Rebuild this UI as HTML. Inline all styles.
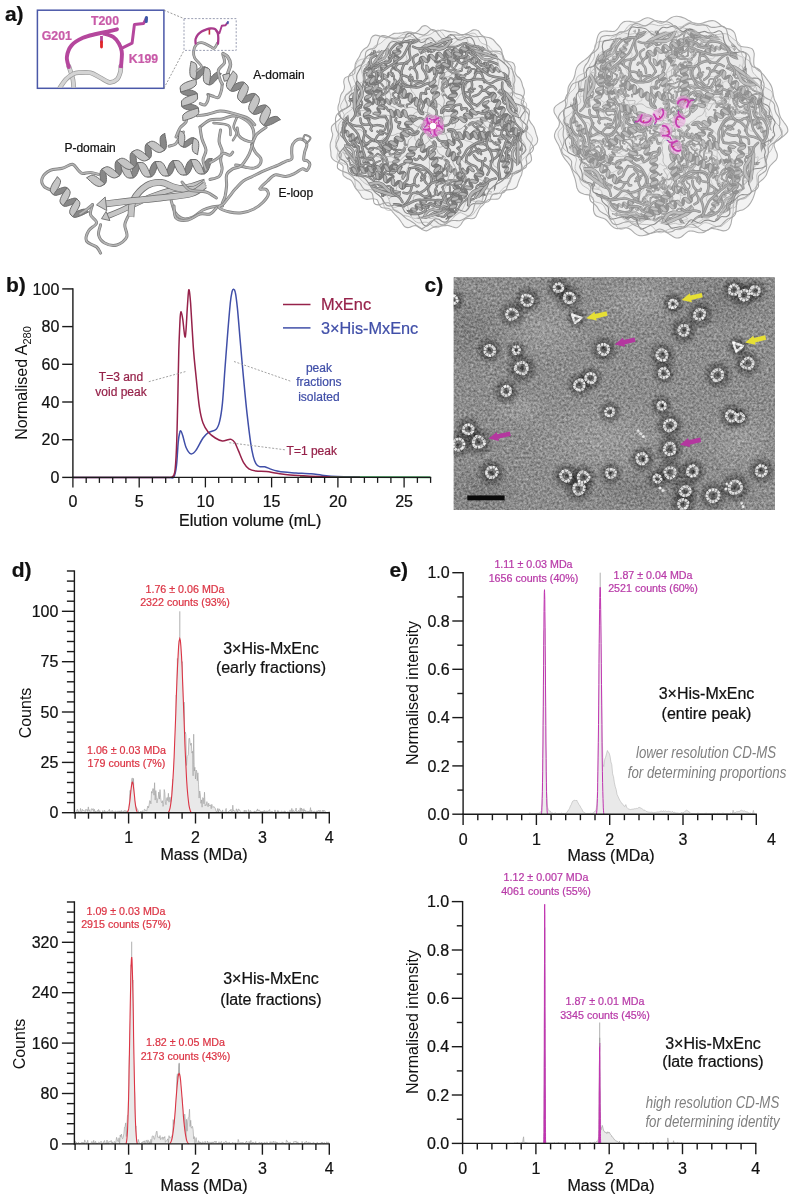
<!DOCTYPE html>
<html><head><meta charset="utf-8"><title>Figure</title>
<style>
html,body{margin:0;padding:0;background:#fff;}
body{width:793px;height:1199px;overflow:hidden;}
svg{display:block;font-family:"Liberation Sans",Arial,Helvetica,sans-serif;}
</style></head><body>
<svg width="793" height="1199" viewBox="0 0 793 1199">
<rect width="793" height="1199" fill="#fff"/>
<text x="6" y="292" font-size="21" fill="#111" font-weight="bold" stroke="#111" stroke-width="0.22">b)</text>
<path d="M72.9 477.4L150 477.4" stroke="#404fa8" stroke-width="1.5" fill="none"/>
<path d="M72.9 477.4L150 477.4" stroke="#96224a" stroke-width="1.5" fill="none"/>
<path d="M300 477L430 477.4" stroke="#2e9a4a" stroke-width="1.6" fill="none"/>
<path d="M150 477.4C153 477.4 164 477.5 168 477.4C172 477.3 172.4 479 173.8 477C175.2 475 175.8 471.2 176.5 465.4C177.2 459.6 177.7 447.8 178.2 442.4C178.7 436.9 179.2 434.6 179.7 432.7C180.1 430.8 180.4 430.6 180.9 431C181.4 431.4 181.8 432.6 182.7 435.4C183.6 438.2 184.8 444.6 186.2 447.7C187.6 450.8 189.4 453.4 191 453.9C192.6 454.3 193.9 453 195.9 450.4C197.9 447.8 200.9 440.9 203 438C205.1 435.1 206.1 434.2 208.3 432.7C210.5 431.2 214.3 431.1 216.2 429.2C218.1 427.3 218.7 425.5 219.7 421.2C220.7 416.9 221.5 412.4 222.4 403.6C223.3 394.8 224.1 380.1 225 368.3C225.9 356.5 226.8 343.9 227.7 333C228.6 322.1 229.6 309.9 230.3 303C231 296.1 231.6 293.8 232.1 291.5C232.6 289.2 233 289.1 233.5 289.2C234 289.3 234.7 289.2 235.3 292.4C236 295.6 236.6 300.5 237.4 308.2C238.2 315.9 239 326.5 240 338.3C241 350.1 242.4 366.2 243.6 378.9C244.8 391.5 245.9 403.6 247.1 414.2C248.3 424.8 249.6 435.3 250.6 442.4C251.6 449.5 252.4 453.1 253.3 456.6C254.2 460.1 254.9 461.9 255.9 463.6C256.9 465.3 258 466.1 259.5 466.6C261 467.1 263 466.4 264.8 466.8C266.6 467.2 268.1 468.2 270.1 468.9C272.2 469.6 274.8 470.5 277.1 471C279.5 471.5 281.1 471.8 284.2 472.1C287.3 472.4 291.5 472.6 296 472.9C300.5 473.2 306.7 473.4 311 473.8C315.3 474.2 317.7 474.7 322 475.2C326.3 475.7 330.7 476.3 337 476.6C343.3 476.9 356.2 477.1 360 477.2" stroke="#404fa8" stroke-width="1.5" fill="none" stroke-linejoin="round"/>
<path d="M150 477.4C152.5 477.4 161.5 477.4 165 477.4C168.5 477.4 169.6 478 171.2 477.2C172.8 476.4 173.8 477.3 174.7 472.4C175.6 467.5 176 459.2 176.5 447.7C177 436.2 177.3 419.8 177.7 403.6C178.1 387.4 178.4 364.4 178.8 350.6C179.2 336.8 179.7 327.1 180 320.6C180.3 314.1 180.5 312.1 180.9 311.8C181.3 311.5 182 314.6 182.7 318.8C183.4 323 184.5 338.9 185.3 336.9C186.1 334.8 186.8 314.4 187.4 306.5C188 298.6 188.3 290.3 188.8 289.7C189.3 289.1 189.8 293.4 190.6 303C191.3 312.6 192.4 334.5 193.3 347.1C194.2 359.8 195.3 368.9 196.3 378.9C197.3 388.9 198.3 399.8 199.4 407.1C200.5 414.5 201.5 418.8 203 423C204.5 427.2 206.2 429.7 208.3 432.2C210.4 434.7 213 436.5 215.3 438C217.7 439.5 220.3 440.7 222.4 441C224.5 441.3 226.2 440.1 227.7 439.8C229.2 439.5 230 439 231.2 439.4C232.4 439.8 233.5 440.6 234.7 442.4C235.9 444.2 236.8 447 238.3 450.4C239.8 453.8 241.8 459.6 243.6 462.7C245.4 465.8 246.8 467.5 248.9 468.9C251 470.3 253 470.6 255.9 471C258.8 471.4 263 471 266.5 471.4C270 471.8 273.2 472.7 277.1 473.3C281 473.9 284.5 474.6 290 475.1C295.5 475.6 302.5 475.9 310 476.2C317.5 476.5 326.7 476.8 335 477C343.3 477.2 355.8 477.2 360 477.3" stroke="#96224a" stroke-width="1.5" fill="none" stroke-linejoin="round"/>
<path d="M330 477.2L431 477.4" stroke="#2e9a4a" stroke-width="1.3" fill="none" opacity="0.9"/>
<line x1="72.9" y1="288.3" x2="72.9" y2="478" stroke="#1a1a1a" stroke-width="1.4" />
<line x1="72.2" y1="477.4" x2="431.2" y2="477.4" stroke="#1a1a1a" stroke-width="1.4" />
<line x1="62.2" y1="477.4" x2="72.9" y2="477.4" stroke="#1a1a1a" stroke-width="1.4" />
<text x="59.3" y="483.1" font-size="16" fill="#111" text-anchor="end" stroke="#111" stroke-width="0.22">0</text>
<line x1="62.2" y1="439.7" x2="72.9" y2="439.7" stroke="#1a1a1a" stroke-width="1.4" />
<text x="59.3" y="445.4" font-size="16" fill="#111" text-anchor="end" stroke="#111" stroke-width="0.22">20</text>
<line x1="62.2" y1="402" x2="72.9" y2="402" stroke="#1a1a1a" stroke-width="1.4" />
<text x="59.3" y="407.7" font-size="16" fill="#111" text-anchor="end" stroke="#111" stroke-width="0.22">40</text>
<line x1="62.2" y1="364.3" x2="72.9" y2="364.3" stroke="#1a1a1a" stroke-width="1.4" />
<text x="59.3" y="370" font-size="16" fill="#111" text-anchor="end" stroke="#111" stroke-width="0.22">60</text>
<line x1="62.2" y1="326.6" x2="72.9" y2="326.6" stroke="#1a1a1a" stroke-width="1.4" />
<text x="59.3" y="332.3" font-size="16" fill="#111" text-anchor="end" stroke="#111" stroke-width="0.22">80</text>
<line x1="62.2" y1="288.9" x2="72.9" y2="288.9" stroke="#1a1a1a" stroke-width="1.4" />
<text x="59.3" y="294.6" font-size="16" fill="#111" text-anchor="end" stroke="#111" stroke-width="0.22">100</text>
<line x1="72.9" y1="477.4" x2="72.9" y2="487.4" stroke="#1a1a1a" stroke-width="1.3" />
<text x="72.9" y="506.7" font-size="16" fill="#111" text-anchor="middle" stroke="#111" stroke-width="0.22">0</text>
<line x1="86.2" y1="477.4" x2="86.2" y2="482.9" stroke="#1a1a1a" stroke-width="1.3" />
<line x1="99.4" y1="477.4" x2="99.4" y2="482.9" stroke="#1a1a1a" stroke-width="1.3" />
<line x1="112.7" y1="477.4" x2="112.7" y2="482.9" stroke="#1a1a1a" stroke-width="1.3" />
<line x1="125.9" y1="477.4" x2="125.9" y2="482.9" stroke="#1a1a1a" stroke-width="1.3" />
<line x1="139.2" y1="477.4" x2="139.2" y2="487.4" stroke="#1a1a1a" stroke-width="1.3" />
<text x="139.2" y="506.7" font-size="16" fill="#111" text-anchor="middle" stroke="#111" stroke-width="0.22">5</text>
<line x1="152.4" y1="477.4" x2="152.4" y2="482.9" stroke="#1a1a1a" stroke-width="1.3" />
<line x1="165.7" y1="477.4" x2="165.7" y2="482.9" stroke="#1a1a1a" stroke-width="1.3" />
<line x1="178.9" y1="477.4" x2="178.9" y2="482.9" stroke="#1a1a1a" stroke-width="1.3" />
<line x1="192.2" y1="477.4" x2="192.2" y2="482.9" stroke="#1a1a1a" stroke-width="1.3" />
<line x1="205.4" y1="477.4" x2="205.4" y2="487.4" stroke="#1a1a1a" stroke-width="1.3" />
<text x="205.4" y="506.7" font-size="16" fill="#111" text-anchor="middle" stroke="#111" stroke-width="0.22">10</text>
<line x1="218.7" y1="477.4" x2="218.7" y2="482.9" stroke="#1a1a1a" stroke-width="1.3" />
<line x1="231.9" y1="477.4" x2="231.9" y2="482.9" stroke="#1a1a1a" stroke-width="1.3" />
<line x1="245.2" y1="477.4" x2="245.2" y2="482.9" stroke="#1a1a1a" stroke-width="1.3" />
<line x1="258.4" y1="477.4" x2="258.4" y2="482.9" stroke="#1a1a1a" stroke-width="1.3" />
<line x1="271.6" y1="477.4" x2="271.6" y2="487.4" stroke="#1a1a1a" stroke-width="1.3" />
<text x="271.6" y="506.7" font-size="16" fill="#111" text-anchor="middle" stroke="#111" stroke-width="0.22">15</text>
<line x1="284.9" y1="477.4" x2="284.9" y2="482.9" stroke="#1a1a1a" stroke-width="1.3" />
<line x1="298.1" y1="477.4" x2="298.1" y2="482.9" stroke="#1a1a1a" stroke-width="1.3" />
<line x1="311.4" y1="477.4" x2="311.4" y2="482.9" stroke="#1a1a1a" stroke-width="1.3" />
<line x1="324.6" y1="477.4" x2="324.6" y2="482.9" stroke="#1a1a1a" stroke-width="1.3" />
<line x1="337.9" y1="477.4" x2="337.9" y2="487.4" stroke="#1a1a1a" stroke-width="1.3" />
<text x="337.9" y="506.7" font-size="16" fill="#111" text-anchor="middle" stroke="#111" stroke-width="0.22">20</text>
<line x1="351.1" y1="477.4" x2="351.1" y2="482.9" stroke="#1a1a1a" stroke-width="1.3" />
<line x1="364.4" y1="477.4" x2="364.4" y2="482.9" stroke="#1a1a1a" stroke-width="1.3" />
<line x1="377.6" y1="477.4" x2="377.6" y2="482.9" stroke="#1a1a1a" stroke-width="1.3" />
<line x1="390.9" y1="477.4" x2="390.9" y2="482.9" stroke="#1a1a1a" stroke-width="1.3" />
<line x1="404.1" y1="477.4" x2="404.1" y2="487.4" stroke="#1a1a1a" stroke-width="1.3" />
<text x="404.1" y="506.7" font-size="16" fill="#111" text-anchor="middle" stroke="#111" stroke-width="0.22">25</text>
<line x1="417.4" y1="477.4" x2="417.4" y2="482.9" stroke="#1a1a1a" stroke-width="1.3" />
<line x1="430.6" y1="477.4" x2="430.6" y2="482.9" stroke="#1a1a1a" stroke-width="1.3" />
<text x="250.2" y="526.3" font-size="16" fill="#111" text-anchor="middle" stroke="#111" stroke-width="0.22">Elution volume (mL)</text>
<text transform="translate(26.5,383) rotate(-90)" font-size="16" fill="#111" text-anchor="middle">Normalised A<tspan font-size="11" dy="4">280</tspan></text>
<line x1="283" y1="304.5" x2="310.5" y2="304.5" stroke="#96224a" stroke-width="1.5" />
<line x1="283" y1="327.9" x2="310.5" y2="327.9" stroke="#404fa8" stroke-width="1.5" />
<text x="321" y="310.4" font-size="16.4" fill="#96224a" stroke="#96224a" stroke-width="0.22">MxEnc</text>
<text x="321" y="333.6" font-size="16.3" fill="#404fa8" stroke="#404fa8" stroke-width="0.22">3×His-MxEnc</text>
<text x="121" y="380.5" font-size="12" fill="#96224a" text-anchor="middle" stroke="#96224a" stroke-width="0.22">T=3 and</text>
<text x="121" y="395.7" font-size="12" fill="#96224a" text-anchor="middle" stroke="#96224a" stroke-width="0.22">void peak</text>
<text x="318.9" y="372" font-size="12" fill="#404fa8" text-anchor="middle" stroke="#404fa8" stroke-width="0.22">peak</text>
<text x="318.9" y="386.4" font-size="12" fill="#404fa8" text-anchor="middle" stroke="#404fa8" stroke-width="0.22">fractions</text>
<text x="318.9" y="400.9" font-size="12" fill="#404fa8" text-anchor="middle" stroke="#404fa8" stroke-width="0.22">isolated</text>
<text x="286.6" y="455" font-size="12" fill="#96224a" stroke="#96224a" stroke-width="0.22">T=1 peak</text>
<line x1="148.8" y1="381.7" x2="185.4" y2="371.6" stroke="#999" stroke-width="0.9" stroke-dasharray="2 1.6"/>
<line x1="234" y1="361.5" x2="291.5" y2="381.5" stroke="#999" stroke-width="0.9" stroke-dasharray="2 1.6"/>
<line x1="229.3" y1="442.7" x2="285" y2="449.8" stroke="#999" stroke-width="0.9" stroke-dasharray="2 1.6"/>
<text x="11.8" y="576.5" font-size="21" fill="#111" font-weight="bold" stroke="#111" stroke-width="0.22">d)</text>
<path d="M75.1 812.7L75.1 812.7L75.7 812.7L76.3 811.5L76.9 810.1L77.5 809.2L78.1 811.9L78.7 810.7L79.3 812.7L79.9 812.7L80.5 808.4L81.1 811.4L81.7 811.6L82.3 809.3L82.9 810.8L83.5 810.5L84.1 811L84.7 810.7L85.3 811.6L85.9 809.2L86.5 810.2L87.1 809.6L87.7 811.5L88.3 806.9L88.9 810.6L89.5 809.8L90.1 812.6L90.7 812.6L91.3 808.9L91.9 808.8L92.5 809.6L93.1 808.5L93.7 811.6L94.3 809.2L94.9 812.7L95.6 810.9L96.2 812.2L96.8 812.2L97.4 810.4L98 811.5L98.6 809.4L99.2 812.7L99.8 810.6L100.4 811.7L101 812.6L101.6 812.7L102.2 812.5L102.8 810.5L103.4 811.9L104 812.7L104.6 810.2L105.2 812.1L105.8 811.8L106.4 811.6L107 812.7L107.6 811.3L108.2 811L108.8 810.9L109.4 809.3L110 812.5L110.6 811.7L111.2 810.7L111.8 811.7L112.4 810.4L113 812.2L113.6 811.7L114.2 812.7L114.8 811.4L115.4 810.8L116 811.9L116.6 811.8L117.2 811.5L117.8 811L118.4 812.7L119 810.8L119.6 811.8L120.2 810.9L120.8 812.7L121.4 810.4L122 812.7L122.6 811.8L123.2 810.8L123.9 812.7L124.5 810.7L125.1 810.1L125.7 812.6L126.3 812.1L126.9 810.7L127.5 812.2L128.1 810.9L128.7 812.2L129.3 806.1L129.9 790.5L130.5 790.4L131.1 793.3L131.7 779.2L132.3 777.9L132.9 785.5L133.5 778.4L134.1 797.6L134.7 800.9L135.3 806.5L135.9 806.2L136.5 807.7L137.1 809L137.7 809.3L138.3 811L138.9 812.1L139.5 812.4L140.1 812.7L140.7 811.2L141.3 812.7L141.9 811.2L142.5 810.8L143.1 812.7L143.7 812.7L144.3 809.4L144.9 809.3L145.5 810.6L146.1 810.4L146.7 811.2L147.3 808L147.9 806L148.5 807.8L149.1 805L149.7 800.6L150.3 801L150.9 803.8L151.5 791.5L152.1 793.2L152.8 788.6L153.4 788.8L154 795.2L154.6 782.7L155.2 800.1L155.8 790.6L156.4 797.2L157 802.9L157.6 799.1L158.2 797.7L158.8 792L159.4 799.1L160 789.6L160.6 797.2L161.2 801.4L161.8 802.8L162.4 800.7L163 806.4L163.6 804.7L164.2 789.5L164.8 792.5L165.4 801.8L166 804.7L166.6 798.3L167.2 797.4L167.8 800.7L168.4 793.3L169 802.2L169.6 797.5L170.2 797.1L170.8 802.3L171.4 802.7L172 792.2L172.6 779.2L173.2 791.7L173.8 775.3L174.4 758.9L175 752.8L175.6 740.9L176.2 695.2L176.8 698.9L177.4 658.4L178 681.3L178.6 654L179.2 641.4L179.8 640.2L180.4 672.5L181 656.5L181.7 662.8L182.3 661.7L182.9 699.5L183.5 729.6L184.1 702.1L184.7 734.2L185.3 732.1L185.9 734.6L186.5 765.5L187.1 756.5L187.7 755.7L188.3 754.6L188.9 738.8L189.5 738.1L190.1 742.7L190.7 745.3L191.3 743.1L191.9 753.1L192.5 751.3L193.1 775.8L193.7 734.2L194.3 771L194.9 767.3L195.5 779L196.1 770L196.7 771.1L197.3 780.7L197.9 772.8L198.5 784.2L199.1 798.1L199.7 791L200.3 794.2L200.9 803.3L201.5 799.9L202.1 807.2L202.7 797.6L203.3 798L203.9 803.8L204.5 792.2L205.1 805.9L205.7 804.7L206.3 805.3L206.9 801.6L207.5 805L208.1 806.8L208.7 803.2L209.3 805.9L210 805L210.6 805L211.2 808.7L211.8 804.3L212.4 806.8L213 807.5L213.6 806.6L214.2 806.8L214.8 807.8L215.4 808.6L216 810.8L216.6 812.2L217.2 811L217.8 808.4L218.4 812.3L219 808.8L219.6 809.3L220.2 811L220.8 810.8L221.4 812.1L222 812.7L222.6 809.9L223.2 812.4L223.8 812.7L224.4 812.1L225 812.7L225.6 809.5L226.2 808.4L226.8 812.7L227.4 812.7L228 811.7L228.6 811.7L229.2 810.9L229.8 810.3L230.4 811L231 809.2L231.6 812.5L232.2 812.7L232.8 805.2L233.4 811.1L234 810.3L234.6 811.7L235.2 812.7L235.8 811.5L236.4 808.8L237 810.4L237.6 812.3L238.2 809.2L238.9 809.2L239.5 810.3L240.1 810.5L240.7 811.4L241.3 812.7L241.9 812.2L242.5 812.2L243.1 812.7L243.7 812L244.3 810.1L244.9 812.6L245.5 810.8L246.1 810.1L246.7 812.4L247.3 812.7L247.9 812.7L248.5 809.6L249.1 811.2L249.7 812.7L250.3 810.5L250.9 810.9L251.5 812.7L252.1 811.8L252.7 812.7L253.3 811.7L253.9 812.7L254.5 810.9L255.1 812.2L255.7 812.1L256.3 810.7L256.9 811L257.5 808.9L258.1 810.9L258.7 810.2L259.3 810.2L259.9 810.5L260.5 812L261.1 811L261.7 812.3L262.3 811.2L262.9 812.2L263.5 810.8L264.1 812.7L264.7 810.4L265.3 811.7L265.9 811.8L266.5 810.8L267.1 812.7L267.8 810.9L268.4 811.1L269 810.5L269.6 809.6L270.2 812.4L270.8 811.7L271.4 811.5L272 811.8L272.6 811.6L273.2 812.7L273.8 812.1L274.4 812.2L275 809.9L275.6 812L276.2 812.7L276.8 812.6L277.4 810.5L278 812.7L278.6 810.7L279.2 812L279.8 812.7L280.4 812.7L281 811.5L281.6 810.9L282.2 811.4L282.8 812.6L283.4 811.6L284 812.7L284.6 810.8L285.2 812L285.8 811.6L286.4 812.7L287 812.3L287.6 811.9L288.2 811.6L288.8 812.4L289.4 812.5L290 809.9L290.6 811.5L291.2 812.7L291.8 808.4L292.4 812.7L293 809.8L293.6 811.3L294.2 812.7L294.8 811.1L295.4 811L296.1 808L296.7 812.4L297.3 811.7L297.9 811.1L298.5 810.4L299.1 812.7L299.7 810.6L300.3 807.8L300.9 812.7L301.5 808L302.1 810.4L302.7 809.5L303.3 812.7L303.9 808.7L304.5 811.2L305.1 810L305.7 812.2L306.3 812.5L306.9 810.8L307.5 811.6L308.1 811L308.7 812.1L309.3 810.7L309.9 811.8L310.5 807.6L311.1 812.1L311.7 810.3L312.3 812.7L312.9 811.6L313.5 811.6L314.1 811.1L314.7 811.2L315.3 812.1L315.9 812.3L316.5 811.1L317.1 810.8L317.7 812.2L318.3 810.1L318.9 810.7L319.5 811.7L320.1 810L320.7 812.4L321.3 812.7L321.9 811.4L322.5 810.1L323.1 812.2L323.7 810.1L324.3 810.9L325 810.6L325.6 812.7L326.2 812.7L326.8 812L327.4 812.7L328 812.2L328.6 812.7L329.2 811.5L329.2 812.7" fill="#e9e9e9" stroke="#9a9a9a" stroke-width="0.6" stroke-linejoin="round"/>
<line x1="179.8" y1="611.3" x2="179.8" y2="639.5" stroke="#9a9a9a" stroke-width="0.8" />
<path d="M126.8 812.7L127.1 812.5L127.4 812.2L127.6 811.8L127.9 811.3L128.2 810.6L128.5 809.6L128.8 808.4L129 806.9L129.3 805.1L129.6 803L129.9 800.7L130.2 798L130.4 795.3L130.7 792.5L131 789.8L131.3 787.3L131.6 785.2L131.9 783.6L132.1 782.6L132.4 782.2L132.7 782.6L133 783.6L133.3 785.2L133.5 787.3L133.8 789.8L134.1 792.5L134.4 795.3L134.7 798L134.9 800.7L135.2 803L135.5 805.1L135.8 806.9L136.1 808.4L136.3 809.6L136.6 810.6L136.9 811.3L137.2 811.8L137.5 812.2L137.8 812.5L138 812.7Z" fill="#e9e9e9" stroke="none"/>
<path d="M126.8 812.7L127.1 812.5L127.4 812.2L127.6 811.8L127.9 811.3L128.2 810.6L128.5 809.6L128.8 808.4L129 806.9L129.3 805.1L129.6 803L129.9 800.7L130.2 798L130.4 795.3L130.7 792.5L131 789.8L131.3 787.3L131.6 785.2L131.9 783.6L132.1 782.6L132.4 782.2L132.7 782.6L133 783.6L133.3 785.2L133.5 787.3L133.8 789.8L134.1 792.5L134.4 795.3L134.7 798L134.9 800.7L135.2 803L135.5 805.1L135.8 806.9L136.1 808.4L136.3 809.6L136.6 810.6L136.9 811.3L137.2 811.8L137.5 812.2L137.8 812.5L138 812.7" fill="none" stroke="#dc3545" stroke-width="1.1"/>
<path d="M168.3 812.7L168.9 811.6L169.5 810.1L170.1 807.8L170.6 804.8L171.2 800.7L171.8 795.2L172.3 788.4L172.9 779.8L173.5 769.5L174.1 757.5L174.6 743.9L175.2 729L175.8 713.2L176.3 697.3L176.9 681.8L177.5 667.6L178.1 655.6L178.6 646.4L179.2 640.6L179.8 638.6L180.4 640.6L180.9 646.4L181.5 655.6L182.1 667.6L182.6 681.8L183.2 697.3L183.8 713.2L184.4 729L184.9 743.9L185.5 757.5L186.1 769.5L186.6 779.8L187.2 788.4L187.8 795.2L188.4 800.7L188.9 804.8L189.5 807.8L190.1 810.1L190.6 811.6L191.2 812.7Z" fill="#e9e9e9" stroke="none"/>
<path d="M168.3 812.7L168.9 811.6L169.5 810.1L170.1 807.8L170.6 804.8L171.2 800.7L171.8 795.2L172.3 788.4L172.9 779.8L173.5 769.5L174.1 757.5L174.6 743.9L175.2 729L175.8 713.2L176.3 697.3L176.9 681.8L177.5 667.6L178.1 655.6L178.6 646.4L179.2 640.6L179.8 638.6L180.4 640.6L180.9 646.4L181.5 655.6L182.1 667.6L182.6 681.8L183.2 697.3L183.8 713.2L184.4 729L184.9 743.9L185.5 757.5L186.1 769.5L186.6 779.8L187.2 788.4L187.8 795.2L188.4 800.7L188.9 804.8L189.5 807.8L190.1 810.1L190.6 811.6L191.2 812.7" fill="none" stroke="#dc3545" stroke-width="1.1"/>
<line x1="74.4" y1="570.4" x2="74.4" y2="813.4" stroke="#1a1a1a" stroke-width="1.4" />
<line x1="73.8" y1="812.7" x2="329.9" y2="812.7" stroke="#1a1a1a" stroke-width="1.4" />
<line x1="75.1" y1="812.7" x2="75.1" y2="818.7" stroke="#1a1a1a" stroke-width="1.4" />
<line x1="88.5" y1="812.7" x2="88.5" y2="818.7" stroke="#1a1a1a" stroke-width="1.4" />
<line x1="101.8" y1="812.7" x2="101.8" y2="818.7" stroke="#1a1a1a" stroke-width="1.4" />
<line x1="115.2" y1="812.7" x2="115.2" y2="818.7" stroke="#1a1a1a" stroke-width="1.4" />
<line x1="128.6" y1="812.7" x2="128.6" y2="823.5" stroke="#1a1a1a" stroke-width="1.4" />
<line x1="142" y1="812.7" x2="142" y2="818.7" stroke="#1a1a1a" stroke-width="1.4" />
<line x1="155.4" y1="812.7" x2="155.4" y2="818.7" stroke="#1a1a1a" stroke-width="1.4" />
<line x1="168.7" y1="812.7" x2="168.7" y2="818.7" stroke="#1a1a1a" stroke-width="1.4" />
<line x1="182.1" y1="812.7" x2="182.1" y2="818.7" stroke="#1a1a1a" stroke-width="1.4" />
<line x1="195.5" y1="812.7" x2="195.5" y2="823.5" stroke="#1a1a1a" stroke-width="1.4" />
<line x1="208.9" y1="812.7" x2="208.9" y2="818.7" stroke="#1a1a1a" stroke-width="1.4" />
<line x1="222.3" y1="812.7" x2="222.3" y2="818.7" stroke="#1a1a1a" stroke-width="1.4" />
<line x1="235.6" y1="812.7" x2="235.6" y2="818.7" stroke="#1a1a1a" stroke-width="1.4" />
<line x1="249" y1="812.7" x2="249" y2="818.7" stroke="#1a1a1a" stroke-width="1.4" />
<line x1="262.4" y1="812.7" x2="262.4" y2="823.5" stroke="#1a1a1a" stroke-width="1.4" />
<line x1="275.8" y1="812.7" x2="275.8" y2="818.7" stroke="#1a1a1a" stroke-width="1.4" />
<line x1="289.2" y1="812.7" x2="289.2" y2="818.7" stroke="#1a1a1a" stroke-width="1.4" />
<line x1="302.5" y1="812.7" x2="302.5" y2="818.7" stroke="#1a1a1a" stroke-width="1.4" />
<line x1="315.9" y1="812.7" x2="315.9" y2="818.7" stroke="#1a1a1a" stroke-width="1.4" />
<line x1="329.3" y1="812.7" x2="329.3" y2="823.5" stroke="#1a1a1a" stroke-width="1.4" />
<line x1="61.9" y1="812.7" x2="74.4" y2="812.7" stroke="#1a1a1a" stroke-width="1.4" />
<line x1="66.9" y1="802.6" x2="74.4" y2="802.6" stroke="#1a1a1a" stroke-width="1.4" />
<line x1="66.9" y1="792.6" x2="74.4" y2="792.6" stroke="#1a1a1a" stroke-width="1.4" />
<line x1="66.9" y1="782.5" x2="74.4" y2="782.5" stroke="#1a1a1a" stroke-width="1.4" />
<line x1="66.9" y1="772.4" x2="74.4" y2="772.4" stroke="#1a1a1a" stroke-width="1.4" />
<line x1="61.9" y1="762.4" x2="74.4" y2="762.4" stroke="#1a1a1a" stroke-width="1.4" />
<line x1="66.9" y1="752.3" x2="74.4" y2="752.3" stroke="#1a1a1a" stroke-width="1.4" />
<line x1="66.9" y1="742.2" x2="74.4" y2="742.2" stroke="#1a1a1a" stroke-width="1.4" />
<line x1="66.9" y1="732.1" x2="74.4" y2="732.1" stroke="#1a1a1a" stroke-width="1.4" />
<line x1="66.9" y1="722.1" x2="74.4" y2="722.1" stroke="#1a1a1a" stroke-width="1.4" />
<line x1="61.9" y1="712" x2="74.4" y2="712" stroke="#1a1a1a" stroke-width="1.4" />
<line x1="66.9" y1="701.9" x2="74.4" y2="701.9" stroke="#1a1a1a" stroke-width="1.4" />
<line x1="66.9" y1="691.9" x2="74.4" y2="691.9" stroke="#1a1a1a" stroke-width="1.4" />
<line x1="66.9" y1="681.8" x2="74.4" y2="681.8" stroke="#1a1a1a" stroke-width="1.4" />
<line x1="66.9" y1="671.7" x2="74.4" y2="671.7" stroke="#1a1a1a" stroke-width="1.4" />
<line x1="61.9" y1="661.7" x2="74.4" y2="661.7" stroke="#1a1a1a" stroke-width="1.4" />
<line x1="66.9" y1="651.6" x2="74.4" y2="651.6" stroke="#1a1a1a" stroke-width="1.4" />
<line x1="66.9" y1="641.5" x2="74.4" y2="641.5" stroke="#1a1a1a" stroke-width="1.4" />
<line x1="66.9" y1="631.4" x2="74.4" y2="631.4" stroke="#1a1a1a" stroke-width="1.4" />
<line x1="66.9" y1="621.4" x2="74.4" y2="621.4" stroke="#1a1a1a" stroke-width="1.4" />
<line x1="61.9" y1="611.3" x2="74.4" y2="611.3" stroke="#1a1a1a" stroke-width="1.4" />
<line x1="66.9" y1="601.2" x2="74.4" y2="601.2" stroke="#1a1a1a" stroke-width="1.4" />
<line x1="66.9" y1="591.2" x2="74.4" y2="591.2" stroke="#1a1a1a" stroke-width="1.4" />
<line x1="66.9" y1="581.1" x2="74.4" y2="581.1" stroke="#1a1a1a" stroke-width="1.4" />
<line x1="66.9" y1="571" x2="74.4" y2="571" stroke="#1a1a1a" stroke-width="1.4" />
<text x="58.4" y="818.4" font-size="16" fill="#111" text-anchor="end" stroke="#111" stroke-width="0.22">0</text>
<text x="58.4" y="768.1" font-size="16" fill="#111" text-anchor="end" stroke="#111" stroke-width="0.22">25</text>
<text x="58.4" y="717.7" font-size="16" fill="#111" text-anchor="end" stroke="#111" stroke-width="0.22">50</text>
<text x="58.4" y="667.4" font-size="16" fill="#111" text-anchor="end" stroke="#111" stroke-width="0.22">75</text>
<text x="58.4" y="617" font-size="16" fill="#111" text-anchor="end" stroke="#111" stroke-width="0.22">100</text>
<text x="128.6" y="843.2" font-size="16" fill="#111" text-anchor="middle" stroke="#111" stroke-width="0.22">1</text>
<text x="195.5" y="843.2" font-size="16" fill="#111" text-anchor="middle" stroke="#111" stroke-width="0.22">2</text>
<text x="262.4" y="843.2" font-size="16" fill="#111" text-anchor="middle" stroke="#111" stroke-width="0.22">3</text>
<text x="329.3" y="843.2" font-size="16" fill="#111" text-anchor="middle" stroke="#111" stroke-width="0.22">4</text>
<text x="204" y="859.5" font-size="16" fill="#111" text-anchor="middle" stroke="#111" stroke-width="0.22">Mass (MDa)</text>
<text transform="translate(30.5,713) rotate(-90)" font-size="16" fill="#111" text-anchor="middle">Counts</text>
<text x="185" y="592.5" font-size="10.7" fill="#dc3545" text-anchor="middle" stroke="#dc3545" stroke-width="0.22">1.76 ± 0.06 MDa</text>
<text x="185" y="606" font-size="10.7" fill="#dc3545" text-anchor="middle" stroke="#dc3545" stroke-width="0.22">2322 counts (93%)</text>
<text x="126.5" y="753.5" font-size="10.7" fill="#dc3545" text-anchor="middle" stroke="#dc3545" stroke-width="0.22">1.06 ± 0.03 MDa</text>
<text x="126.5" y="767" font-size="10.7" fill="#dc3545" text-anchor="middle" stroke="#dc3545" stroke-width="0.22">179 counts (7%)</text>
<text x="271" y="653.7" font-size="16" fill="#111" text-anchor="middle" stroke="#111" stroke-width="0.22">3×His-MxEnc</text>
<text x="271" y="673.2" font-size="16" fill="#111" text-anchor="middle" stroke="#111" stroke-width="0.22">(early fractions)</text>
<path d="M75.1 1143.9L75.1 1140.9L75.7 1143.9L76.3 1142L76.9 1142.8L77.5 1143.9L78.1 1142.8L78.7 1142.3L79.3 1143.9L79.9 1143.9L80.5 1143.2L81.1 1142.5L81.7 1142.5L82.3 1143L82.9 1142L83.5 1142.7L84.1 1143.9L84.7 1139.9L85.3 1141.5L85.9 1142.1L86.5 1143.1L87.1 1142.8L87.7 1140.2L88.3 1143.8L88.9 1143.1L89.5 1143.9L90.1 1143.5L90.7 1143.2L91.3 1142.9L91.9 1141.4L92.5 1142.8L93.1 1143.9L93.7 1140.3L94.3 1143.1L94.9 1143L95.6 1141.3L96.2 1143.9L96.8 1142.9L97.4 1143.9L98 1142.7L98.6 1142.2L99.2 1142.6L99.8 1143L100.4 1141.7L101 1141.5L101.6 1141.6L102.2 1143.4L102.8 1143.5L103.4 1143.1L104 1141L104.6 1140.6L105.2 1143.5L105.8 1143.2L106.4 1143.6L107 1140L107.6 1143.4L108.2 1143.9L108.8 1141.5L109.4 1141.7L110 1142L110.6 1141L111.2 1140.4L111.8 1142.9L112.4 1141.8L113 1143.9L113.6 1143.6L114.2 1141.4L114.8 1141.9L115.4 1143.9L116 1140.7L116.6 1137.3L117.2 1139.3L117.8 1141.3L118.4 1141.7L119 1137.8L119.6 1143.6L120.2 1135L120.8 1136.8L121.4 1134L122 1137.5L122.6 1138.7L123.2 1137.1L123.9 1133.8L124.5 1127.1L125.1 1126.6L125.7 1122.9L126.3 1136.5L126.9 1124.3L127.5 1115.3L128.1 1115.2L128.7 1088.9L129.3 1057.8L129.9 1047.2L130.5 1017.7L131.1 964.8L131.7 970.4L132.3 990.2L132.9 980L133.5 1059.2L134.1 1085.7L134.7 1093.5L135.3 1131.7L135.9 1125.9L136.5 1143.6L137.1 1143.5L137.7 1143.1L138.3 1139.4L138.9 1141.5L139.5 1142.7L140.1 1143.3L140.7 1143.9L141.3 1143.9L141.9 1142L142.5 1142.9L143.1 1141.4L143.7 1142.4L144.3 1140.8L144.9 1143.9L145.5 1143.2L146.1 1140.2L146.7 1140.5L147.3 1143L147.9 1139.9L148.5 1140.8L149.1 1143.9L149.7 1141.6L150.3 1143.9L150.9 1139.3L151.5 1143.9L152.1 1136.3L152.8 1135.9L153.4 1136.1L154 1138.9L154.6 1139.3L155.2 1135.9L155.8 1134.6L156.4 1131.6L157 1131.1L157.6 1137.2L158.2 1137.1L158.8 1137.2L159.4 1138.2L160 1135.5L160.6 1139.6L161.2 1138.5L161.8 1137.5L162.4 1137.1L163 1139.5L163.6 1137.4L164.2 1138L164.8 1136.5L165.4 1142.3L166 1141.2L166.6 1140.5L167.2 1140.1L167.8 1138.8L168.4 1142.8L169 1135.7L169.6 1137.8L170.2 1137.9L170.8 1137.3L171.4 1137.3L172 1135.6L172.6 1133.7L173.2 1119.6L173.8 1124.5L174.4 1120.9L175 1123.9L175.6 1105.6L176.2 1105.5L176.8 1077.2L177.4 1073.8L178 1082.2L178.6 1069.2L179.2 1062.9L179.8 1077.4L180.4 1088.7L181 1094.9L181.7 1097.3L182.3 1099.8L182.9 1116.1L183.5 1118.8L184.1 1132.3L184.7 1114.1L185.3 1119.5L185.9 1143.4L186.5 1119.3L187.1 1131.2L187.7 1121.2L188.3 1117.6L188.9 1117L189.5 1109.2L190.1 1126.5L190.7 1120.3L191.3 1128.1L191.9 1127.6L192.5 1126.4L193.1 1129.5L193.7 1138.8L194.3 1136.6L194.9 1143.9L195.5 1140.4L196.1 1137.6L196.7 1141.9L197.3 1143.9L197.9 1143L198.5 1140.6L199.1 1143.7L199.7 1141.7L200.3 1143L200.9 1142L201.5 1143.9L202.1 1143.9L202.7 1141.7L203.3 1142.6L203.9 1142.9L204.5 1143.9L205.1 1141.2L205.7 1143L206.3 1143.9L206.9 1143.3L207.5 1141L208.1 1143L208.7 1142.6L209.3 1142.4L210 1142.4L210.6 1142.3L211.2 1143.9L211.8 1141.9L212.4 1142.8L213 1141.9L213.6 1142.9L214.2 1141.6L214.8 1141.6L215.4 1142.5L216 1141L216.6 1142.5L217.2 1143.9L217.8 1143.5L218.4 1143.7L219 1141.7L219.6 1143.2L220.2 1143.9L220.8 1142L221.4 1141.4L222 1143.8L222.6 1143.9L223.2 1142.7L223.8 1142.1L224.4 1143L225 1142.1L225.6 1141.3L226.2 1141.2L226.8 1143.3L227.4 1142.8L228 1142.7L228.6 1143L229.2 1142.2L229.8 1142.5L230.4 1143.9L231 1143.4L231.6 1143.2L232.2 1142.8L232.8 1142.3L233.4 1143.2L234 1142.7L234.6 1142.9L235.2 1143.9L235.8 1142.5L236.4 1143.4L237 1143.2L237.6 1143.9L238.2 1139.4L238.9 1141.6L239.5 1143.9L240.1 1142.9L240.7 1142.5L241.3 1142.6L241.9 1143.1L242.5 1142L243.1 1142.6L243.7 1143.1L244.3 1143.5L244.9 1143.9L245.5 1142.3L246.1 1142.2L246.7 1141L247.3 1143.9L247.9 1143L248.5 1143.5L249.1 1141.4L249.7 1143L250.3 1143.1L250.9 1140.4L251.5 1143.9L252.1 1143.9L252.7 1142L253.3 1142.7L253.9 1142.3L254.5 1143.9L255.1 1143.6L255.7 1141.6L256.3 1143.8L256.9 1143.9L257.5 1143.8L258.1 1142.8L258.7 1143.3L259.3 1142.4L259.9 1142.4L260.5 1143.9L261.1 1142.6L261.7 1142L262.3 1143.7L262.9 1142.8L263.5 1143.9L264.1 1142.4L264.7 1142.4L265.3 1143.9L265.9 1142.5L266.5 1142.3L267.1 1141.9L267.8 1143.2L268.4 1143.9L269 1143.7L269.6 1143.2L270.2 1141.6L270.8 1143.9L271.4 1143.3L272 1141.7L272.6 1143.9L273.2 1142.7L273.8 1141.1L274.4 1143.3L275 1143.6L275.6 1141.7L276.2 1142L276.8 1143.2L277.4 1142.3L278 1143.9L278.6 1143.1L279.2 1142.6L279.8 1143.3L280.4 1143L281 1143.9L281.6 1143.4L282.2 1141.9L282.8 1142.7L283.4 1142.7L284 1143.9L284.6 1143.5L285.2 1143.9L285.8 1143.9L286.4 1140.3L287 1140.6L287.6 1141.8L288.2 1142.1L288.8 1143.9L289.4 1142.5L290 1142.3L290.6 1142.3L291.2 1143.9L291.8 1143.9L292.4 1143.9L293 1143.7L293.6 1141.7L294.2 1141.5L294.8 1141.7L295.4 1141.6L296.1 1141L296.7 1143.4L297.3 1143.1L297.9 1141.8L298.5 1143.9L299.1 1143.6L299.7 1142.9L300.3 1143.8L300.9 1143.1L301.5 1143.6L302.1 1141.4L302.7 1143.3L303.3 1143.9L303.9 1143.9L304.5 1142.3L305.1 1143.7L305.7 1142.4L306.3 1141.1L306.9 1142.1L307.5 1143.9L308.1 1142.7L308.7 1141.9L309.3 1143.6L309.9 1142.4L310.5 1142.7L311.1 1143.9L311.7 1143.2L312.3 1143.7L312.9 1142.5L313.5 1142.4L314.1 1143.5L314.7 1143.1L315.3 1143.3L315.9 1143.6L316.5 1143.2L317.1 1142.4L317.7 1142.5L318.3 1143.9L318.9 1143.9L319.5 1143.2L320.1 1143.7L320.7 1143.7L321.3 1142.1L321.9 1143L322.5 1142L323.1 1143.9L323.7 1143.9L324.3 1142.4L325 1143.9L325.6 1143.2L326.2 1143.6L326.8 1141.8L327.4 1142.9L328 1142.6L328.6 1142.2L329.2 1143.8L329.2 1143.9" fill="#e9e9e9" stroke="#9a9a9a" stroke-width="0.6" stroke-linejoin="round"/>
<line x1="131.7" y1="941.7" x2="131.7" y2="958.1" stroke="#9a9a9a" stroke-width="0.8" />
<line x1="179.1" y1="1063.9" x2="179.1" y2="1074.6" stroke="#9a9a9a" stroke-width="0.8" />
<path d="M126.1 1143.9L126.3 1142.7L126.6 1141.1L126.9 1138.7L127.2 1135.4L127.5 1131L127.7 1125.2L128 1117.8L128.3 1108.6L128.6 1097.6L128.9 1084.6L129.1 1070L129.4 1054L129.7 1037.1L130 1019.9L130.3 1003.3L130.6 988.1L130.8 975.2L131.1 965.3L131.4 959.1L131.7 957L132 959.1L132.2 965.3L132.5 975.2L132.8 988.1L133.1 1003.3L133.4 1019.9L133.6 1037.1L133.9 1054L134.2 1070L134.5 1084.6L134.8 1097.6L135 1108.6L135.3 1117.8L135.6 1125.2L135.9 1131L136.2 1135.4L136.5 1138.7L136.7 1141.1L137 1142.7L137.3 1143.9Z" fill="#e9e9e9" stroke="none"/>
<path d="M126.1 1143.9L126.3 1142.7L126.6 1141.1L126.9 1138.7L127.2 1135.4L127.5 1131L127.7 1125.2L128 1117.8L128.3 1108.6L128.6 1097.6L128.9 1084.6L129.1 1070L129.4 1054L129.7 1037.1L130 1019.9L130.3 1003.3L130.6 988.1L130.8 975.2L131.1 965.3L131.4 959.1L131.7 957L132 959.1L132.2 965.3L132.5 975.2L132.8 988.1L133.1 1003.3L133.4 1019.9L133.6 1037.1L133.9 1054L134.2 1070L134.5 1084.6L134.8 1097.6L135 1108.6L135.3 1117.8L135.6 1125.2L135.9 1131L136.2 1135.4L136.5 1138.7L136.7 1141.1L137 1142.7L137.3 1143.9" fill="none" stroke="#dc3545" stroke-width="1.1"/>
<path d="M169.5 1143.9L170 1143.5L170.4 1142.8L170.9 1141.9L171.4 1140.7L171.9 1139L172.4 1136.8L172.8 1134.1L173.3 1130.6L173.8 1126.4L174.3 1121.6L174.8 1116.1L175.3 1110L175.7 1103.7L176.2 1097.2L176.7 1091L177.2 1085.2L177.7 1080.4L178.1 1076.6L178.6 1074.3L179.1 1073.5L179.6 1074.3L180.1 1076.6L180.6 1080.4L181 1085.2L181.5 1091L182 1097.2L182.5 1103.7L183 1110L183.4 1116.1L183.9 1121.6L184.4 1126.4L184.9 1130.6L185.4 1134.1L185.9 1136.8L186.3 1139L186.8 1140.7L187.3 1141.9L187.8 1142.8L188.3 1143.5L188.7 1143.9Z" fill="#e9e9e9" stroke="none"/>
<path d="M169.5 1143.9L170 1143.5L170.4 1142.8L170.9 1141.9L171.4 1140.7L171.9 1139L172.4 1136.8L172.8 1134.1L173.3 1130.6L173.8 1126.4L174.3 1121.6L174.8 1116.1L175.3 1110L175.7 1103.7L176.2 1097.2L176.7 1091L177.2 1085.2L177.7 1080.4L178.1 1076.6L178.6 1074.3L179.1 1073.5L179.6 1074.3L180.1 1076.6L180.6 1080.4L181 1085.2L181.5 1091L182 1097.2L182.5 1103.7L183 1110L183.4 1116.1L183.9 1121.6L184.4 1126.4L184.9 1130.6L185.4 1134.1L185.9 1136.8L186.3 1139L186.8 1140.7L187.3 1141.9L187.8 1142.8L188.3 1143.5L188.7 1143.9" fill="none" stroke="#dc3545" stroke-width="1.1"/>
<line x1="74.4" y1="901.3" x2="74.4" y2="1144.6" stroke="#1a1a1a" stroke-width="1.4" />
<line x1="73.8" y1="1143.9" x2="329.9" y2="1143.9" stroke="#1a1a1a" stroke-width="1.4" />
<line x1="75.1" y1="1143.9" x2="75.1" y2="1149.9" stroke="#1a1a1a" stroke-width="1.4" />
<line x1="88.5" y1="1143.9" x2="88.5" y2="1149.9" stroke="#1a1a1a" stroke-width="1.4" />
<line x1="101.8" y1="1143.9" x2="101.8" y2="1149.9" stroke="#1a1a1a" stroke-width="1.4" />
<line x1="115.2" y1="1143.9" x2="115.2" y2="1149.9" stroke="#1a1a1a" stroke-width="1.4" />
<line x1="128.6" y1="1143.9" x2="128.6" y2="1154.7" stroke="#1a1a1a" stroke-width="1.4" />
<line x1="142" y1="1143.9" x2="142" y2="1149.9" stroke="#1a1a1a" stroke-width="1.4" />
<line x1="155.4" y1="1143.9" x2="155.4" y2="1149.9" stroke="#1a1a1a" stroke-width="1.4" />
<line x1="168.7" y1="1143.9" x2="168.7" y2="1149.9" stroke="#1a1a1a" stroke-width="1.4" />
<line x1="182.1" y1="1143.9" x2="182.1" y2="1149.9" stroke="#1a1a1a" stroke-width="1.4" />
<line x1="195.5" y1="1143.9" x2="195.5" y2="1154.7" stroke="#1a1a1a" stroke-width="1.4" />
<line x1="208.9" y1="1143.9" x2="208.9" y2="1149.9" stroke="#1a1a1a" stroke-width="1.4" />
<line x1="222.3" y1="1143.9" x2="222.3" y2="1149.9" stroke="#1a1a1a" stroke-width="1.4" />
<line x1="235.6" y1="1143.9" x2="235.6" y2="1149.9" stroke="#1a1a1a" stroke-width="1.4" />
<line x1="249" y1="1143.9" x2="249" y2="1149.9" stroke="#1a1a1a" stroke-width="1.4" />
<line x1="262.4" y1="1143.9" x2="262.4" y2="1154.7" stroke="#1a1a1a" stroke-width="1.4" />
<line x1="275.8" y1="1143.9" x2="275.8" y2="1149.9" stroke="#1a1a1a" stroke-width="1.4" />
<line x1="289.2" y1="1143.9" x2="289.2" y2="1149.9" stroke="#1a1a1a" stroke-width="1.4" />
<line x1="302.5" y1="1143.9" x2="302.5" y2="1149.9" stroke="#1a1a1a" stroke-width="1.4" />
<line x1="315.9" y1="1143.9" x2="315.9" y2="1149.9" stroke="#1a1a1a" stroke-width="1.4" />
<line x1="329.3" y1="1143.9" x2="329.3" y2="1154.7" stroke="#1a1a1a" stroke-width="1.4" />
<line x1="61.9" y1="1143.9" x2="74.4" y2="1143.9" stroke="#1a1a1a" stroke-width="1.4" />
<line x1="66.9" y1="1133.8" x2="74.4" y2="1133.8" stroke="#1a1a1a" stroke-width="1.4" />
<line x1="66.9" y1="1123.7" x2="74.4" y2="1123.7" stroke="#1a1a1a" stroke-width="1.4" />
<line x1="66.9" y1="1113.7" x2="74.4" y2="1113.7" stroke="#1a1a1a" stroke-width="1.4" />
<line x1="66.9" y1="1103.6" x2="74.4" y2="1103.6" stroke="#1a1a1a" stroke-width="1.4" />
<line x1="61.9" y1="1093.5" x2="74.4" y2="1093.5" stroke="#1a1a1a" stroke-width="1.4" />
<line x1="66.9" y1="1083.4" x2="74.4" y2="1083.4" stroke="#1a1a1a" stroke-width="1.4" />
<line x1="66.9" y1="1073.3" x2="74.4" y2="1073.3" stroke="#1a1a1a" stroke-width="1.4" />
<line x1="66.9" y1="1063.3" x2="74.4" y2="1063.3" stroke="#1a1a1a" stroke-width="1.4" />
<line x1="66.9" y1="1053.2" x2="74.4" y2="1053.2" stroke="#1a1a1a" stroke-width="1.4" />
<line x1="61.9" y1="1043.1" x2="74.4" y2="1043.1" stroke="#1a1a1a" stroke-width="1.4" />
<line x1="66.9" y1="1033" x2="74.4" y2="1033" stroke="#1a1a1a" stroke-width="1.4" />
<line x1="66.9" y1="1022.9" x2="74.4" y2="1022.9" stroke="#1a1a1a" stroke-width="1.4" />
<line x1="66.9" y1="1012.9" x2="74.4" y2="1012.9" stroke="#1a1a1a" stroke-width="1.4" />
<line x1="66.9" y1="1002.8" x2="74.4" y2="1002.8" stroke="#1a1a1a" stroke-width="1.4" />
<line x1="61.9" y1="992.7" x2="74.4" y2="992.7" stroke="#1a1a1a" stroke-width="1.4" />
<line x1="66.9" y1="982.6" x2="74.4" y2="982.6" stroke="#1a1a1a" stroke-width="1.4" />
<line x1="66.9" y1="972.5" x2="74.4" y2="972.5" stroke="#1a1a1a" stroke-width="1.4" />
<line x1="66.9" y1="962.5" x2="74.4" y2="962.5" stroke="#1a1a1a" stroke-width="1.4" />
<line x1="66.9" y1="952.4" x2="74.4" y2="952.4" stroke="#1a1a1a" stroke-width="1.4" />
<line x1="61.9" y1="942.3" x2="74.4" y2="942.3" stroke="#1a1a1a" stroke-width="1.4" />
<line x1="66.9" y1="932.2" x2="74.4" y2="932.2" stroke="#1a1a1a" stroke-width="1.4" />
<line x1="66.9" y1="922.1" x2="74.4" y2="922.1" stroke="#1a1a1a" stroke-width="1.4" />
<line x1="66.9" y1="912.1" x2="74.4" y2="912.1" stroke="#1a1a1a" stroke-width="1.4" />
<line x1="66.9" y1="902" x2="74.4" y2="902" stroke="#1a1a1a" stroke-width="1.4" />
<text x="58.4" y="1149.6" font-size="16" fill="#111" text-anchor="end" stroke="#111" stroke-width="0.22">0</text>
<text x="58.4" y="1099.2" font-size="16" fill="#111" text-anchor="end" stroke="#111" stroke-width="0.22">80</text>
<text x="58.4" y="1048.8" font-size="16" fill="#111" text-anchor="end" stroke="#111" stroke-width="0.22">160</text>
<text x="58.4" y="998.4" font-size="16" fill="#111" text-anchor="end" stroke="#111" stroke-width="0.22">240</text>
<text x="58.4" y="948" font-size="16" fill="#111" text-anchor="end" stroke="#111" stroke-width="0.22">320</text>
<text x="128.6" y="1174.4" font-size="16" fill="#111" text-anchor="middle" stroke="#111" stroke-width="0.22">1</text>
<text x="195.5" y="1174.4" font-size="16" fill="#111" text-anchor="middle" stroke="#111" stroke-width="0.22">2</text>
<text x="262.4" y="1174.4" font-size="16" fill="#111" text-anchor="middle" stroke="#111" stroke-width="0.22">3</text>
<text x="329.3" y="1174.4" font-size="16" fill="#111" text-anchor="middle" stroke="#111" stroke-width="0.22">4</text>
<text x="204" y="1190.5" font-size="16" fill="#111" text-anchor="middle" stroke="#111" stroke-width="0.22">Mass (MDa)</text>
<text transform="translate(25,1044) rotate(-90)" font-size="16" fill="#111" text-anchor="middle">Counts</text>
<text x="126" y="914.5" font-size="10.7" fill="#dc3545" text-anchor="middle" stroke="#dc3545" stroke-width="0.22">1.09 ± 0.03 MDa</text>
<text x="126" y="928" font-size="10.7" fill="#dc3545" text-anchor="middle" stroke="#dc3545" stroke-width="0.22">2915 counts (57%)</text>
<text x="185.5" y="1046" font-size="10.7" fill="#dc3545" text-anchor="middle" stroke="#dc3545" stroke-width="0.22">1.82 ± 0.05 MDa</text>
<text x="185.5" y="1059.5" font-size="10.7" fill="#dc3545" text-anchor="middle" stroke="#dc3545" stroke-width="0.22">2173 counts (43%)</text>
<text x="271" y="984.3" font-size="16" fill="#111" text-anchor="middle" stroke="#111" stroke-width="0.22">3×His-MxEnc</text>
<text x="271" y="1004.5" font-size="16" fill="#111" text-anchor="middle" stroke="#111" stroke-width="0.22">(late fractions)</text>
<text x="389.4" y="576.8" font-size="21" fill="#111" font-weight="bold" stroke="#111" stroke-width="0.22">e)</text>
<path d="M529.1 814.2L529.1 813.7L529.9 812.6L530.8 813.5L531.7 813.8L532.6 813.6L533.5 813.7L534.3 813.6L535.2 813.6L536.1 813.5L537 813.4L537.9 813.3L538.7 813.3L539.6 813L540.5 812.1L541.4 810.7L542.3 796.1L543.1 735.6L544 631L544.9 628.6L545.8 734.4L546.7 792.4L547.5 807L548.4 809.9L549.3 811L550.2 811L551.1 812.8L551.9 813.1L552.8 813L553.7 813.6L554.6 813.2L555.5 812.9L556.3 813.5L557.2 813.8L558.1 813.6L559 813.4L559.9 813.6L560.7 813.7L561.6 813.1L562.5 813.6L563.4 813.5L564.3 813.4L565.1 813.6L566 813.1L566.9 812.6L567.8 811L568.7 809.7L569.5 808.4L570.4 806L571.3 804.5L572.2 802L573.1 800.7L573.9 800.7L574.8 800.1L575.7 801L576.6 800L577.4 801.6L578.3 803.2L579.2 804.9L580.1 806L581 808.1L581.8 808.9L582.7 811.1L583.6 812.2L584.5 812.6L585.4 813.2L586.2 813.5L587.1 813.7L588 813.2L588.9 813.7L589.8 813.5L590.6 813.2L591.5 813.4L592.4 813.3L593.3 812.9L594.2 812L595 811.1L595.9 810.8L596.8 805L597.7 786L598.6 729.3L599.4 640.7L600.3 603.1L601.2 656.2L602.1 732L603 764L603.8 766.6L604.7 759.4L605.6 757.3L606.5 753.9L607.4 750.5L608.2 751.9L609.1 753L610 756L610.9 761.9L611.8 764.7L612.6 773.8L613.5 776.8L614.4 782.8L615.3 786.9L616.2 789.6L617 794.3L617.9 796.2L618.8 798.2L619.7 800.1L620.5 801.4L621.4 802.7L622.3 804L623.2 804.6L624.1 806.1L624.9 806.5L625.8 804.6L626.7 807.3L627.6 808.3L628.5 808.9L629.3 809.2L630.2 809.7L631.1 809.2L632 809.5L632.9 809L633.7 809L634.6 808.7L635.5 808.7L636.4 808.4L637.3 808.6L638.1 807.7L639 807.8L639.9 807.3L640.8 808.2L641.7 808.5L642.5 809.1L643.4 809.9L644.3 810.1L645.2 810.4L646.1 811.3L646.9 811.6L647.8 811.9L648.7 812.1L649.6 812.2L650.5 812.3L651.3 812.1L652.2 812.3L653.1 812.7L654 812.7L654.9 812.4L655.7 812.4L656.6 812.2L657.5 811.9L658.4 812L659.3 812L660.1 811.2L661 811.3L661.9 810.9L662.8 811.8L663.6 810.6L664.5 811.6L665.4 810.9L666.3 811.4L667.2 811.6L668 811.1L668.9 811.3L669.8 811.5L670.7 811.8L671.6 812.2L672.4 811.4L673.3 812.5L674.2 812.2L675.1 812.8L676 812.8L676.8 813.1L677.7 813L678.6 813.2L679.5 813.4L680.4 813.4L681.2 812.4L682.1 813L683 812.6L683.9 812.4L684.8 811.4L685.6 810.8L686.5 810.2L687.4 810.6L688.3 811.1L689.2 812.1L690 812.4L690.9 813.4L691.8 813.6L692.7 813.6L693.6 813.6L694.4 813.6L695.3 813.7L696.2 813.9L697.1 813.5L698 812.9L698.8 813.4L699.7 813.7L700.6 813.5L701.5 813.6L702.4 813.6L703.2 813.8L704.1 813.5L705 813.7L705.9 813.2L706.7 813.3L707.6 813.7L708.5 813.6L709.4 813.6L710.3 813.7L711.1 813.6L712 813.9L712.9 813.6L713.8 813.5L714.7 813.2L715.5 813.6L716.4 813.7L717.3 813.2L718.2 813.6L719.1 813.3L719.9 813.6L720.8 813.6L721.7 813.6L722.6 813.2L723.5 813.2L724.3 813.5L725.2 813.7L726.1 813.5L727 813.6L727.9 813.6L728.7 813.6L729.6 813.9L730.5 813L731.4 813.7L732.3 813.5L733.1 810.1L734 813.2L734.9 812.5L735.8 812.5L736.7 811.5L737.5 811.7L738.4 811.5L739.3 811.5L740.2 810.8L741.1 810.4L741.9 810.2L742.8 810.9L743.7 811L744.6 810.7L745.5 811.6L746.3 811.8L747.2 811.8L748.1 812.5L749 813L749.8 813.2L750.7 812.9L751.6 813.6L752.5 813.4L753.4 810.3L754.2 813.8L754.2 814.2" fill="#e9e9e9" stroke="#b5b5b5" stroke-width="0.6" stroke-linejoin="round"/>
<line x1="600.2" y1="572.7" x2="600.2" y2="596.9" stroke="#9a9a9a" stroke-width="0.8" />
<path d="M541.5 814.2L541.6 812.8L541.8 810.8L541.9 807.9L542.1 804L542.2 798.7L542.4 791.7L542.5 782.8L542.7 771.8L542.8 758.5L543 743L543.1 725.5L543.3 706.2L543.4 685.9L543.6 665.3L543.7 645.4L543.9 627.1L544 611.6L544.2 599.7L544.3 592.3L544.5 589.7L544.6 592.3L544.8 599.7L544.9 611.6L545.1 627.1L545.2 645.4L545.4 665.3L545.5 685.9L545.7 706.2L545.8 725.5L545.9 743L546.1 758.5L546.2 771.8L546.4 782.8L546.5 791.7L546.7 798.7L546.8 804L547 807.9L547.1 810.8L547.3 812.8L547.4 814.2Z" fill="#ececec" stroke="none"/>
<path d="M541.5 814.2L541.6 812.8L541.8 810.8L541.9 807.9L542.1 804L542.2 798.7L542.4 791.7L542.5 782.8L542.7 771.8L542.8 758.5L543 743L543.1 725.5L543.3 706.2L543.4 685.9L543.6 665.3L543.7 645.4L543.9 627.1L544 611.6L544.2 599.7L544.3 592.3L544.5 589.7L544.6 592.3L544.8 599.7L544.9 611.6L545.1 627.1L545.2 645.4L545.4 665.3L545.5 685.9L545.7 706.2L545.8 725.5L545.9 743L546.1 758.5L546.2 771.8L546.4 782.8L546.5 791.7L546.7 798.7L546.8 804L547 807.9L547.1 810.8L547.3 812.8L547.4 814.2" fill="none" stroke="#c034b0" stroke-width="1.0"/>
<path d="M596.4 814.2L596.6 812.8L596.8 810.8L597 807.9L597.2 803.9L597.4 798.5L597.6 791.5L597.7 782.5L597.9 771.3L598.1 757.9L598.3 742.3L598.5 724.5L598.7 705.1L598.9 684.5L599 663.7L599.2 643.6L599.4 625.1L599.6 609.4L599.8 597.4L600 589.9L600.2 587.3L600.4 589.9L600.5 597.4L600.7 609.4L600.9 625.1L601.1 643.6L601.3 663.7L601.5 684.5L601.7 705.1L601.9 724.5L602 742.3L602.2 757.9L602.4 771.3L602.6 782.5L602.8 791.5L603 798.5L603.2 803.9L603.3 807.9L603.5 810.8L603.7 812.8L603.9 814.2Z" fill="#ececec" stroke="none"/>
<path d="M596.4 814.2L596.6 812.8L596.8 810.8L597 807.9L597.2 803.9L597.4 798.5L597.6 791.5L597.7 782.5L597.9 771.3L598.1 757.9L598.3 742.3L598.5 724.5L598.7 705.1L598.9 684.5L599 663.7L599.2 643.6L599.4 625.1L599.6 609.4L599.8 597.4L600 589.9L600.2 587.3L600.4 589.9L600.5 597.4L600.7 609.4L600.9 625.1L601.1 643.6L601.3 663.7L601.5 684.5L601.7 705.1L601.9 724.5L602 742.3L602.2 757.9L602.4 771.3L602.6 782.5L602.8 791.5L603 798.5L603.2 803.9L603.3 807.9L603.5 810.8L603.7 812.8L603.9 814.2" fill="none" stroke="#c034b0" stroke-width="1.0"/>
<line x1="463.1" y1="572.1" x2="463.1" y2="814.9" stroke="#1a1a1a" stroke-width="1.4" />
<line x1="462.5" y1="814.2" x2="756.9" y2="814.2" stroke="#1a1a1a" stroke-width="1.4" />
<line x1="463.1" y1="814.2" x2="463.1" y2="825" stroke="#1a1a1a" stroke-width="1.4" />
<line x1="477.8" y1="814.2" x2="477.8" y2="820.2" stroke="#1a1a1a" stroke-width="1.4" />
<line x1="492.4" y1="814.2" x2="492.4" y2="820.2" stroke="#1a1a1a" stroke-width="1.4" />
<line x1="507.1" y1="814.2" x2="507.1" y2="820.2" stroke="#1a1a1a" stroke-width="1.4" />
<line x1="521.7" y1="814.2" x2="521.7" y2="820.2" stroke="#1a1a1a" stroke-width="1.4" />
<line x1="536.4" y1="814.2" x2="536.4" y2="825" stroke="#1a1a1a" stroke-width="1.4" />
<line x1="551.1" y1="814.2" x2="551.1" y2="820.2" stroke="#1a1a1a" stroke-width="1.4" />
<line x1="565.7" y1="814.2" x2="565.7" y2="820.2" stroke="#1a1a1a" stroke-width="1.4" />
<line x1="580.4" y1="814.2" x2="580.4" y2="820.2" stroke="#1a1a1a" stroke-width="1.4" />
<line x1="595" y1="814.2" x2="595" y2="820.2" stroke="#1a1a1a" stroke-width="1.4" />
<line x1="609.7" y1="814.2" x2="609.7" y2="825" stroke="#1a1a1a" stroke-width="1.4" />
<line x1="624.4" y1="814.2" x2="624.4" y2="820.2" stroke="#1a1a1a" stroke-width="1.4" />
<line x1="639" y1="814.2" x2="639" y2="820.2" stroke="#1a1a1a" stroke-width="1.4" />
<line x1="653.7" y1="814.2" x2="653.7" y2="820.2" stroke="#1a1a1a" stroke-width="1.4" />
<line x1="668.3" y1="814.2" x2="668.3" y2="820.2" stroke="#1a1a1a" stroke-width="1.4" />
<line x1="683" y1="814.2" x2="683" y2="825" stroke="#1a1a1a" stroke-width="1.4" />
<line x1="697.7" y1="814.2" x2="697.7" y2="820.2" stroke="#1a1a1a" stroke-width="1.4" />
<line x1="712.3" y1="814.2" x2="712.3" y2="820.2" stroke="#1a1a1a" stroke-width="1.4" />
<line x1="727" y1="814.2" x2="727" y2="820.2" stroke="#1a1a1a" stroke-width="1.4" />
<line x1="741.6" y1="814.2" x2="741.6" y2="820.2" stroke="#1a1a1a" stroke-width="1.4" />
<line x1="756.3" y1="814.2" x2="756.3" y2="825" stroke="#1a1a1a" stroke-width="1.4" />
<line x1="452.3" y1="814.2" x2="463.1" y2="814.2" stroke="#1a1a1a" stroke-width="1.4" />
<line x1="457.3" y1="790.1" x2="463.1" y2="790.1" stroke="#1a1a1a" stroke-width="1.4" />
<line x1="452.3" y1="765.9" x2="463.1" y2="765.9" stroke="#1a1a1a" stroke-width="1.4" />
<line x1="457.3" y1="741.8" x2="463.1" y2="741.8" stroke="#1a1a1a" stroke-width="1.4" />
<line x1="452.3" y1="717.6" x2="463.1" y2="717.6" stroke="#1a1a1a" stroke-width="1.4" />
<line x1="457.3" y1="693.5" x2="463.1" y2="693.5" stroke="#1a1a1a" stroke-width="1.4" />
<line x1="452.3" y1="669.3" x2="463.1" y2="669.3" stroke="#1a1a1a" stroke-width="1.4" />
<line x1="457.3" y1="645.2" x2="463.1" y2="645.2" stroke="#1a1a1a" stroke-width="1.4" />
<line x1="452.3" y1="621" x2="463.1" y2="621" stroke="#1a1a1a" stroke-width="1.4" />
<line x1="457.3" y1="596.9" x2="463.1" y2="596.9" stroke="#1a1a1a" stroke-width="1.4" />
<line x1="452.3" y1="572.7" x2="463.1" y2="572.7" stroke="#1a1a1a" stroke-width="1.4" />
<text x="449.7" y="819.9" font-size="16" fill="#111" text-anchor="end" stroke="#111" stroke-width="0.22">0.0</text>
<text x="449.7" y="771.6" font-size="16" fill="#111" text-anchor="end" stroke="#111" stroke-width="0.22">0.2</text>
<text x="449.7" y="723.3" font-size="16" fill="#111" text-anchor="end" stroke="#111" stroke-width="0.22">0.4</text>
<text x="449.7" y="675" font-size="16" fill="#111" text-anchor="end" stroke="#111" stroke-width="0.22">0.6</text>
<text x="449.7" y="626.7" font-size="16" fill="#111" text-anchor="end" stroke="#111" stroke-width="0.22">0.8</text>
<text x="449.7" y="578.4" font-size="16" fill="#111" text-anchor="end" stroke="#111" stroke-width="0.22">1.0</text>
<text x="463.1" y="844.7" font-size="16" fill="#111" text-anchor="middle" stroke="#111" stroke-width="0.22">0</text>
<text x="536.4" y="844.7" font-size="16" fill="#111" text-anchor="middle" stroke="#111" stroke-width="0.22">1</text>
<text x="609.7" y="844.7" font-size="16" fill="#111" text-anchor="middle" stroke="#111" stroke-width="0.22">2</text>
<text x="683" y="844.7" font-size="16" fill="#111" text-anchor="middle" stroke="#111" stroke-width="0.22">3</text>
<text x="771.5" y="844.7" font-size="16" fill="#111" text-anchor="middle" stroke="#111" stroke-width="0.22">4</text>
<text x="611" y="861" font-size="16" fill="#111" text-anchor="middle" stroke="#111" stroke-width="0.22">Mass (MDa)</text>
<text transform="translate(417.5,693) rotate(-90)" font-size="16" fill="#111" text-anchor="middle">Normalised intensity</text>
<text x="533.5" y="568" font-size="10.7" fill="#b83aa8" text-anchor="middle" stroke="#b83aa8" stroke-width="0.22">1.11 ± 0.03 MDa</text>
<text x="533.5" y="581.5" font-size="10.7" fill="#b83aa8" text-anchor="middle" stroke="#b83aa8" stroke-width="0.22">1656 counts (40%)</text>
<text x="653" y="578.5" font-size="10.7" fill="#b83aa8" text-anchor="middle" stroke="#b83aa8" stroke-width="0.22">1.87 ± 0.04 MDa</text>
<text x="653" y="592" font-size="10.7" fill="#b83aa8" text-anchor="middle" stroke="#b83aa8" stroke-width="0.22">2521 counts (60%)</text>
<text x="706.5" y="699.3" font-size="16" fill="#111" text-anchor="middle" stroke="#111" stroke-width="0.22">3×His-MxEnc</text>
<text x="706.5" y="718.8" font-size="16" fill="#111" text-anchor="middle" stroke="#111" stroke-width="0.22">(entire peak)</text>
<text transform="translate(706,757.8) scale(0.83,1)" font-size="16" fill="#808080" text-anchor="middle" font-style="italic">lower resolution CD-MS</text>
<text transform="translate(707,778.3) scale(0.83,1)" font-size="16" fill="#808080" text-anchor="middle" font-style="italic">for determining proportions</text>
<path d="M513.9 1143.4L513.9 1143.2L514.3 1143L514.8 1143.1L515.2 1143.1L515.7 1143.1L516.1 1143L516.5 1143.1L517 1143.1L517.4 1142.5L517.9 1143.1L518.3 1143L518.7 1143.2L519.2 1143.1L519.6 1143.1L520.1 1143.2L520.5 1143.2L520.9 1143L521.4 1143L521.8 1142.4L522.3 1143L522.7 1142.7L523.1 1139L523.6 1136.8L524 1142.2L524.5 1142.8L524.9 1143L525.3 1143.1L525.8 1142.2L526.2 1143L526.7 1142.9L527.1 1142.9L527.5 1143.1L528 1142.7L528.4 1143.1L528.9 1143L529.3 1143.1L529.7 1143.1L530.2 1143.1L530.6 1143.2L531.1 1143.1L531.5 1143.1L531.9 1143.2L532.4 1143L532.8 1143.1L533.3 1143.1L533.7 1142.8L534.1 1142.9L534.6 1143L535 1143.1L535.5 1142.9L535.9 1143.1L536.3 1143.2L536.8 1142.7L537.2 1143.3L537.7 1142.9L538.1 1142.9L538.5 1142.5L539 1143.2L539.4 1143.1L539.9 1143L540.3 1143L540.7 1143.1L541.2 1143.1L541.6 1142.9L542.1 1143.1L542.5 1143L542.9 1143.1L543.4 1142.9L543.8 1140.8L544.3 1071.4L544.7 927.2L545.1 1072.1L545.6 1140.9L546 1143.2L546.5 1143.2L546.9 1143.2L547.3 1143.1L547.8 1142.8L548.2 1142.8L548.7 1143L549.1 1143L549.5 1143L550 1143L550.4 1143L550.9 1143.1L551.3 1143.2L551.7 1143L552.2 1143.1L552.6 1143.1L553.1 1142.7L553.5 1143.2L553.9 1143.3L554.4 1142.5L554.8 1143L555.3 1143.3L555.7 1143.1L556.1 1143.2L556.6 1142.9L557 1143.1L557.5 1143.1L557.9 1143.1L558.3 1142.3L558.8 1143L559.2 1143L559.6 1142.9L560.1 1143L560.5 1142.9L561 1143.1L561.4 1142.9L561.8 1143L562.3 1142.8L562.7 1143L563.2 1143.1L563.6 1143L564 1143L564.5 1143.2L564.9 1143.3L565.4 1142.8L565.8 1143.2L566.2 1142.6L566.7 1143.2L567.1 1143.1L567.6 1142.9L568 1143.2L568.4 1143.1L568.9 1143.1L569.3 1143L569.8 1142.9L570.2 1143L570.6 1143.2L571.1 1143.2L571.5 1143.3L572 1143L572.4 1143L572.8 1143L573.3 1142.9L573.7 1143.1L574.2 1142.9L574.6 1143.3L575 1142.8L575.5 1142.9L575.9 1143.1L576.4 1143L576.8 1142.9L577.2 1143.2L577.7 1142.7L578.1 1142.9L578.6 1142.8L579 1143.1L579.4 1142.8L579.9 1142.9L580.3 1143L580.8 1143.1L581.2 1143.1L581.6 1143.3L582.1 1143.1L582.5 1143.1L583 1142.9L583.4 1143.1L583.8 1143.2L584.3 1142.8L584.7 1143L585.2 1142.7L585.6 1143.1L586 1143L586.5 1143L586.9 1143.2L587.4 1143.2L587.8 1143.1L588.2 1142.9L588.7 1143L589.1 1143L589.6 1142.8L590 1142.8L590.4 1142.3L590.9 1143.1L591.3 1143L591.8 1143.1L592.2 1142.8L592.6 1142.9L593.1 1142.4L593.5 1142.7L594 1142.6L594.4 1142.3L594.8 1142.3L595.3 1142.4L595.7 1142.3L596.2 1141.8L596.6 1141.4L597 1141.3L597.5 1141.3L597.9 1140.5L598.4 1139L598.8 1134.3L599.2 1089.2L599.7 1037.8L600.1 1085.5L600.6 1125.4L601 1130.1L601.4 1127.6L601.9 1127.4L602.3 1125.4L602.7 1126.8L603.2 1128.9L603.6 1130.8L604.1 1131.2L604.5 1131.2L604.9 1132.2L605.4 1132.8L605.8 1132.2L606.3 1132.3L606.7 1133.5L607.1 1133.4L607.6 1132L608 1131.7L608.5 1133L608.9 1132.8L609.3 1132.2L609.8 1133.3L610.2 1134.3L610.7 1134.5L611.1 1134.9L611.5 1135.6L612 1137L612.4 1136.9L612.9 1137.6L613.3 1137.9L613.7 1138.6L614.2 1139.5L614.6 1139.5L615.1 1140.4L615.5 1140.7L615.9 1140.7L616.4 1141.1L616.8 1141L617.3 1141.3L617.7 1141.7L618.1 1142L618.6 1142.1L619 1142.9L619.5 1141.2L619.9 1142.5L620.3 1143L620.8 1142.6L621.2 1142.6L621.7 1142.9L622.1 1142.4L622.5 1142.1L623 1142.8L623.4 1142.6L623.9 1142.7L624.3 1143.1L624.7 1142.7L625.2 1142.8L625.6 1143.1L626.1 1142.9L626.5 1142.7L626.9 1143.1L627.4 1143L627.8 1143.1L628.3 1142.9L628.7 1142.9L629.1 1141.9L629.6 1143.1L630 1143.1L630.5 1142.6L630.9 1143.3L631.3 1142.9L631.8 1142.9L632.2 1143.3L632.7 1143L633.1 1143.1L633.5 1143L634 1143L634.4 1143.3L634.9 1142.8L635.3 1143.2L635.7 1142.9L636.2 1143.2L636.6 1143L637.1 1142.9L637.5 1142.9L637.9 1143.3L638.4 1142.7L638.8 1142.7L639.3 1143.1L639.7 1143.3L640.1 1143.1L640.6 1143L641 1143L641.5 1143.1L641.9 1143.1L642.3 1143.1L642.8 1143.2L643.2 1143L643.7 1143.1L644.1 1143.1L644.5 1143.2L645 1143L645.4 1142.8L645.8 1143.2L646.3 1143L646.7 1142.8L647.2 1142.7L647.6 1143.2L648 1143.1L648.5 1143.3L648.9 1143.2L649.4 1142.8L649.8 1143.2L650.2 1142.6L650.7 1142.6L651.1 1143.1L651.6 1143.2L652 1142.9L652.4 1142.4L652.9 1143.2L653.3 1142.9L653.8 1142.9L654.2 1143.1L654.6 1143L655.1 1143.2L655.5 1143L656 1142.9L656.4 1143.1L656.8 1142.2L657.3 1143L657.7 1142.5L658.2 1141.9L658.6 1142.4L659 1142.9L659.5 1142.9L659.9 1143.1L660.4 1143.2L660.8 1143.1L661.2 1142.8L661.7 1143.1L662.1 1143.1L662.6 1143.1L663 1143L663.4 1143.1L663.9 1143.2L664.3 1143.1L664.8 1143.1L665.2 1143L665.6 1142.8L666.1 1143.2L666.5 1142.4L667 1143.1L667.4 1141.6L667.8 1137.9L668.3 1140L668.7 1143.1L669.2 1143L669.6 1143.1L670 1143L670.5 1143.2L670.9 1143L671.4 1142.8L671.8 1143L672.2 1142.8L672.7 1143.1L673.1 1142.7L673.6 1140.7L674 1143.3L674.4 1142.6L674.9 1143.1L675.3 1143L675.8 1142.7L676.2 1142.8L676.6 1143L677.1 1142.9L677.5 1142.4L678 1143.1L678.4 1143L678.8 1142.9L679.3 1142.7L679.7 1143.1L680.2 1143.3L680.6 1143L681 1143.2L681.5 1142.7L681.9 1142.4L682.4 1143L682.4 1143.4" fill="#e9e9e9" stroke="#9a9a9a" stroke-width="0.6" stroke-linejoin="round"/>
<path d="M543.8 1143.4L543.8 1141.9L543.9 1139.8L543.9 1136.7L544 1132.5L544 1126.8L544 1119.4L544.1 1110L544.1 1098.2L544.2 1084.1L544.2 1067.6L544.3 1048.9L544.3 1028.4L544.4 1006.8L544.4 984.8L544.5 963.6L544.5 944.1L544.6 927.6L544.6 914.9L544.6 907L544.7 904.3L544.7 907L544.8 914.9L544.8 927.6L544.9 944.1L544.9 963.6L545 984.8L545 1006.8L545.1 1028.4L545.1 1048.9L545.2 1067.6L545.2 1084.1L545.3 1098.2L545.3 1110L545.3 1119.4L545.4 1126.8L545.4 1132.5L545.5 1136.7L545.5 1139.8L545.6 1141.9L545.6 1143.4Z" fill="#c034b0" stroke="#c034b0" stroke-width="1.0" stroke-linejoin="round"/>
<path d="M598.6 1143.4L598.7 1142.8L598.7 1141.9L598.8 1140.6L598.8 1138.8L598.9 1136.4L598.9 1133.3L599 1129.4L599 1124.4L599.1 1118.5L599.1 1111.6L599.2 1103.7L599.2 1095.1L599.3 1086L599.4 1076.8L599.4 1067.9L599.5 1059.7L599.5 1052.8L599.6 1047.4L599.6 1044.1L599.7 1043L599.7 1044.1L599.8 1047.4L599.8 1052.8L599.9 1059.7L599.9 1067.9L600 1076.8L600 1086L600.1 1095.1L600.1 1103.7L600.2 1111.6L600.3 1118.5L600.3 1124.4L600.4 1129.4L600.4 1133.3L600.5 1136.4L600.5 1138.8L600.6 1140.6L600.6 1141.9L600.7 1142.8L600.7 1143.4Z" fill="#c034b0" stroke="#c034b0" stroke-width="1.0" stroke-linejoin="round"/>
<line x1="599.7" y1="1022.5" x2="599.7" y2="1046.7" stroke="#9a9a9a" stroke-width="0.8" />
<line x1="462.6" y1="901" x2="462.6" y2="1144.1" stroke="#1a1a1a" stroke-width="1.4" />
<line x1="462" y1="1143.4" x2="756.4" y2="1143.4" stroke="#1a1a1a" stroke-width="1.4" />
<line x1="462.6" y1="1143.4" x2="462.6" y2="1154.2" stroke="#1a1a1a" stroke-width="1.4" />
<line x1="477.3" y1="1143.4" x2="477.3" y2="1149.4" stroke="#1a1a1a" stroke-width="1.4" />
<line x1="491.9" y1="1143.4" x2="491.9" y2="1149.4" stroke="#1a1a1a" stroke-width="1.4" />
<line x1="506.6" y1="1143.4" x2="506.6" y2="1149.4" stroke="#1a1a1a" stroke-width="1.4" />
<line x1="521.2" y1="1143.4" x2="521.2" y2="1149.4" stroke="#1a1a1a" stroke-width="1.4" />
<line x1="535.9" y1="1143.4" x2="535.9" y2="1154.2" stroke="#1a1a1a" stroke-width="1.4" />
<line x1="550.6" y1="1143.4" x2="550.6" y2="1149.4" stroke="#1a1a1a" stroke-width="1.4" />
<line x1="565.2" y1="1143.4" x2="565.2" y2="1149.4" stroke="#1a1a1a" stroke-width="1.4" />
<line x1="579.9" y1="1143.4" x2="579.9" y2="1149.4" stroke="#1a1a1a" stroke-width="1.4" />
<line x1="594.5" y1="1143.4" x2="594.5" y2="1149.4" stroke="#1a1a1a" stroke-width="1.4" />
<line x1="609.2" y1="1143.4" x2="609.2" y2="1154.2" stroke="#1a1a1a" stroke-width="1.4" />
<line x1="623.9" y1="1143.4" x2="623.9" y2="1149.4" stroke="#1a1a1a" stroke-width="1.4" />
<line x1="638.5" y1="1143.4" x2="638.5" y2="1149.4" stroke="#1a1a1a" stroke-width="1.4" />
<line x1="653.2" y1="1143.4" x2="653.2" y2="1149.4" stroke="#1a1a1a" stroke-width="1.4" />
<line x1="667.8" y1="1143.4" x2="667.8" y2="1149.4" stroke="#1a1a1a" stroke-width="1.4" />
<line x1="682.5" y1="1143.4" x2="682.5" y2="1154.2" stroke="#1a1a1a" stroke-width="1.4" />
<line x1="697.2" y1="1143.4" x2="697.2" y2="1149.4" stroke="#1a1a1a" stroke-width="1.4" />
<line x1="711.8" y1="1143.4" x2="711.8" y2="1149.4" stroke="#1a1a1a" stroke-width="1.4" />
<line x1="726.5" y1="1143.4" x2="726.5" y2="1149.4" stroke="#1a1a1a" stroke-width="1.4" />
<line x1="741.1" y1="1143.4" x2="741.1" y2="1149.4" stroke="#1a1a1a" stroke-width="1.4" />
<line x1="755.8" y1="1143.4" x2="755.8" y2="1154.2" stroke="#1a1a1a" stroke-width="1.4" />
<line x1="451.8" y1="1143.4" x2="462.6" y2="1143.4" stroke="#1a1a1a" stroke-width="1.4" />
<line x1="456.8" y1="1119.2" x2="462.6" y2="1119.2" stroke="#1a1a1a" stroke-width="1.4" />
<line x1="451.8" y1="1095" x2="462.6" y2="1095" stroke="#1a1a1a" stroke-width="1.4" />
<line x1="456.8" y1="1070.9" x2="462.6" y2="1070.9" stroke="#1a1a1a" stroke-width="1.4" />
<line x1="451.8" y1="1046.7" x2="462.6" y2="1046.7" stroke="#1a1a1a" stroke-width="1.4" />
<line x1="456.8" y1="1022.5" x2="462.6" y2="1022.5" stroke="#1a1a1a" stroke-width="1.4" />
<line x1="451.8" y1="998.3" x2="462.6" y2="998.3" stroke="#1a1a1a" stroke-width="1.4" />
<line x1="456.8" y1="974.1" x2="462.6" y2="974.1" stroke="#1a1a1a" stroke-width="1.4" />
<line x1="451.8" y1="950" x2="462.6" y2="950" stroke="#1a1a1a" stroke-width="1.4" />
<line x1="456.8" y1="925.8" x2="462.6" y2="925.8" stroke="#1a1a1a" stroke-width="1.4" />
<line x1="451.8" y1="901.6" x2="462.6" y2="901.6" stroke="#1a1a1a" stroke-width="1.4" />
<text x="449.2" y="1149.1" font-size="16" fill="#111" text-anchor="end" stroke="#111" stroke-width="0.22">0.0</text>
<text x="449.2" y="1100.7" font-size="16" fill="#111" text-anchor="end" stroke="#111" stroke-width="0.22">0.2</text>
<text x="449.2" y="1052.4" font-size="16" fill="#111" text-anchor="end" stroke="#111" stroke-width="0.22">0.4</text>
<text x="449.2" y="1004" font-size="16" fill="#111" text-anchor="end" stroke="#111" stroke-width="0.22">0.6</text>
<text x="449.2" y="955.7" font-size="16" fill="#111" text-anchor="end" stroke="#111" stroke-width="0.22">0.8</text>
<text x="449.2" y="907.3" font-size="16" fill="#111" text-anchor="end" stroke="#111" stroke-width="0.22">1.0</text>
<text x="462.6" y="1173.9" font-size="16" fill="#111" text-anchor="middle" stroke="#111" stroke-width="0.22">0</text>
<text x="535.9" y="1173.9" font-size="16" fill="#111" text-anchor="middle" stroke="#111" stroke-width="0.22">1</text>
<text x="609.2" y="1173.9" font-size="16" fill="#111" text-anchor="middle" stroke="#111" stroke-width="0.22">2</text>
<text x="682.5" y="1173.9" font-size="16" fill="#111" text-anchor="middle" stroke="#111" stroke-width="0.22">3</text>
<text x="755.8" y="1173.9" font-size="16" fill="#111" text-anchor="middle" stroke="#111" stroke-width="0.22">4</text>
<text x="611" y="1190.5" font-size="16" fill="#111" text-anchor="middle" stroke="#111" stroke-width="0.22">Mass (MDa)</text>
<text transform="translate(417.5,1022) rotate(-90)" font-size="16" fill="#111" text-anchor="middle">Normalised intensity</text>
<text x="546" y="881" font-size="10.7" fill="#b83aa8" text-anchor="middle" stroke="#b83aa8" stroke-width="0.22">1.12 ± 0.007 MDa</text>
<text x="546" y="894.5" font-size="10.7" fill="#b83aa8" text-anchor="middle" stroke="#b83aa8" stroke-width="0.22">4061 counts (55%)</text>
<text x="605" y="1005" font-size="10.7" fill="#b83aa8" text-anchor="middle" stroke="#b83aa8" stroke-width="0.22">1.87 ± 0.01 MDa</text>
<text x="605" y="1018.5" font-size="10.7" fill="#b83aa8" text-anchor="middle" stroke="#b83aa8" stroke-width="0.22">3345 counts (45%)</text>
<text x="713" y="1048.8" font-size="16" fill="#111" text-anchor="middle" stroke="#111" stroke-width="0.22">3×His-MxEnc</text>
<text x="713" y="1067.4" font-size="16" fill="#111" text-anchor="middle" stroke="#111" stroke-width="0.22">(late fractions)</text>
<text transform="translate(712.5,1108) scale(0.83,1)" font-size="16" fill="#808080" text-anchor="middle" font-style="italic">high resolution CD-MS</text>
<text transform="translate(712.5,1127) scale(0.83,1)" font-size="16" fill="#808080" text-anchor="middle" font-style="italic">for determining identity</text>
<text x="424.6" y="292.2" font-size="21" fill="#111" font-weight="bold" stroke="#111" stroke-width="0.22">c)</text>
<defs>
<filter id="grain" filterUnits="userSpaceOnUse" x="453.6" y="277.2" width="321.2" height="232.8" color-interpolation-filters="sRGB">
<feTurbulence type="fractalNoise" baseFrequency="0.42" numOctaves="3" seed="7" result="t"/>
<feColorMatrix in="t" type="matrix" values="1 0 0 0 0  1 0 0 0 0  1 0 0 0 0  0 0 0 0 1" result="n"/>
<feGaussianBlur in="SourceGraphic" stdDeviation="0.55" result="sb"/>
<feComposite in="sb" in2="n" operator="arithmetic" k1="0" k2="1" k3="0.46" k4="-0.23" result="c"/>
<feGaussianBlur in="c" stdDeviation="0.55"/>
</filter>
<radialGradient id="halo"><stop offset="0" stop-color="#000" stop-opacity="0.45"/><stop offset="0.55" stop-color="#000" stop-opacity="0.30"/><stop offset="1" stop-color="#000" stop-opacity="0"/></radialGradient>
<radialGradient id="lite"><stop offset="0" stop-color="#fff" stop-opacity="0.13"/><stop offset="1" stop-color="#fff" stop-opacity="0"/></radialGradient>
<radialGradient id="dark"><stop offset="0" stop-color="#000" stop-opacity="0.10"/><stop offset="1" stop-color="#000" stop-opacity="0"/></radialGradient>
<clipPath id="cc"><rect x="453.6" y="277.2" width="321.2" height="232.8"/></clipPath>
</defs>
<g clip-path="url(#cc)"><g filter="url(#grain)">
<rect x="453.6" y="277.2" width="321.2" height="232.8" fill="#8c8c8c"/>
<ellipse cx="600" cy="440" rx="75" ry="45" fill="url(#lite)"/>
<ellipse cx="545" cy="330" rx="45" ry="35" fill="url(#lite)"/>
<ellipse cx="740" cy="440" rx="40" ry="35" fill="url(#lite)"/>
<ellipse cx="640" cy="300" rx="40" ry="25" fill="url(#lite)"/>
<ellipse cx="470" cy="330" rx="40" ry="40" fill="url(#dark)"/>
<ellipse cx="480" cy="490" rx="45" ry="30" fill="url(#dark)"/>
<ellipse cx="720" cy="300" rx="60" ry="30" fill="url(#dark)"/>
<ellipse cx="640" cy="490" rx="60" ry="25" fill="url(#dark)"/>
<ellipse cx="520" cy="410" rx="30" ry="20" fill="url(#lite)"/>
<circle cx="558.2" cy="287.5" r="13" fill="url(#halo)"/>
<circle cx="569" cy="297.5" r="14.8" fill="url(#halo)"/>
<circle cx="527.4" cy="300" r="14.8" fill="url(#halo)"/>
<circle cx="512.4" cy="314.1" r="14.8" fill="url(#halo)"/>
<circle cx="576.5" cy="318.3" r="11.2" fill="url(#halo)"/>
<circle cx="489.5" cy="350.3" r="14" fill="url(#halo)"/>
<circle cx="516.2" cy="349.9" r="10.8" fill="url(#halo)"/>
<circle cx="521.8" cy="368.2" r="17.1" fill="url(#halo)"/>
<circle cx="604" cy="348.9" r="15.1" fill="url(#halo)"/>
<circle cx="590.4" cy="378.6" r="13.5" fill="url(#halo)"/>
<circle cx="579.4" cy="384.9" r="13.5" fill="url(#halo)"/>
<circle cx="506.2" cy="391.5" r="14" fill="url(#halo)"/>
<circle cx="453.5" cy="300" r="12.4" fill="url(#halo)"/>
<circle cx="673.1" cy="303.6" r="12.2" fill="url(#halo)"/>
<circle cx="700" cy="314.2" r="14.8" fill="url(#halo)"/>
<circle cx="683.7" cy="330.5" r="15.3" fill="url(#halo)"/>
<circle cx="733.9" cy="289.8" r="13" fill="url(#halo)"/>
<circle cx="743.5" cy="295.1" r="14" fill="url(#halo)"/>
<circle cx="755.1" cy="290.9" r="12.6" fill="url(#halo)"/>
<circle cx="737.8" cy="346.6" r="11.7" fill="url(#halo)"/>
<circle cx="747.3" cy="363.6" r="14.8" fill="url(#halo)"/>
<circle cx="662.5" cy="355.1" r="14.8" fill="url(#halo)"/>
<circle cx="664" cy="372.9" r="13" fill="url(#halo)"/>
<circle cx="718" cy="375" r="15.8" fill="url(#halo)"/>
<circle cx="609.8" cy="411.8" r="12.6" fill="url(#halo)"/>
<circle cx="468.3" cy="429.1" r="14" fill="url(#halo)"/>
<circle cx="458.3" cy="444.5" r="14.8" fill="url(#halo)"/>
<circle cx="478.7" cy="442" r="15.3" fill="url(#halo)"/>
<circle cx="491.6" cy="472.8" r="15.3" fill="url(#halo)"/>
<circle cx="566.1" cy="475.7" r="14.8" fill="url(#halo)"/>
<circle cx="583.2" cy="477" r="14.8" fill="url(#halo)"/>
<circle cx="578.6" cy="488.8" r="15.3" fill="url(#halo)"/>
<circle cx="610.8" cy="473.2" r="13" fill="url(#halo)"/>
<circle cx="661.5" cy="405.3" r="12.2" fill="url(#halo)"/>
<circle cx="669.7" cy="425.6" r="15.3" fill="url(#halo)"/>
<circle cx="670" cy="448.9" r="15.3" fill="url(#halo)"/>
<circle cx="642.4" cy="458.9" r="14.8" fill="url(#halo)"/>
<circle cx="670" cy="472.2" r="15.3" fill="url(#halo)"/>
<circle cx="657" cy="478.6" r="11.2" fill="url(#halo)"/>
<circle cx="692.2" cy="471.6" r="14.8" fill="url(#halo)"/>
<circle cx="685.2" cy="491.3" r="14" fill="url(#halo)"/>
<circle cx="683.1" cy="504" r="14.8" fill="url(#halo)"/>
<circle cx="712.8" cy="495.5" r="15.8" fill="url(#halo)"/>
<circle cx="735.4" cy="487.5" r="17.1" fill="url(#halo)"/>
<circle cx="761.5" cy="470.5" r="14.8" fill="url(#halo)"/>
<circle cx="731.8" cy="416.5" r="14.8" fill="url(#halo)"/>
<circle cx="739.7" cy="417.5" r="11.2" fill="url(#halo)"/>
<path d="M558.5 291.4C557.2 291.5 555.3 290.9 554.7 290C554 289.1 554.1 286.9 554.6 285.8C555.1 284.8 556.7 283.8 557.9 283.7C559.1 283.5 560.9 284 561.7 285C562.6 286 563.3 288.6 562.8 289.6C562.2 290.7 559.9 291.3 558.5 291.4Z" fill="#707070" stroke="#dadada" stroke-width="2.8" stroke-dasharray="2.6 0.55" stroke-linecap="butt"/>
<circle cx="558.6" cy="287.8" r="1.6" fill="#3c3c3c" opacity="0.8"/>
<path d="M569.9 302.7C568.4 302.9 566.2 301.8 565.3 300.6C564.4 299.5 564.1 297.2 564.6 295.9C565.1 294.6 566.8 293.2 568.2 293C569.5 292.7 571.6 293.3 572.7 294.4C573.7 295.5 575 298.1 574.6 299.5C574.1 300.9 571.5 302.5 569.9 302.7Z" fill="#707070" stroke="#dadada" stroke-width="2.8" stroke-dasharray="2.6 0.55" stroke-linecap="butt"/>
<circle cx="569.4" cy="297.9" r="1.8" fill="#3c3c3c" opacity="0.8"/>
<path d="M528.9 295.5C530.3 296 531.9 297.6 532.2 299C532.6 300.4 532.1 303 531 304C529.9 305.1 527.2 305.8 525.7 305.3C524.1 304.9 522.1 302.8 521.7 301.2C521.4 299.6 522.3 296.6 523.5 295.6C524.7 294.7 527.4 294.9 528.9 295.5Z" fill="#707070" stroke="#dadada" stroke-width="2.8" stroke-dasharray="2.6 0.55" stroke-linecap="butt"/>
<circle cx="526.9" cy="300.1" r="1.8" fill="#3c3c3c" opacity="0.8"/>
<path d="M509.9 309.5C511.3 308.8 513.6 309.3 514.9 310.1C516.2 310.9 517.6 312.9 517.6 314.3C517.5 315.6 516 317.3 514.6 318.1C513.2 318.9 510.6 319.9 509.3 319.2C507.9 318.5 506.5 315.5 506.6 313.9C506.7 312.3 508.5 310.1 509.9 309.5Z" fill="#707070" stroke="#dadada" stroke-width="2.8" stroke-dasharray="2.6 0.55" stroke-linecap="butt"/>
<circle cx="512.5" cy="313.9" r="1.8" fill="#3c3c3c" opacity="0.8"/>
<path d="M572 314.3L581.5 317.8L575 323.1Z" fill="#6a6a6a" stroke="#e6e6e6" stroke-width="2.3" stroke-linejoin="round"/>
<path d="M493.7 347.6C494.5 348.8 495 351.4 494.3 352.8C493.7 354.1 491.3 355.6 489.8 355.7C488.3 355.7 486.2 354.2 485.4 352.9C484.7 351.7 484.7 349.4 485.3 348.2C485.9 346.9 487.8 345.4 489.2 345.3C490.6 345.2 492.8 346.4 493.7 347.6Z" fill="#707070" stroke="#dadada" stroke-width="2.8" stroke-dasharray="2.6 0.55" stroke-linecap="butt"/>
<circle cx="489.4" cy="349.9" r="1.7" fill="#3c3c3c" opacity="0.8"/>
<path d="M514.9 353.5C514 353.1 513.4 351.4 513.2 350.4C513.1 349.4 513.6 348.3 514.3 347.6C515 346.9 516.6 346.2 517.4 346.5C518.3 346.8 519.2 348.3 519.4 349.3C519.6 350.3 519.2 351.9 518.5 352.6C517.7 353.3 515.8 353.9 514.9 353.5Z" fill="#707070" stroke="#dadada" stroke-width="2.8" stroke-dasharray="2.6 0.55" stroke-linecap="butt"/>
<circle cx="516.2" cy="349.7" r="1.3" fill="#3c3c3c" opacity="0.8"/>
<path d="M527.4 368.1C527.5 369.8 526.3 372.5 524.9 373.4C523.5 374.2 520.7 374 519.1 373.1C517.5 372.3 515.4 370 515.3 368.3C515.3 366.7 517.3 364.1 518.8 363.3C520.4 362.4 523.2 362.2 524.7 363C526.1 363.8 527.4 366.4 527.4 368.1Z" fill="#707070" stroke="#dadada" stroke-width="2.8" stroke-dasharray="2.6 0.55" stroke-linecap="butt"/>
<circle cx="522.1" cy="368" r="2.1" fill="#3c3c3c" opacity="0.8"/>
<path d="M598.4 346.8C599 345.4 601.7 344.4 603.3 344.3C604.8 344.2 606.7 344.9 607.6 346C608.5 347.1 609 349.2 608.6 350.6C608.1 352.1 606.4 354.3 604.9 354.6C603.4 354.9 600.8 353.7 599.7 352.4C598.6 351.1 597.8 348.1 598.4 346.8Z" fill="#707070" stroke="#dadada" stroke-width="2.8" stroke-dasharray="2.6 0.55" stroke-linecap="butt"/>
<circle cx="603.7" cy="348.7" r="1.9" fill="#3c3c3c" opacity="0.8"/>
<path d="M592.4 382.7C591.2 383.2 589.3 382.7 588.2 381.9C587 381.2 585.5 379.6 585.5 378.3C585.5 376.9 586.8 374.6 588.1 373.9C589.4 373.2 592.1 373.4 593.4 374.2C594.6 375 595.5 377.5 595.4 378.9C595.2 380.4 593.6 382.2 592.4 382.7Z" fill="#707070" stroke="#dadada" stroke-width="2.8" stroke-dasharray="2.6 0.55" stroke-linecap="butt"/>
<circle cx="591" cy="378" r="1.7" fill="#3c3c3c" opacity="0.8"/>
<path d="M578.1 390.1C576.7 389.7 574.9 387.7 574.5 386.3C574.2 384.9 575.1 382.8 576.1 381.8C577.2 380.7 579.4 379.5 580.7 379.8C582 380.1 583.6 382.1 584 383.6C584.4 385 584.1 387.4 583.1 388.5C582.1 389.5 579.5 390.4 578.1 390.1Z" fill="#707070" stroke="#dadada" stroke-width="2.8" stroke-dasharray="2.6 0.55" stroke-linecap="butt"/>
<circle cx="579.2" cy="384.5" r="1.7" fill="#3c3c3c" opacity="0.8"/>
<path d="M502.2 393C501.7 391.8 501.8 389.7 502.6 388.5C503.4 387.4 505.8 385.8 507.1 386C508.5 386.3 510.1 388.6 510.5 389.9C510.9 391.3 510.2 393.2 509.4 394.1C508.5 395.1 506.7 395.8 505.5 395.6C504.3 395.4 502.6 394.2 502.2 393Z" fill="#707070" stroke="#dadada" stroke-width="2.8" stroke-dasharray="2.6 0.55" stroke-linecap="butt"/>
<circle cx="505.8" cy="391.8" r="1.7" fill="#3c3c3c" opacity="0.8"/>
<path d="M451 303C450.2 302.3 449.8 300.6 449.9 299.3C450.1 298.1 450.9 295.9 451.9 295.5C452.9 295.1 455.3 296 456.1 296.9C457 297.8 457.5 299.6 457.2 300.7C457 301.8 455.7 303 454.7 303.4C453.7 303.8 451.8 303.6 451 303Z" fill="#707070" stroke="#dadada" stroke-width="2.8" stroke-dasharray="2.6 0.55" stroke-linecap="butt"/>
<circle cx="453" cy="299.6" r="1.5" fill="#3c3c3c" opacity="0.8"/>
<path d="M671.5 300.3C672.4 299.9 674.1 300.1 675 300.7C676 301.3 677.2 302.8 677.2 303.9C677.1 304.9 675.9 306.4 674.8 307C673.7 307.6 671.4 308.1 670.5 307.5C669.6 306.9 669.3 304.6 669.5 303.4C669.7 302.2 670.6 300.8 671.5 300.3Z" fill="#707070" stroke="#dadada" stroke-width="2.8" stroke-dasharray="2.6 0.55" stroke-linecap="butt"/>
<circle cx="673.1" cy="303.9" r="1.5" fill="#3c3c3c" opacity="0.8"/>
<path d="M694.9 317.5C694.1 316.2 694.6 313.2 695.4 311.8C696.2 310.5 698.3 309.4 699.8 309.4C701.3 309.3 703.6 310.3 704.3 311.4C705 312.6 704.7 314.9 704 316.3C703.3 317.6 701.8 319.1 700.2 319.3C698.7 319.5 695.7 318.7 694.9 317.5Z" fill="#707070" stroke="#dadada" stroke-width="2.8" stroke-dasharray="2.6 0.55" stroke-linecap="butt"/>
<circle cx="699.7" cy="314.7" r="1.8" fill="#3c3c3c" opacity="0.8"/>
<path d="M686.3 325.8C687.5 326.5 688.4 328.9 688.3 330.4C688.3 331.9 687.5 334.1 686.3 334.8C685.1 335.5 682.5 335.6 681.3 334.9C680 334.2 678.8 332 678.8 330.6C678.7 329.1 679.9 327 681.1 326.2C682.4 325.4 685.1 325.1 686.3 325.8Z" fill="#707070" stroke="#dadada" stroke-width="2.8" stroke-dasharray="2.6 0.55" stroke-linecap="butt"/>
<circle cx="684.1" cy="330.1" r="1.9" fill="#3c3c3c" opacity="0.8"/>
<path d="M738.7 291.4C738.3 292.7 736.3 294 734.8 294.3C733.4 294.6 730.9 294.2 730.1 293.2C729.2 292.2 729.3 289.8 729.8 288.4C730.3 287 731.6 285.2 732.9 284.9C734.2 284.6 736.4 285.6 737.4 286.7C738.4 287.8 739.1 290.1 738.7 291.4Z" fill="#707070" stroke="#dadada" stroke-width="2.8" stroke-dasharray="2.6 0.55" stroke-linecap="butt"/>
<circle cx="734.2" cy="290.1" r="1.6" fill="#3c3c3c" opacity="0.8"/>
<path d="M739.3 295.3C739.2 294 740 292.2 741.2 291.4C742.3 290.5 744.7 289.7 746 290.3C747.3 290.9 748.9 293.3 748.9 294.9C749 296.5 747.7 299 746.4 299.7C745.2 300.5 742.5 299.9 741.3 299.2C740.2 298.4 739.3 296.6 739.3 295.3Z" fill="#707070" stroke="#dadada" stroke-width="2.8" stroke-dasharray="2.6 0.55" stroke-linecap="butt"/>
<circle cx="743.7" cy="295.5" r="1.7" fill="#3c3c3c" opacity="0.8"/>
<path d="M752.2 287.3C753.2 286.5 755.4 286.4 756.7 286.9C757.9 287.4 759.3 289 759.5 290.2C759.7 291.5 758.9 293.7 757.9 294.4C757 295.1 754.9 295.1 753.7 294.6C752.4 294.1 750.6 292.9 750.3 291.6C750.1 290.4 751.1 288 752.2 287.3Z" fill="#707070" stroke="#dadada" stroke-width="2.8" stroke-dasharray="2.6 0.55" stroke-linecap="butt"/>
<circle cx="755.6" cy="290.4" r="1.6" fill="#3c3c3c" opacity="0.8"/>
<path d="M733.1 342.4L743 346.1L736.2 351.5Z" fill="#6a6a6a" stroke="#e6e6e6" stroke-width="2.3" stroke-linejoin="round"/>
<path d="M753.2 362.5C753.4 364.1 752.1 366.9 750.9 367.8C749.7 368.7 747.4 368.4 745.8 367.8C744.2 367.3 741.8 366 741.5 364.7C741.3 363.4 743 361.2 744.3 360.1C745.6 359 747.8 357.5 749.3 357.9C750.8 358.3 752.9 360.9 753.2 362.5Z" fill="#707070" stroke="#dadada" stroke-width="2.8" stroke-dasharray="2.6 0.55" stroke-linecap="butt"/>
<circle cx="747.5" cy="363.1" r="1.8" fill="#3c3c3c" opacity="0.8"/>
<path d="M665.2 359.8C664 360.6 661.2 360.5 659.8 359.7C658.4 358.9 656.9 356.7 656.9 355.1C656.8 353.5 658.2 350.6 659.6 350C660.9 349.3 663.7 350.1 664.9 351C666.1 351.8 666.9 353.6 666.9 355.1C667 356.6 666.4 359.1 665.2 359.8Z" fill="#707070" stroke="#dadada" stroke-width="2.8" stroke-dasharray="2.6 0.55" stroke-linecap="butt"/>
<circle cx="663" cy="354.5" r="1.8" fill="#3c3c3c" opacity="0.8"/>
<path d="M666.8 370.1C667.8 371.2 669 373 668.7 374.2C668.5 375.4 666.6 377.2 665.2 377.6C663.9 378 661.4 377.4 660.5 376.4C659.5 375.4 659.2 373.1 659.6 371.7C660 370.3 661.5 368.3 662.7 368.1C663.9 367.8 665.8 369.1 666.8 370.1Z" fill="#707070" stroke="#dadada" stroke-width="2.8" stroke-dasharray="2.6 0.55" stroke-linecap="butt"/>
<circle cx="663.6" cy="373.1" r="1.6" fill="#3c3c3c" opacity="0.8"/>
<path d="M714.9 380.5C713.5 379.8 711.9 376.8 711.9 375.1C711.9 373.4 713.7 371.1 715.1 370.2C716.6 369.4 719.5 369.3 720.7 370C722 370.8 722.8 373.4 722.8 374.9C722.8 376.4 721.8 378.2 720.5 379.1C719.2 380.1 716.4 381.2 714.9 380.5Z" fill="#707070" stroke="#dadada" stroke-width="2.8" stroke-dasharray="2.6 0.55" stroke-linecap="butt"/>
<circle cx="718.1" cy="375" r="2" fill="#3c3c3c" opacity="0.8"/>
<path d="M612.7 408.5C613.5 409.2 613.8 411.3 613.5 412.5C613.3 413.7 612.2 415.2 611.1 415.7C610 416.1 607.7 416.1 606.8 415.3C605.8 414.5 605.3 412.1 605.6 411C605.9 409.8 607.4 408.8 608.6 408.4C609.8 408 611.9 407.8 612.7 408.5Z" fill="#707070" stroke="#dadada" stroke-width="2.8" stroke-dasharray="2.6 0.55" stroke-linecap="butt"/>
<circle cx="610.2" cy="412.2" r="1.6" fill="#3c3c3c" opacity="0.8"/>
<path d="M472.5 431.6C471.8 432.8 469.7 433.8 468.2 433.8C466.8 433.8 464.3 432.9 463.7 431.7C463.1 430.5 463.6 427.9 464.4 426.8C465.1 425.6 467 424.7 468.3 424.6C469.7 424.6 471.8 425.6 472.5 426.7C473.2 427.9 473.2 430.4 472.5 431.6Z" fill="#707070" stroke="#dadada" stroke-width="2.8" stroke-dasharray="2.6 0.55" stroke-linecap="butt"/>
<circle cx="468.9" cy="428.6" r="1.7" fill="#3c3c3c" opacity="0.8"/>
<path d="M462.4 448.1C461.3 449.3 458.7 450.6 457.2 450.3C455.7 449.9 453.8 447.7 453.3 446.2C452.9 444.7 453.4 442.4 454.4 441.1C455.5 439.9 457.9 438.5 459.4 438.8C461 439.1 463.2 441.1 463.7 442.7C464.2 444.2 463.5 446.8 462.4 448.1Z" fill="#707070" stroke="#dadada" stroke-width="2.8" stroke-dasharray="2.6 0.55" stroke-linecap="butt"/>
<circle cx="457.8" cy="445" r="1.8" fill="#3c3c3c" opacity="0.8"/>
<path d="M480.4 446.8C478.8 447.4 476 447.5 474.8 446.6C473.7 445.6 473.2 442.7 473.5 441C473.8 439.3 475.3 436.9 476.7 436.4C478.1 436 480.5 437.2 481.9 438.3C483.2 439.4 484.9 441.7 484.7 443.1C484.4 444.5 482 446.2 480.4 446.8Z" fill="#707070" stroke="#dadada" stroke-width="2.8" stroke-dasharray="2.6 0.55" stroke-linecap="butt"/>
<circle cx="478.3" cy="441.6" r="1.9" fill="#3c3c3c" opacity="0.8"/>
<path d="M486.4 473C486.4 471.5 487.3 469.1 488.7 468.1C490 467.2 493 466.7 494.5 467.4C495.9 468.1 497.4 471 497.4 472.6C497.3 474.1 495.4 475.9 494 476.7C492.7 477.5 490.5 477.9 489.2 477.3C487.9 476.7 486.5 474.5 486.4 473Z" fill="#707070" stroke="#dadada" stroke-width="2.8" stroke-dasharray="2.6 0.55" stroke-linecap="butt"/>
<circle cx="491.7" cy="472.8" r="1.9" fill="#3c3c3c" opacity="0.8"/>
<path d="M565 470.6C566.4 470.4 568.5 471.5 569.5 472.6C570.4 473.7 571.1 475.7 570.7 477.1C570.4 478.6 568.7 481 567.4 481.4C566 481.7 563.5 480.3 562.4 479.1C561.3 477.9 560.3 475.4 560.7 474C561.1 472.6 563.5 470.8 565 470.6Z" fill="#707070" stroke="#dadada" stroke-width="2.8" stroke-dasharray="2.6 0.55" stroke-linecap="butt"/>
<circle cx="566.7" cy="475.9" r="1.8" fill="#3c3c3c" opacity="0.8"/>
<path d="M580.8 472.2C582.1 471.5 584.5 472 585.9 472.9C587.3 473.8 589.2 475.9 589.1 477.4C589 478.8 587 480.9 585.5 481.6C584 482.4 581.1 482.7 579.9 481.9C578.7 481.1 578.1 478.3 578.3 476.7C578.4 475.1 579.5 472.8 580.8 472.2Z" fill="#707070" stroke="#dadada" stroke-width="2.8" stroke-dasharray="2.6 0.55" stroke-linecap="butt"/>
<circle cx="583.6" cy="477.3" r="1.8" fill="#3c3c3c" opacity="0.8"/>
<path d="M574.5 485.3C575.5 484.3 577.9 483.8 579.5 484.1C581.1 484.3 583.6 485.5 584.2 486.8C584.7 488.2 583.7 490.9 582.6 492.2C581.5 493.4 579 494.7 577.6 494.4C576.1 494.1 574.6 491.9 574.1 490.4C573.6 488.9 573.6 486.4 574.5 485.3Z" fill="#707070" stroke="#dadada" stroke-width="2.8" stroke-dasharray="2.6 0.55" stroke-linecap="butt"/>
<circle cx="578.1" cy="488.4" r="1.9" fill="#3c3c3c" opacity="0.8"/>
<path d="M612.2 469.5C613.6 469.9 615.5 471.2 615.8 472.4C616 473.6 614.6 475.7 613.5 476.5C612.4 477.4 610.3 477.9 609.2 477.5C608 477 606.8 475.2 606.6 473.9C606.4 472.5 607 470.3 607.9 469.6C608.8 468.9 610.9 469 612.2 469.5Z" fill="#707070" stroke="#dadada" stroke-width="2.8" stroke-dasharray="2.6 0.55" stroke-linecap="butt"/>
<circle cx="610.3" cy="473.1" r="1.6" fill="#3c3c3c" opacity="0.8"/>
<path d="M664.9 403.9C665.4 404.9 665.6 407 664.9 407.9C664.3 408.7 662.2 409.3 661 409.1C659.9 409 658.4 407.8 658 406.8C657.6 405.8 658.1 404 658.7 403.2C659.4 402.4 660.9 401.7 661.9 401.9C662.9 402 664.4 402.9 664.9 403.9Z" fill="#707070" stroke="#dadada" stroke-width="2.8" stroke-dasharray="2.6 0.55" stroke-linecap="butt"/>
<circle cx="662" cy="405.7" r="1.5" fill="#3c3c3c" opacity="0.8"/>
<path d="M671.6 420C673.2 420.4 675.5 422.8 675.8 424.3C676 425.9 674.2 428.1 672.9 429.2C671.6 430.3 669.4 431.3 668 430.9C666.5 430.5 664.7 428.3 664.4 426.7C664.1 425.1 664.8 422.6 666 421.5C667.2 420.3 669.9 419.5 671.6 420Z" fill="#707070" stroke="#dadada" stroke-width="2.8" stroke-dasharray="2.6 0.55" stroke-linecap="butt"/>
<circle cx="670.2" cy="425.9" r="1.9" fill="#3c3c3c" opacity="0.8"/>
<path d="M674.7 447.9C675 449.6 674.9 452.1 673.8 453.2C672.7 454.2 669.8 454.8 668.2 454.3C666.6 453.8 664.6 451.7 664.3 450.1C664 448.5 665 445.8 666.3 444.7C667.5 443.5 670.5 442.7 671.9 443.2C673.3 443.8 674.4 446.3 674.7 447.9Z" fill="#707070" stroke="#dadada" stroke-width="2.8" stroke-dasharray="2.6 0.55" stroke-linecap="butt"/>
<circle cx="669.8" cy="449.4" r="1.9" fill="#3c3c3c" opacity="0.8"/>
<path d="M637.9 461.9C637 460.7 636.4 457.7 637.1 456.3C637.8 454.9 640.5 453.4 642 453.3C643.6 453.3 645.7 454.9 646.5 456.2C647.3 457.4 647.3 459.7 646.7 461C646.1 462.3 644.2 463.7 642.7 463.8C641.3 464 638.9 463.2 637.9 461.9Z" fill="#707070" stroke="#dadada" stroke-width="2.8" stroke-dasharray="2.6 0.55" stroke-linecap="butt"/>
<circle cx="642.6" cy="459.5" r="1.8" fill="#3c3c3c" opacity="0.8"/>
<path d="M674.2 469.1C675.1 470.2 675.4 472.8 674.8 474.3C674.2 475.8 672.2 478 670.7 478.1C669.2 478.3 666.8 476.6 665.9 475.2C665 473.9 664.6 471.4 665.2 470.1C665.7 468.8 668 467.8 669.5 467.6C671 467.4 673.3 468 674.2 469.1Z" fill="#707070" stroke="#dadada" stroke-width="2.8" stroke-dasharray="2.6 0.55" stroke-linecap="butt"/>
<circle cx="669.6" cy="472.2" r="1.9" fill="#3c3c3c" opacity="0.8"/>
<path d="M655.7 475C656.6 474.7 658.3 475.2 659.2 475.9C660.2 476.6 661.3 478.2 661.1 479.3C661 480.3 659.4 481.9 658.3 482.2C657.3 482.5 655.7 481.8 654.9 481.1C654.2 480.5 653.7 479.1 653.9 478.1C654 477.1 654.8 475.4 655.7 475Z" fill="#707070" stroke="#dadada" stroke-width="2.8" stroke-dasharray="2.6 0.55" stroke-linecap="butt"/>
<circle cx="657.6" cy="479.2" r="1.4" fill="#3c3c3c" opacity="0.8"/>
<path d="M696.9 469C697.6 470.4 697.2 472.9 696.4 474.1C695.6 475.3 693.5 476.2 692.1 476.2C690.7 476.1 688.6 475.1 688 473.9C687.3 472.8 687.4 470.5 688.1 469.1C688.8 467.8 690.8 465.7 692.3 465.7C693.8 465.6 696.2 467.6 696.9 469Z" fill="#707070" stroke="#dadada" stroke-width="2.8" stroke-dasharray="2.6 0.55" stroke-linecap="butt"/>
<circle cx="692.7" cy="471.9" r="1.8" fill="#3c3c3c" opacity="0.8"/>
<path d="M687.9 494.9C686.7 495.7 684.7 496 683.4 495.5C682 495 679.8 493.2 679.7 491.9C679.6 490.6 681.4 488.7 682.6 487.8C683.9 486.9 686 486 687.3 486.5C688.6 486.9 690.2 489.3 690.3 490.7C690.4 492.1 689 494.1 687.9 494.9Z" fill="#707070" stroke="#dadada" stroke-width="2.8" stroke-dasharray="2.6 0.55" stroke-linecap="butt"/>
<circle cx="685.3" cy="491.9" r="1.7" fill="#3c3c3c" opacity="0.8"/>
<path d="M682.7 509.3C681.4 509.2 679.4 507.3 678.9 506C678.3 504.7 678.6 502.5 679.3 501.4C680.1 500.3 682.1 499.5 683.4 499.5C684.8 499.6 687 500.7 687.6 501.9C688.1 503 687.7 505.4 686.9 506.6C686.1 507.8 684 509.4 682.7 509.3Z" fill="#707070" stroke="#dadada" stroke-width="2.8" stroke-dasharray="2.6 0.55" stroke-linecap="butt"/>
<circle cx="682.6" cy="504.6" r="1.8" fill="#3c3c3c" opacity="0.8"/>
<path d="M711.3 501.6C709.6 501.2 707.5 498.9 707.1 497.1C706.6 495.4 707.3 492.5 708.5 491.3C709.7 490.1 712.5 489.4 714.2 489.8C716 490.2 718.4 492.1 719 493.7C719.5 495.4 718.6 498.6 717.3 499.9C716 501.2 713 502.1 711.3 501.6Z" fill="#707070" stroke="#dadada" stroke-width="2.8" stroke-dasharray="2.6 0.55" stroke-linecap="butt"/>
<circle cx="713.1" cy="495.6" r="2" fill="#3c3c3c" opacity="0.8"/>
<path d="M733.1 481.3C734.8 480.6 738 481.4 739.4 482.6C740.8 483.9 741.9 486.9 741.5 488.5C741.2 490.2 739.1 492 737.3 492.7C735.6 493.4 732.4 493.8 731 492.8C729.7 491.8 729 488.4 729.3 486.5C729.7 484.5 731.4 481.9 733.1 481.3Z" fill="#707070" stroke="#dadada" stroke-width="2.8" stroke-dasharray="2.6 0.55" stroke-linecap="butt"/>
<circle cx="734.9" cy="487.1" r="2.1" fill="#3c3c3c" opacity="0.8"/>
<path d="M764.9 467.1C765.9 468.1 766.7 470.3 766.4 471.8C766.1 473.3 764.5 475.4 763 475.8C761.5 476.3 758.4 475.7 757.4 474.6C756.4 473.5 756.2 470.7 756.7 469.2C757.2 467.7 758.8 466 760.2 465.6C761.5 465.3 763.9 466 764.9 467.1Z" fill="#707070" stroke="#dadada" stroke-width="2.8" stroke-dasharray="2.6 0.55" stroke-linecap="butt"/>
<circle cx="761.4" cy="469.9" r="1.8" fill="#3c3c3c" opacity="0.8"/>
<path d="M735 413.4C736.2 414.6 737.9 416.8 737.6 418.1C737.2 419.4 734.5 420.7 733 421C731.5 421.3 729.6 420.8 728.5 419.8C727.3 418.8 725.9 416.4 726.2 415C726.5 413.5 728.9 411.2 730.4 410.9C731.8 410.7 733.8 412.2 735 413.4Z" fill="#707070" stroke="#dadada" stroke-width="2.8" stroke-dasharray="2.6 0.55" stroke-linecap="butt"/>
<circle cx="731.5" cy="416.6" r="1.8" fill="#3c3c3c" opacity="0.8"/>
<path d="M735.8 418.1C735.7 417 736.7 415.6 737.6 414.9C738.5 414.2 740.1 413.4 741.2 413.7C742.2 414.1 743.7 415.7 743.9 416.9C744.1 418 743.1 419.8 742.1 420.6C741.2 421.3 739.2 421.8 738.2 421.4C737.1 421 735.9 419.2 735.8 418.1Z" fill="#707070" stroke="#dadada" stroke-width="2.8" stroke-dasharray="2.6 0.55" stroke-linecap="butt"/>
<circle cx="740.2" cy="417.4" r="1.4" fill="#3c3c3c" opacity="0.8"/>
<circle cx="640.7" cy="433.4" r="1.5" fill="#e2e2e2"/>
<circle cx="643.5" cy="436.5" r="1.5" fill="#e2e2e2"/>
<circle cx="638" cy="431" r="1.5" fill="#e2e2e2"/>
<circle cx="660" cy="488" r="1.5" fill="#e2e2e2"/>
<circle cx="663" cy="490.5" r="1.5" fill="#e2e2e2"/>
<circle cx="741.5" cy="503" r="1.5" fill="#e2e2e2"/>
<circle cx="743" cy="506.5" r="1.5" fill="#e2e2e2"/>
<circle cx="727" cy="484" r="1.5" fill="#e2e2e2"/>
<circle cx="726" cy="489" r="1.5" fill="#e2e2e2"/>
</g>
<path d="M586.3 318.3L596.6 320.6L596.1 318.4L607.5 315.7L606.5 311.3L595 313.9L594.5 311.7Z" fill="#e6df35"/>
<path d="M681.6 300L691.9 302.3L691.4 300L702.7 297.3L701.7 292.9L690.3 295.6L689.8 293.3Z" fill="#e6df35"/>
<path d="M745.2 342.4L755.5 344.7L755 342.4L766.2 339.7L765.2 335.3L753.9 338L753.4 335.7Z" fill="#e6df35"/>
<path d="M614.7 344.5L625 346.7L624.5 344.5L635.5 341.8L634.5 337.4L623.4 340L622.9 337.8Z" fill="#b4379f"/>
<path d="M488.5 438.5L498.8 440.9L498.3 438.7L510.8 435.9L509.8 431.5L497.3 434.2L496.8 432Z" fill="#b4379f"/>
<path d="M679.9 444.7L690.2 447L689.7 444.8L701.2 442L700.2 437.6L688.6 440.3L688.1 438Z" fill="#b4379f"/>
<rect x="467.3" y="495.4" width="37.3" height="4.9" fill="#0a0a0a"/>
</g>
<text x="4.9" y="20.8" font-size="21" fill="#111" font-weight="bold" stroke="#111" stroke-width="0.22">a)</text>
<path d="M92.5 204.7C92.2 206.4 89.8 211.7 90.5 214.7C91.2 217.7 96.9 220.1 96.6 222.8C96.3 225.5 90.2 227.9 88.5 230.9C86.8 233.9 85.2 238.3 86.5 241C87.8 243.7 94.2 245 96.6 247C98.9 249 99.9 252.1 100.6 253.1" fill="none" stroke="#7e7e7e" stroke-width="3" stroke-linecap="round" stroke-linejoin="round"/>
<path d="M92.5 204.7C92.2 206.4 89.8 211.7 90.5 214.7C91.2 217.7 96.9 220.1 96.6 222.8C96.3 225.5 90.2 227.9 88.5 230.9C86.8 233.9 85.2 238.3 86.5 241C87.8 243.7 94.2 245 96.6 247C98.9 249 99.9 252.1 100.6 253.1" fill="none" stroke="#b4b4b4" stroke-width="1.6" stroke-linecap="round" stroke-linejoin="round"/>
<path d="M100.6 224.8C100.3 226.5 97.9 231.9 98.6 234.9C99.3 237.9 101.7 241.3 104.7 243C107.7 244.7 113.1 246 116.8 245C120.5 244 125.5 240.3 126.8 236.9C128.1 233.5 124.4 228.5 124.8 224.8C125.2 221.1 128.2 216.4 128.9 214.7" fill="none" stroke="#7e7e7e" stroke-width="3" stroke-linecap="round" stroke-linejoin="round"/>
<path d="M100.6 224.8C100.3 226.5 97.9 231.9 98.6 234.9C99.3 237.9 101.7 241.3 104.7 243C107.7 244.7 113.1 246 116.8 245C120.5 244 125.5 240.3 126.8 236.9C128.1 233.5 124.4 228.5 124.8 224.8C125.2 221.1 128.2 216.4 128.9 214.7" fill="none" stroke="#b4b4b4" stroke-width="1.6" stroke-linecap="round" stroke-linejoin="round"/>
<path d="M171.2 200.7C171.9 202.7 173.3 209.7 175.3 212.7C177.3 215.7 180.4 218.1 183.4 218.8C186.4 219.5 190.1 218.3 193.4 216.8C196.7 215.3 199.9 211.6 203 210C206.1 208.4 208.8 207.7 212 207C215.2 206.3 220.8 206.1 222.5 205.9" fill="none" stroke="#7e7e7e" stroke-width="3" stroke-linecap="round" stroke-linejoin="round"/>
<path d="M171.2 200.7C171.9 202.7 173.3 209.7 175.3 212.7C177.3 215.7 180.4 218.1 183.4 218.8C186.4 219.5 190.1 218.3 193.4 216.8C196.7 215.3 199.9 211.6 203 210C206.1 208.4 208.8 207.7 212 207C215.2 206.3 220.8 206.1 222.5 205.9" fill="none" stroke="#b4b4b4" stroke-width="1.6" stroke-linecap="round" stroke-linejoin="round"/>
<path d="M174 206C174.3 208 173.7 215.7 176 218C178.3 220.3 184 220.7 188 220C192 219.3 196.3 215 200 214C203.7 213 207.3 215 210 214C212.7 213 215.3 208.9 216.4 207.9" fill="none" stroke="#7e7e7e" stroke-width="3" stroke-linecap="round" stroke-linejoin="round"/>
<path d="M174 206C174.3 208 173.7 215.7 176 218C178.3 220.3 184 220.7 188 220C192 219.3 196.3 215 200 214C203.7 213 207.3 215 210 214C212.7 213 215.3 208.9 216.4 207.9" fill="none" stroke="#b4b4b4" stroke-width="1.6" stroke-linecap="round" stroke-linejoin="round"/>
<path d="M52.2 190.5C50.9 189.8 45.8 188.5 44.1 186.5C42.4 184.5 41.1 181.1 42.1 178.4C43.1 175.7 46.8 172.1 50.2 170.4C53.6 168.7 58.6 169.3 62.3 168.3C66 167.3 69.7 164 72.4 164.3C75.1 164.7 76.7 168.9 78.4 170.4C80.1 171.9 80.5 173.1 82.5 173.4C84.5 173.7 87.8 172.2 90.5 172.4C93.2 172.6 97.2 174.1 98.6 174.4" fill="none" stroke="#7e7e7e" stroke-width="3" stroke-linecap="round" stroke-linejoin="round"/>
<path d="M52.2 190.5C50.9 189.8 45.8 188.5 44.1 186.5C42.4 184.5 41.1 181.1 42.1 178.4C43.1 175.7 46.8 172.1 50.2 170.4C53.6 168.7 58.6 169.3 62.3 168.3C66 167.3 69.7 164 72.4 164.3C75.1 164.7 76.7 168.9 78.4 170.4C80.1 171.9 80.5 173.1 82.5 173.4C84.5 173.7 87.8 172.2 90.5 172.4C93.2 172.6 97.2 174.1 98.6 174.4" fill="none" stroke="#b4b4b4" stroke-width="1.6" stroke-linecap="round" stroke-linejoin="round"/>
<path d="M51.2 192.3L51.6 192.3L52.7 191.8L54.2 191.1L56.2 190.1L58.3 189.1L60.6 188.2L62.8 187.5L64.7 187.1L66.2 187.3L67.3 187.9L69.3 190.2L68.9 190.2L67.8 190.7L66.3 191.4L64.3 192.4L62.2 193.4L59.9 194.3L57.7 195L55.8 195.4L54.3 195.2L53.2 194.6Z" fill="#888888" stroke="#6c6c6c" stroke-width="1" stroke-linejoin="round"/>
<path d="M60.8 203.3L61.3 203.3L62.4 202.8L63.9 202.1L65.8 201.1L68 200.1L70.3 199.2L72.5 198.5L74.4 198.1L75.9 198.3L76.9 198.9L79 201.2L78.5 201.2L77.5 201.7L75.9 202.4L74 203.4L71.8 204.4L69.6 205.3L67.4 206L65.5 206.4L63.9 206.2L62.9 205.6Z" fill="#888888" stroke="#6c6c6c" stroke-width="1" stroke-linejoin="round"/>
<path d="M70.5 214.3L71 214.3L72 213.8L73.6 213.1L75.5 212.1L77.7 211.1L79.9 210.2L82.1 209.5L84 209.1L85.6 209.3L86.6 209.9L88.7 212.2L88.2 212.2L87.1 212.7L85.6 213.4L83.7 214.4L81.5 215.4L79.2 216.3L77 217L75.1 217.4L73.6 217.2L72.6 216.6Z" fill="#888888" stroke="#6c6c6c" stroke-width="1" stroke-linejoin="round"/>
<path d="M57.3 176.6L57.2 177L56.6 177.9L55.6 179.3L54.4 181L53 183L51.8 185.2L50.9 187.3L50.4 189.2L50.4 190.8L50.9 192L53.5 194.9L53.6 194.5L54.2 193.6L55.2 192.2L56.5 190.5L57.8 188.5L59 186.3L59.9 184.2L60.5 182.3L60.5 180.7L59.9 179.5Z" fill="#c5c5c5" stroke="#6c6c6c" stroke-width="1" stroke-linejoin="round"/>
<path d="M67 187.6L66.9 188L66.3 188.9L65.3 190.3L64 192L62.7 194L61.5 196.2L60.6 198.3L60 200.2L60 201.8L60.6 203L63.2 205.9L63.3 205.5L63.9 204.6L64.9 203.2L66.1 201.5L67.5 199.5L68.7 197.3L69.6 195.2L70.1 193.3L70.1 191.7L69.6 190.5Z" fill="#c5c5c5" stroke="#6c6c6c" stroke-width="1" stroke-linejoin="round"/>
<path d="M76.7 198.6L76.5 199L75.9 199.9L74.9 201.3L73.7 203L72.4 205L71.2 207.2L70.2 209.3L69.7 211.2L69.7 212.8L70.2 214L72.8 216.9L73 216.5L73.6 215.6L74.6 214.2L75.8 212.5L77.1 210.5L78.3 208.3L79.3 206.2L79.8 204.3L79.8 202.7L79.3 201.5Z" fill="#c5c5c5" stroke="#6c6c6c" stroke-width="1" stroke-linejoin="round"/>
<path d="M80 214C81 213.3 83.9 211.6 86 210C88.1 208.4 91.4 205.6 92.5 204.7" fill="none" stroke="#7e7e7e" stroke-width="3" stroke-linecap="round" stroke-linejoin="round"/>
<path d="M80 214C81 213.3 83.9 211.6 86 210C88.1 208.4 91.4 205.6 92.5 204.7" fill="none" stroke="#b4b4b4" stroke-width="1.6" stroke-linecap="round" stroke-linejoin="round"/>
<path d="M205 181.5C202.7 182.2 197.1 184.6 191.4 186C185.7 187.4 177.7 188.2 171 190C164.3 191.8 159.5 193.2 151.1 196.6C142.7 200 128 207.5 120.8 210.7C113.6 213.9 110.1 215.1 108 216" fill="none" stroke="#6c6c6c" stroke-width="5.8" stroke-linecap="butt"/>
<path d="M205 181.5C202.7 182.2 197.1 184.6 191.4 186C185.7 187.4 177.7 188.2 171 190C164.3 191.8 159.5 193.2 151.1 196.6C142.7 200 128 207.5 120.8 210.7C113.6 213.9 110.1 215.1 108 216" fill="none" stroke="#c5c5c5" stroke-width="4.4" stroke-linecap="butt"/>
<path d="M106.1 211.4L101.5 218.7L109.9 220.6Z" fill="#c5c5c5" stroke="#6c6c6c" stroke-width="0.9" stroke-linejoin="round"/>
<path d="M130.9 216.7C131.3 213.9 130.8 205.2 133.5 200C136.2 194.8 142.4 188.4 147 185.5C151.6 182.6 156.5 182.2 161.2 182.5C165.9 182.8 170 186.3 175.3 187.5C180.6 188.7 188.1 190.2 193 189.5C197.9 188.8 203 184.1 205 183" fill="none" stroke="#6c6c6c" stroke-width="6.8" stroke-linecap="butt"/>
<path d="M130.9 216.7C131.3 213.9 130.8 205.2 133.5 200C136.2 194.8 142.4 188.4 147 185.5C151.6 182.6 156.5 182.2 161.2 182.5C165.9 182.8 170 186.3 175.3 187.5C180.6 188.7 188.1 190.2 193 189.5C197.9 188.8 203 184.1 205 183" fill="none" stroke="#c5c5c5" stroke-width="5.4" stroke-linecap="butt"/>
<path d="M205 185C202.7 186.4 198.9 191.4 191.4 193.6C183.9 195.8 170.2 196.8 160 198C149.8 199.2 139 200 130 201C121 202 110 203.3 106 203.8" fill="none" stroke="#6c6c6c" stroke-width="6.8" stroke-linecap="butt"/>
<path d="M205 185C202.7 186.4 198.9 191.4 191.4 193.6C183.9 195.8 170.2 196.8 160 198C149.8 199.2 139 200 130 201C121 202 110 203.3 106 203.8" fill="none" stroke="#c5c5c5" stroke-width="5.4" stroke-linecap="butt"/>
<path d="M105.2 197L96.5 204.9L106.8 210.6Z" fill="#c5c5c5" stroke="#6c6c6c" stroke-width="0.9" stroke-linejoin="round"/>
<path d="M129.5 178L129.9 177.6L130.3 176.5L130.8 174.9L131.4 172.8L132.1 170.4L132.9 168.1L133.9 166L135 164.3L136.3 163.2L137.6 162.7L141.2 162.5L140.8 162.9L140.4 164L139.9 165.6L139.3 167.7L138.6 170.1L137.8 172.4L136.8 174.5L135.7 176.2L134.4 177.3L133.1 177.8Z" fill="#888888" stroke="#6c6c6c" stroke-width="1" stroke-linejoin="round"/>
<path d="M147.3 177L147.7 176.6L148.1 175.5L148.6 173.9L149.2 171.8L149.9 169.4L150.7 167.1L151.7 165L152.8 163.3L154.1 162.2L155.4 161.7L159 161.5L158.6 161.9L158.2 163L157.7 164.6L157.1 166.7L156.4 169.1L155.6 171.4L154.6 173.5L153.5 175.2L152.2 176.3L150.9 176.8Z" fill="#888888" stroke="#6c6c6c" stroke-width="1" stroke-linejoin="round"/>
<path d="M165.1 176L165.5 175.6L165.9 174.5L166.4 172.9L167 170.8L167.7 168.4L168.5 166.1L169.5 164L170.6 162.3L171.9 161.2L173.2 160.7L176.8 160.5L176.4 160.9L176 162L175.5 163.6L174.9 165.7L174.2 168.1L173.4 170.4L172.4 172.5L171.3 174.2L170 175.3L168.7 175.8Z" fill="#888888" stroke="#6c6c6c" stroke-width="1" stroke-linejoin="round"/>
<path d="M182.9 175L183.3 174.6L183.7 173.5L184.2 171.9L184.8 169.8L185.5 167.4L186.3 165.1L187.3 163L188.4 161.3L189.7 160.2L191 159.7L194.6 159.5L194.2 159.9L193.8 161L193.3 162.6L192.7 164.7L192 167.1L191.2 169.4L190.2 171.5L189.1 173.2L187.8 174.3L186.5 174.8Z" fill="#888888" stroke="#6c6c6c" stroke-width="1" stroke-linejoin="round"/>
<path d="M200.7 174L201.1 173.6L201.5 172.5L202 170.9L202.6 168.8L203.3 166.4L204.1 164.1L205.1 162L206.2 160.3L207.5 159.2L208.8 158.7L212.4 158.5L212 158.9L211.6 160L211.1 161.6L210.5 163.7L209.8 166.1L209 168.4L208 170.5L206.9 172.2L205.6 173.3L204.3 173.8Z" fill="#888888" stroke="#6c6c6c" stroke-width="1" stroke-linejoin="round"/>
<path d="M119.3 163.7L119.7 164.1L120.1 165.1L120.7 166.7L121.4 168.7L122.4 171L123.5 173.2L124.7 175.2L126.1 176.8L127.6 177.7L129.1 178L133.6 177.8L133.2 177.4L132.8 176.4L132.2 174.8L131.5 172.8L130.5 170.5L129.4 168.3L128.2 166.3L126.8 164.7L125.3 163.8L123.8 163.5Z" fill="#c5c5c5" stroke="#6c6c6c" stroke-width="1" stroke-linejoin="round"/>
<path d="M137.1 162.7L137.5 163.1L137.9 164.1L138.5 165.7L139.2 167.7L140.2 170L141.3 172.2L142.5 174.2L143.9 175.8L145.4 176.7L146.9 177L151.4 176.8L151 176.4L150.6 175.4L150 173.8L149.3 171.8L148.3 169.5L147.2 167.3L146 165.3L144.6 163.7L143.1 162.8L141.6 162.5Z" fill="#c5c5c5" stroke="#6c6c6c" stroke-width="1" stroke-linejoin="round"/>
<path d="M154.9 161.7L155.3 162.1L155.7 163.1L156.3 164.7L157 166.7L158 169L159.1 171.2L160.3 173.2L161.7 174.8L163.2 175.7L164.7 176L169.2 175.8L168.8 175.4L168.4 174.4L167.8 172.8L167.1 170.8L166.1 168.5L165 166.3L163.8 164.3L162.4 162.7L160.9 161.8L159.4 161.5Z" fill="#c5c5c5" stroke="#6c6c6c" stroke-width="1" stroke-linejoin="round"/>
<path d="M172.7 160.7L173.1 161.1L173.5 162.1L174.1 163.7L174.8 165.7L175.8 168L176.9 170.2L178.1 172.2L179.5 173.8L181 174.7L182.5 175L187 174.8L186.6 174.4L186.2 173.4L185.6 171.8L184.9 169.8L183.9 167.5L182.8 165.3L181.6 163.3L180.2 161.7L178.7 160.8L177.2 160.5Z" fill="#c5c5c5" stroke="#6c6c6c" stroke-width="1" stroke-linejoin="round"/>
<path d="M190.5 159.7L190.9 160.1L191.3 161.1L191.9 162.7L192.6 164.7L193.6 167L194.7 169.2L195.9 171.2L197.3 172.8L198.8 173.7L200.3 174L204.8 173.8L204.4 173.4L204 172.4L203.4 170.8L202.7 168.8L201.7 166.5L200.6 164.3L199.4 162.3L198 160.7L196.5 159.8L195 159.5Z" fill="#c5c5c5" stroke="#6c6c6c" stroke-width="1" stroke-linejoin="round"/>
<path d="M101.5 185.9L101.7 185.4L101.5 184.3L101.2 182.6L100.8 180.6L100.4 178.2L100.1 175.8L100.1 173.6L100.3 171.6L100.9 170.1L101.9 169.1L105 167.3L104.8 167.9L105 169L105.3 170.6L105.7 172.7L106.1 175L106.4 177.4L106.4 179.7L106.2 181.7L105.6 183.2L104.6 184.1Z" fill="#888888" stroke="#6c6c6c" stroke-width="1" stroke-linejoin="round"/>
<path d="M116.5 177.4L116.7 176.9L116.5 175.8L116.2 174.1L115.8 172.1L115.4 169.7L115.1 167.3L115.1 165.1L115.3 163.1L115.9 161.6L116.9 160.6L120 158.8L119.8 159.4L120 160.5L120.3 162.1L120.7 164.2L121.1 166.5L121.4 168.9L121.4 171.2L121.2 173.2L120.6 174.7L119.6 175.6Z" fill="#888888" stroke="#6c6c6c" stroke-width="1" stroke-linejoin="round"/>
<path d="M131.5 168.9L131.7 168.4L131.5 167.3L131.2 165.6L130.8 163.6L130.4 161.2L130.1 158.8L130.1 156.6L130.3 154.6L130.9 153.1L131.9 152.1L135 150.3L134.8 150.9L135 152L135.3 153.6L135.7 155.7L136.1 158L136.4 160.4L136.4 162.7L136.2 164.7L135.6 166.2L134.6 167.1Z" fill="#888888" stroke="#6c6c6c" stroke-width="1" stroke-linejoin="round"/>
<path d="M146.5 160.4L146.7 159.9L146.5 158.8L146.2 157.1L145.8 155.1L145.4 152.7L145.1 150.3L145.1 148.1L145.3 146.1L145.9 144.6L146.9 143.6L150 141.8L149.8 142.4L150 143.5L150.3 145.1L150.7 147.2L151.1 149.5L151.4 151.9L151.4 154.2L151.2 156.2L150.6 157.7L149.6 158.6Z" fill="#888888" stroke="#6c6c6c" stroke-width="1" stroke-linejoin="round"/>
<path d="M161.5 151.9L161.7 151.4L161.5 150.3L161.2 148.6L160.8 146.6L160.4 144.2L160.1 141.8L160.1 139.6L160.3 137.6L160.9 136.1L161.9 135.1L165 133.3L164.8 133.9L165 135L165.3 136.6L165.7 138.7L166.1 141L166.4 143.4L166.4 145.7L166.2 147.7L165.6 149.2L164.6 150.1Z" fill="#888888" stroke="#6c6c6c" stroke-width="1" stroke-linejoin="round"/>
<path d="M86.5 177.8L86.9 178L87.7 178.7L88.9 179.9L90.4 181.3L92.2 182.9L94.1 184.4L96.1 185.6L98 186.3L99.7 186.5L101.1 186.1L105 183.9L104.6 183.7L103.8 183L102.6 181.9L101.1 180.4L99.3 178.9L97.4 177.4L95.4 176.2L93.5 175.4L91.8 175.2L90.4 175.6Z" fill="#c5c5c5" stroke="#6c6c6c" stroke-width="1" stroke-linejoin="round"/>
<path d="M101.5 169.3L101.9 169.5L102.7 170.2L103.9 171.4L105.4 172.8L107.2 174.4L109.1 175.9L111.1 177.1L113 177.8L114.7 178L116.1 177.6L120 175.4L119.6 175.2L118.8 174.5L117.6 173.4L116.1 171.9L114.3 170.4L112.4 168.9L110.4 167.7L108.5 166.9L106.8 166.7L105.4 167.1Z" fill="#c5c5c5" stroke="#6c6c6c" stroke-width="1" stroke-linejoin="round"/>
<path d="M116.5 160.8L116.9 161L117.7 161.7L118.9 162.9L120.4 164.3L122.2 165.9L124.1 167.4L126.1 168.6L128 169.3L129.7 169.5L131.1 169.1L135 166.9L134.6 166.7L133.8 166L132.6 164.9L131.1 163.4L129.3 161.9L127.4 160.4L125.4 159.2L123.5 158.4L121.8 158.2L120.4 158.6Z" fill="#c5c5c5" stroke="#6c6c6c" stroke-width="1" stroke-linejoin="round"/>
<path d="M131.5 152.3L131.9 152.5L132.7 153.2L133.9 154.4L135.4 155.8L137.2 157.4L139.1 158.9L141.1 160.1L143 160.8L144.7 161L146.1 160.6L150 158.4L149.6 158.2L148.8 157.5L147.6 156.4L146.1 154.9L144.3 153.4L142.4 151.9L140.4 150.7L138.5 149.9L136.8 149.7L135.4 150.1Z" fill="#c5c5c5" stroke="#6c6c6c" stroke-width="1" stroke-linejoin="round"/>
<path d="M146.5 143.8L146.9 144L147.7 144.7L148.9 145.9L150.4 147.3L152.2 148.9L154.1 150.4L156.1 151.6L158 152.3L159.7 152.5L161.1 152.1L165 149.9L164.6 149.7L163.8 149L162.6 147.9L161.1 146.4L159.3 144.9L157.4 143.4L155.4 142.2L153.5 141.4L151.8 141.2L150.4 141.6Z" fill="#c5c5c5" stroke="#6c6c6c" stroke-width="1" stroke-linejoin="round"/>
<path d="M169.2 146.2C170.2 145.8 173.6 145.5 175.3 144.1C177 142.7 178 140 179.3 138C180.7 136 182.7 133 183.4 132" fill="none" stroke="#7e7e7e" stroke-width="3" stroke-linecap="round" stroke-linejoin="round"/>
<path d="M169.2 146.2C170.2 145.8 173.6 145.5 175.3 144.1C177 142.7 178 140 179.3 138C180.7 136 182.7 133 183.4 132" fill="none" stroke="#b4b4b4" stroke-width="1.6" stroke-linecap="round" stroke-linejoin="round"/>
<path d="M200 127C201.7 125.8 206.3 121.3 210 120C213.7 118.7 218.3 119.7 222 119C225.7 118.3 229 116.3 232 116C235 115.7 236.8 115.5 240 117C243.2 118.5 248.7 122 251 125C253.3 128 253.8 131.7 254 135C254.2 138.3 252.7 143.1 252.4 144.7" fill="none" stroke="#7e7e7e" stroke-width="3" stroke-linecap="round" stroke-linejoin="round"/>
<path d="M200 127C201.7 125.8 206.3 121.3 210 120C213.7 118.7 218.3 119.7 222 119C225.7 118.3 229 116.3 232 116C235 115.7 236.8 115.5 240 117C243.2 118.5 248.7 122 251 125C253.3 128 253.8 131.7 254 135C254.2 138.3 252.7 143.1 252.4 144.7" fill="none" stroke="#b4b4b4" stroke-width="1.6" stroke-linecap="round" stroke-linejoin="round"/>
<path d="M251.6 144.7C252.2 145.9 253.9 149.9 255.4 152.2C256.9 154.5 259.9 156.3 260.7 158.3C261.4 160.3 261 162.7 259.9 164.3C258.8 165.9 256.2 167.6 253.9 168.1C251.6 168.6 248.6 167.8 246.3 167.4C244 167 242.1 166.3 240.3 165.9C238.5 165.5 236.5 165.2 235.7 165.1" fill="none" stroke="#7e7e7e" stroke-width="3" stroke-linecap="round" stroke-linejoin="round"/>
<path d="M251.6 144.7C252.2 145.9 253.9 149.9 255.4 152.2C256.9 154.5 259.9 156.3 260.7 158.3C261.4 160.3 261 162.7 259.9 164.3C258.8 165.9 256.2 167.6 253.9 168.1C251.6 168.6 248.6 167.8 246.3 167.4C244 167 242.1 166.3 240.3 165.9C238.5 165.5 236.5 165.2 235.7 165.1" fill="none" stroke="#b4b4b4" stroke-width="1.6" stroke-linecap="round" stroke-linejoin="round"/>
<path d="M252.4 144.7C251.9 146.2 250.6 151 249.3 153.8C248 156.6 246.3 159.2 244.8 161.3C243.3 163.4 242.3 165.3 240.3 166.6C238.3 167.9 235 167.5 232.7 168.9C230.4 170.3 227.6 172.1 226.6 174.9C225.6 177.7 226.8 182 226.6 185.5C226.3 189 225.8 193.1 225.1 196.1C224.3 199.1 222.6 202.4 222.1 203.7" fill="none" stroke="#7e7e7e" stroke-width="3" stroke-linecap="round" stroke-linejoin="round"/>
<path d="M252.4 144.7C251.9 146.2 250.6 151 249.3 153.8C248 156.6 246.3 159.2 244.8 161.3C243.3 163.4 242.3 165.3 240.3 166.6C238.3 167.9 235 167.5 232.7 168.9C230.4 170.3 227.6 172.1 226.6 174.9C225.6 177.7 226.8 182 226.6 185.5C226.3 189 225.8 193.1 225.1 196.1C224.3 199.1 222.6 202.4 222.1 203.7" fill="none" stroke="#b4b4b4" stroke-width="1.6" stroke-linecap="round" stroke-linejoin="round"/>
<path d="M220.6 130C220.3 131.9 218.8 138.2 219.1 141.6C219.3 145 221.8 147.7 222.1 150.7C222.3 153.7 220.6 156.8 220.6 159.8C220.6 162.8 222.3 166.1 222.1 168.9C221.8 171.7 221.1 174.7 219.1 176.5C217.1 178.3 211.5 179 210 179.5" fill="none" stroke="#7e7e7e" stroke-width="3" stroke-linecap="round" stroke-linejoin="round"/>
<path d="M220.6 130C220.3 131.9 218.8 138.2 219.1 141.6C219.3 145 221.8 147.7 222.1 150.7C222.3 153.7 220.6 156.8 220.6 159.8C220.6 162.8 222.3 166.1 222.1 168.9C221.8 171.7 221.1 174.7 219.1 176.5C217.1 178.3 211.5 179 210 179.5" fill="none" stroke="#b4b4b4" stroke-width="1.6" stroke-linecap="round" stroke-linejoin="round"/>
<path d="M237.2 128C237.5 129.3 237.5 133.6 238.8 135.6C240.1 137.6 242.5 139.1 244.8 140.1C247.1 141.1 250.4 142.6 252.4 141.6C254.4 140.6 254.6 136.5 256.9 134.1C259.2 131.7 264.5 128.4 266 127.3" fill="none" stroke="#7e7e7e" stroke-width="3" stroke-linecap="round" stroke-linejoin="round"/>
<path d="M237.2 128C237.5 129.3 237.5 133.6 238.8 135.6C240.1 137.6 242.5 139.1 244.8 140.1C247.1 141.1 250.4 142.6 252.4 141.6C254.4 140.6 254.6 136.5 256.9 134.1C259.2 131.7 264.5 128.4 266 127.3" fill="none" stroke="#b4b4b4" stroke-width="1.6" stroke-linecap="round" stroke-linejoin="round"/>
<path d="M210 162.8C211.3 162.1 215.3 159.9 217.6 158.3C219.9 156.7 221.6 153.9 223.6 153.4C225.6 152.9 228.2 155.5 229.7 155.3C231.2 155.1 232.2 152.7 232.7 152.2" fill="none" stroke="#7e7e7e" stroke-width="3" stroke-linecap="round" stroke-linejoin="round"/>
<path d="M210 162.8C211.3 162.1 215.3 159.9 217.6 158.3C219.9 156.7 221.6 153.9 223.6 153.4C225.6 152.9 228.2 155.5 229.7 155.3C231.2 155.1 232.2 152.7 232.7 152.2" fill="none" stroke="#b4b4b4" stroke-width="1.6" stroke-linecap="round" stroke-linejoin="round"/>
<path d="M200 127C200.3 129 201 135.2 202 139C203 142.8 205.8 146.5 206 150C206.2 153.5 203 156.7 203 160C203 163.3 205.5 168.3 206 170" fill="none" stroke="#7e7e7e" stroke-width="3" stroke-linecap="round" stroke-linejoin="round"/>
<path d="M200 127C200.3 129 201 135.2 202 139C203 142.8 205.8 146.5 206 150C206.2 153.5 203 156.7 203 160C203 163.3 205.5 168.3 206 170" fill="none" stroke="#b4b4b4" stroke-width="1.6" stroke-linecap="round" stroke-linejoin="round"/>
<path d="M213.5 123C216 123.4 225.7 123.5 228.5 125.5C231.3 127.5 230.2 133.4 230.5 135" fill="none" stroke="#7e7e7e" stroke-width="2.5" stroke-linecap="round" stroke-linejoin="round"/>
<path d="M213.5 123C216 123.4 225.7 123.5 228.5 125.5C231.3 127.5 230.2 133.4 230.5 135" fill="none" stroke="#b4b4b4" stroke-width="1.1" stroke-linecap="round" stroke-linejoin="round"/>
<path d="M236.6 118C236.1 119.5 233.6 124.5 233.6 127C233.6 129.5 236.7 130.8 236.6 133C236.5 135.2 233.6 139.1 233 140.3" fill="none" stroke="#7e7e7e" stroke-width="2.5" stroke-linecap="round" stroke-linejoin="round"/>
<path d="M236.6 118C236.1 119.5 233.6 124.5 233.6 127C233.6 129.5 236.7 130.8 236.6 133C236.5 135.2 233.6 139.1 233 140.3" fill="none" stroke="#b4b4b4" stroke-width="1.1" stroke-linecap="round" stroke-linejoin="round"/>
<path d="M182 182C183.3 183.3 186 188.3 190 190C194 191.7 201.6 190.7 206 192C210.4 193.3 214.7 197 216.4 198" fill="none" stroke="#7e7e7e" stroke-width="3" stroke-linecap="round" stroke-linejoin="round"/>
<path d="M182 182C183.3 183.3 186 188.3 190 190C194 191.7 201.6 190.7 206 192C210.4 193.3 214.7 197 216.4 198" fill="none" stroke="#b4b4b4" stroke-width="1.6" stroke-linecap="round" stroke-linejoin="round"/>
<path d="M180.6 145.7L181.1 145.6L181.9 145L183.1 144L184.4 142.6L186 141.2L187.7 139.8L189.4 138.7L191 137.9L192.5 137.6L193.7 137.9L196.4 139.3L195.9 139.4L195.1 140L193.9 141L192.6 142.4L191 143.8L189.3 145.2L187.6 146.3L186 147.1L184.5 147.4L183.3 147.1Z" fill="#888888" stroke="#6c6c6c" stroke-width="1" stroke-linejoin="round"/>
<path d="M179.3 130.3L179.4 130.8L179.3 131.8L179 133.2L178.7 135.1L178.4 137.2L178.2 139.4L178.3 141.5L178.6 143.3L179.3 144.7L180.3 145.5L183.7 147.3L183.6 146.9L183.7 145.9L184 144.4L184.3 142.6L184.6 140.5L184.8 138.3L184.7 136.2L184.4 134.4L183.7 133L182.7 132.1Z" fill="#c5c5c5" stroke="#6c6c6c" stroke-width="1" stroke-linejoin="round"/>
<path d="M193.3 137.7L193.4 138.1L193.3 139.1L193 140.6L192.7 142.4L192.4 144.5L192.2 146.7L192.3 148.8L192.6 150.6L193.3 152L194.3 152.9L197.7 154.7L197.6 154.2L197.7 153.2L198 151.8L198.3 149.9L198.6 147.8L198.8 145.6L198.7 143.5L198.4 141.7L197.7 140.3L196.7 139.5Z" fill="#c5c5c5" stroke="#6c6c6c" stroke-width="1" stroke-linejoin="round"/>
<path d="M176 137C176.7 135.5 178.3 130.5 180 128C181.7 125.5 184.8 124.3 186 122C187.2 119.7 186.8 115.3 187 114" fill="none" stroke="#7e7e7e" stroke-width="3" stroke-linecap="round" stroke-linejoin="round"/>
<path d="M176 137C176.7 135.5 178.3 130.5 180 128C181.7 125.5 184.8 124.3 186 122C187.2 119.7 186.8 115.3 187 114" fill="none" stroke="#b4b4b4" stroke-width="1.6" stroke-linecap="round" stroke-linejoin="round"/>
<path d="M219.1 207.5C220.1 208.9 225.9 211.1 229.7 212C233.5 212.9 237.8 213.3 241.8 212.8C245.8 212.3 250.4 210.8 253.9 209C257.4 207.2 260.6 204.6 263 202.2C265.4 199.8 267.8 196.8 268.3 194.6C268.8 192.4 267.4 190.3 266 189.3C264.6 188.3 259.6 190 259.9 188.6C260.1 187.2 265 183.3 267.5 181C270 178.7 272.1 175.7 275.1 174.9C278.1 174.2 282.4 176.8 285.7 176.5C289 176.2 291.9 174.7 294.7 173.4C297.5 172.1 300.3 169.4 302.3 168.9C304.3 168.4 305.6 171.2 306.9 170.4C308.2 169.6 309.9 165.9 309.9 164.3C309.9 162.7 307.9 161.3 306.9 160.6C305.9 159.8 304.2 161.2 303.8 159.8C303.4 158.4 304.1 154.7 304.6 152.2C305.1 149.7 307 146.7 306.9 144.7C306.8 142.7 305.3 141 303.8 140.1C302.3 139.2 299.7 138.6 297.8 139.4C295.9 140.2 293.5 142.6 292.5 144.7C291.5 146.8 291.8 149.8 291.7 152.2C291.6 154.6 292.7 157.5 291.7 159C290.7 160.5 288 160.3 285.7 161.3C283.4 162.3 280.6 164 278.1 165.1C275.6 166.2 273.3 167 270.5 168.1C267.7 169.2 264.5 170.5 261.5 171.9C258.5 173.3 255.4 175 252.4 176.5C249.4 178 246.1 179 243.3 181C240.5 183 238 186.1 235.7 188.6C233.4 191.1 231.7 193.6 229.7 196.1C227.7 198.6 225.4 201.8 223.6 203.7C221.8 205.6 218.1 206.1 219.1 207.5Z" fill="none" stroke="#7e7e7e" stroke-width="3" stroke-linecap="round" stroke-linejoin="round"/>
<path d="M219.1 207.5C220.1 208.9 225.9 211.1 229.7 212C233.5 212.9 237.8 213.3 241.8 212.8C245.8 212.3 250.4 210.8 253.9 209C257.4 207.2 260.6 204.6 263 202.2C265.4 199.8 267.8 196.8 268.3 194.6C268.8 192.4 267.4 190.3 266 189.3C264.6 188.3 259.6 190 259.9 188.6C260.1 187.2 265 183.3 267.5 181C270 178.7 272.1 175.7 275.1 174.9C278.1 174.2 282.4 176.8 285.7 176.5C289 176.2 291.9 174.7 294.7 173.4C297.5 172.1 300.3 169.4 302.3 168.9C304.3 168.4 305.6 171.2 306.9 170.4C308.2 169.6 309.9 165.9 309.9 164.3C309.9 162.7 307.9 161.3 306.9 160.6C305.9 159.8 304.2 161.2 303.8 159.8C303.4 158.4 304.1 154.7 304.6 152.2C305.1 149.7 307 146.7 306.9 144.7C306.8 142.7 305.3 141 303.8 140.1C302.3 139.2 299.7 138.6 297.8 139.4C295.9 140.2 293.5 142.6 292.5 144.7C291.5 146.8 291.8 149.8 291.7 152.2C291.6 154.6 292.7 157.5 291.7 159C290.7 160.5 288 160.3 285.7 161.3C283.4 162.3 280.6 164 278.1 165.1C275.6 166.2 273.3 167 270.5 168.1C267.7 169.2 264.5 170.5 261.5 171.9C258.5 173.3 255.4 175 252.4 176.5C249.4 178 246.1 179 243.3 181C240.5 183 238 186.1 235.7 188.6C233.4 191.1 231.7 193.6 229.7 196.1C227.7 198.6 225.4 201.8 223.6 203.7C221.8 205.6 218.1 206.1 219.1 207.5Z" fill="none" stroke="#b4b4b4" stroke-width="1.6" stroke-linecap="round" stroke-linejoin="round"/>
<path d="M303 139.5C303.3 138.8 303.8 135.2 305 135C306.2 134.8 310.2 136.7 310.5 138C310.8 139.3 307.6 142.2 307 143" fill="none" stroke="#7e7e7e" stroke-width="2" stroke-linecap="round" stroke-linejoin="round"/>
<path d="M303 139.5C303.3 138.8 303.8 135.2 305 135C306.2 134.8 310.2 136.7 310.5 138C310.8 139.3 307.6 142.2 307 143" fill="none" stroke="#b4b4b4" stroke-width="0.6" stroke-linecap="round" stroke-linejoin="round"/>
<path d="M197.2 115.7C199 115.5 204 115 207.8 114.2C211.6 113.4 216.1 111.4 219.9 111.1C223.7 110.8 227 111.8 230.5 112.6C234 113.4 238.1 114.7 241.1 115.7C244.1 116.7 246.4 117.2 248.7 118.7C251 120.2 253.7 123.7 254.7 124.7" fill="none" stroke="#7e7e7e" stroke-width="3" stroke-linecap="round" stroke-linejoin="round"/>
<path d="M197.2 115.7C199 115.5 204 115 207.8 114.2C211.6 113.4 216.1 111.4 219.9 111.1C223.7 110.8 227 111.8 230.5 112.6C234 113.4 238.1 114.7 241.1 115.7C244.1 116.7 246.4 117.2 248.7 118.7C251 120.2 253.7 123.7 254.7 124.7" fill="none" stroke="#b4b4b4" stroke-width="1.6" stroke-linecap="round" stroke-linejoin="round"/>
<path d="M207.8 94.5C208.6 94.8 210.6 95.5 212.4 96C214.2 96.5 216.9 98.5 218.4 97.5C219.9 96.5 220.9 92.3 221.5 90C222.1 87.7 222.1 84.9 222.2 83.9" fill="none" stroke="#7e7e7e" stroke-width="3" stroke-linecap="round" stroke-linejoin="round"/>
<path d="M207.8 94.5C208.6 94.8 210.6 95.5 212.4 96C214.2 96.5 216.9 98.5 218.4 97.5C219.9 96.5 220.9 92.3 221.5 90C222.1 87.7 222.1 84.9 222.2 83.9" fill="none" stroke="#b4b4b4" stroke-width="1.6" stroke-linecap="round" stroke-linejoin="round"/>
<path d="M200.3 103.6C201.1 103.8 203.6 105.5 204.8 105C206.1 104.5 207.2 102.1 207.8 100.5C208.4 98.9 208.5 96.1 208.6 95.2" fill="none" stroke="#7e7e7e" stroke-width="3" stroke-linecap="round" stroke-linejoin="round"/>
<path d="M200.3 103.6C201.1 103.8 203.6 105.5 204.8 105C206.1 104.5 207.2 102.1 207.8 100.5C208.4 98.9 208.5 96.1 208.6 95.2" fill="none" stroke="#b4b4b4" stroke-width="1.6" stroke-linecap="round" stroke-linejoin="round"/>
<path d="M180.3 88.1L180.7 88.4L181.9 88.6L183.7 88.8L186.1 89.2L188.6 89.6L191.2 90.2L193.6 90.9L195.5 91.8L196.7 92.8L197.2 94L197.5 97.5L197.1 97.2L195.9 97L194.1 96.8L191.7 96.4L189.2 96L186.6 95.4L184.2 94.7L182.3 93.8L181.1 92.8L180.6 91.6Z" fill="#888888" stroke="#6c6c6c" stroke-width="1" stroke-linejoin="round"/>
<path d="M181.5 102.5L181.9 102.8L183.1 103L184.9 103.2L187.3 103.6L189.8 104L192.4 104.6L194.8 105.3L196.7 106.2L197.9 107.2L198.4 108.4L198.7 111.9L198.3 111.6L197.1 111.4L195.3 111.2L192.9 110.8L190.4 110.4L187.8 109.8L185.4 109.1L183.5 108.2L182.3 107.2L181.8 106Z" fill="#888888" stroke="#6c6c6c" stroke-width="1" stroke-linejoin="round"/>
<path d="M196 79.1L195.6 79.3L194.5 79.6L192.7 80.1L190.4 80.8L188 81.6L185.5 82.6L183.3 83.8L181.6 85.1L180.5 86.4L180.2 87.7L180.6 92.1L181 91.9L182.1 91.6L183.9 91.1L186.2 90.4L188.6 89.6L191.1 88.6L193.3 87.4L195 86.1L196.1 84.8L196.4 83.5Z" fill="#c5c5c5" stroke="#6c6c6c" stroke-width="1" stroke-linejoin="round"/>
<path d="M197.2 93.5L196.8 93.7L195.7 94L193.9 94.5L191.6 95.2L189.2 96L186.7 97L184.5 98.2L182.8 99.5L181.7 100.8L181.4 102.1L181.8 106.5L182.2 106.3L183.3 106L185.1 105.5L187.4 104.8L189.8 104L192.3 103L194.5 101.8L196.2 100.5L197.3 99.2L197.6 97.9Z" fill="#c5c5c5" stroke="#6c6c6c" stroke-width="1" stroke-linejoin="round"/>
<path d="M198.4 107.9L198 108.1L196.9 108.4L195.1 108.9L192.8 109.6L190.4 110.4L187.9 111.4L185.7 112.6L184 113.9L182.9 115.2L182.6 116.5L183 120.9L183.4 120.7L184.5 120.4L186.3 119.9L188.6 119.2L191 118.4L193.5 117.4L195.7 116.2L197.4 114.9L198.5 113.6L198.8 112.3Z" fill="#c5c5c5" stroke="#6c6c6c" stroke-width="1" stroke-linejoin="round"/>
<path d="M192.4 78.1L192.8 77.9L193.5 77L194.6 75.6L195.9 73.9L197.3 72L199 70.1L200.6 68.6L202.2 67.4L203.6 66.8L204.8 66.9L207.9 68.2L207.4 68.4L206.7 69.3L205.7 70.6L204.4 72.4L202.9 74.3L201.3 76.1L199.7 77.7L198.1 78.8L196.6 79.4L195.4 79.3Z" fill="#888888" stroke="#6c6c6c" stroke-width="1" stroke-linejoin="round"/>
<path d="M205.9 83.6L206.3 83.4L207 82.5L208.1 81.1L209.4 79.4L210.8 77.5L212.5 75.6L214.1 74.1L215.7 72.9L217.1 72.3L218.3 72.4L221.4 73.7L220.9 73.9L220.2 74.8L219.2 76.1L217.9 77.9L216.4 79.8L214.8 81.6L213.2 83.2L211.6 84.3L210.1 84.9L208.9 84.8Z" fill="#888888" stroke="#6c6c6c" stroke-width="1" stroke-linejoin="round"/>
<path d="M190.9 61.3L191 61.7L190.8 62.8L190.5 64.4L190.2 66.6L189.9 69L189.8 71.4L189.9 73.7L190.3 75.7L191 77.1L192 77.9L195.8 79.5L195.8 79.1L195.9 78L196.2 76.3L196.6 74.2L196.8 71.8L197 69.3L196.9 67L196.5 65.1L195.8 63.6L194.7 62.8Z" fill="#c5c5c5" stroke="#6c6c6c" stroke-width="1" stroke-linejoin="round"/>
<path d="M204.4 66.8L204.5 67.2L204.3 68.3L204 69.9L203.7 72.1L203.4 74.5L203.3 76.9L203.4 79.2L203.8 81.2L204.5 82.6L205.5 83.4L209.3 85L209.3 84.6L209.4 83.5L209.7 81.8L210.1 79.7L210.3 77.3L210.5 74.8L210.4 72.5L210 70.6L209.3 69.1L208.2 68.3Z" fill="#c5c5c5" stroke="#6c6c6c" stroke-width="1" stroke-linejoin="round"/>
<path d="M223 55C223.2 56.3 225.3 60.2 224.5 62.7C223.7 65.2 219.2 67.5 218.4 70.3C217.7 73.1 219.4 77 220 79.3C220.6 81.6 221.8 83.1 222.2 83.9" fill="none" stroke="#7e7e7e" stroke-width="3.1" stroke-linecap="round" stroke-linejoin="round"/>
<path d="M223 55C223.2 56.3 225.3 60.2 224.5 62.7C223.7 65.2 219.2 67.5 218.4 70.3C217.7 73.1 219.4 77 220 79.3C220.6 81.6 221.8 83.1 222.2 83.9" fill="none" stroke="#b4b4b4" stroke-width="1.7" stroke-linecap="round" stroke-linejoin="round"/>
<path d="M223 53.6C223.8 54.1 226.2 54.8 227.5 56.6C228.8 58.4 230.4 61.7 230.5 64.2C230.6 66.7 228.9 69.7 228.3 71.8C227.7 73.9 227 76.1 226.7 77" fill="none" stroke="#7e7e7e" stroke-width="3.5" stroke-linecap="round" stroke-linejoin="round"/>
<path d="M223 53.6C223.8 54.1 226.2 54.8 227.5 56.6C228.8 58.4 230.4 61.7 230.5 64.2C230.6 66.7 228.9 69.7 228.3 71.8C227.7 73.9 227 76.1 226.7 77" fill="none" stroke="#b4b4b4" stroke-width="2.1" stroke-linecap="round" stroke-linejoin="round"/>
<rect x="223.3" y="74" width="7" height="6.5" fill="#c5c5c5" stroke="#6c6c6c" stroke-width="0.9" transform="rotate(-15 226.8 77)"/>
<path d="M227.5 88L228 88L229.1 87.4L230.7 86.5L232.7 85.4L235 84.2L237.4 83.1L239.7 82.3L241.8 81.9L243.4 82L244.6 82.6L247.2 85.3L246.6 85.3L245.6 85.8L244 86.7L242 87.8L239.7 89L237.3 90.1L235 91L232.9 91.4L231.3 91.3L230.1 90.6Z" fill="#888888" stroke="#6c6c6c" stroke-width="1" stroke-linejoin="round"/>
<path d="M238.7 99.5L239.2 99.5L240.2 98.9L241.8 98L243.9 96.9L246.1 95.7L248.5 94.6L250.8 93.8L252.9 93.4L254.6 93.5L255.7 94.1L258.3 96.8L257.8 96.8L256.7 97.3L255.1 98.2L253.1 99.3L250.8 100.5L248.4 101.6L246.1 102.5L244.1 102.9L242.4 102.8L241.2 102.1Z" fill="#888888" stroke="#6c6c6c" stroke-width="1" stroke-linejoin="round"/>
<path d="M249.8 111L250.3 111L251.4 110.4L253 109.5L255 108.4L257.3 107.2L259.6 106.1L262 105.3L264 104.9L265.7 105L266.8 105.6L269.4 108.3L268.9 108.3L267.8 108.8L266.2 109.7L264.2 110.8L261.9 112L259.5 113.1L257.2 114L255.2 114.4L253.5 114.3L252.3 113.6Z" fill="#888888" stroke="#6c6c6c" stroke-width="1" stroke-linejoin="round"/>
<path d="M260.9 122.5L261.4 122.5L262.5 121.9L264.1 121L266.1 119.9L268.4 118.7L270.8 117.6L273.1 116.8L275.1 116.4L276.8 116.5L278 117.1L280.5 119.8L280 119.8L278.9 120.3L277.3 121.2L275.3 122.3L273.1 123.5L270.7 124.6L268.4 125.5L266.3 125.9L264.6 125.8L263.5 125.1Z" fill="#888888" stroke="#6c6c6c" stroke-width="1" stroke-linejoin="round"/>
<path d="M233.1 70.8L233 71.2L232.4 72.2L231.4 73.7L230.1 75.6L228.9 77.9L227.7 80.2L226.8 82.5L226.4 84.6L226.5 86.4L227.2 87.7L230.4 91L230.6 90.5L231.2 89.6L232.2 88.1L233.4 86.1L234.7 83.9L235.9 81.5L236.7 79.2L237.1 77.1L237 75.4L236.4 74.1Z" fill="#c5c5c5" stroke="#6c6c6c" stroke-width="1" stroke-linejoin="round"/>
<path d="M244.3 82.3L244.1 82.7L243.5 83.7L242.5 85.2L241.3 87.1L240 89.4L238.8 91.7L238 94L237.5 96.1L237.7 97.9L238.3 99.2L241.5 102.5L241.7 102L242.3 101.1L243.3 99.6L244.5 97.6L245.8 95.4L247 93L247.8 90.7L248.3 88.6L248.2 86.9L247.5 85.6Z" fill="#c5c5c5" stroke="#6c6c6c" stroke-width="1" stroke-linejoin="round"/>
<path d="M255.4 93.8L255.3 94.2L254.6 95.2L253.6 96.7L252.4 98.6L251.1 100.9L250 103.2L249.1 105.5L248.7 107.6L248.8 109.4L249.5 110.7L252.7 114L252.8 113.5L253.4 112.6L254.4 111.1L255.7 109.1L257 106.9L258.1 104.5L259 102.2L259.4 100.1L259.3 98.4L258.6 97.1Z" fill="#c5c5c5" stroke="#6c6c6c" stroke-width="1" stroke-linejoin="round"/>
<path d="M266.5 105.3L266.4 105.7L265.8 106.7L264.8 108.2L263.5 110.1L262.2 112.4L261.1 114.7L260.2 117L259.8 119.1L259.9 120.9L260.6 122.2L263.8 125.5L263.9 125L264.6 124.1L265.6 122.6L266.8 120.6L268.1 118.4L269.2 116L270.1 113.7L270.5 111.6L270.4 109.9L269.7 108.6Z" fill="#c5c5c5" stroke="#6c6c6c" stroke-width="1" stroke-linejoin="round"/>
<path d="M217.6 43C217 43.9 215.4 47.7 214.2 48.3C213 48.9 212.3 47.5 210.4 46.6C208.5 45.7 205.2 43.2 202.9 42.8C200.6 42.4 198.2 42.8 196.6 44.3C195 45.8 193.9 49.4 193.6 51.7C193.3 54 194 56.3 194.7 58C195.4 59.7 196.7 60.2 197.8 61.7C199 63.2 201.7 65.2 201.6 66.8C201.5 68.3 197.8 70.3 197 71" fill="none" stroke="#7e7e7e" stroke-width="2.8" stroke-linecap="round" stroke-linejoin="round"/>
<path d="M217.6 43C217 43.9 215.4 47.7 214.2 48.3C213 48.9 212.3 47.5 210.4 46.6C208.5 45.7 205.2 43.2 202.9 42.8C200.6 42.4 198.2 42.8 196.6 44.3C195 45.8 193.9 49.4 193.6 51.7C193.3 54 194 56.3 194.7 58C195.4 59.7 196.7 60.2 197.8 61.7C199 63.2 201.7 65.2 201.6 66.8C201.5 68.3 197.8 70.3 197 71" fill="none" stroke="#b4b4b4" stroke-width="1.4" stroke-linecap="round" stroke-linejoin="round"/>
<path d="M195.6 43.5C195.6 42.8 195.2 40.5 195.6 39C196 37.5 197 35.8 198 34.5C199 33.2 200.3 32.3 201.6 31.5C202.9 30.7 204.5 30.1 206 29.6C207.5 29.1 208.8 28.6 210.4 28.5C212 28.4 214.1 28.4 215.3 29.2C216.5 30 217.3 32 217.8 33.5C218.3 35 218.3 36.3 218.3 38C218.3 39.7 218.1 42.7 218 43.6" fill="none" stroke="#a83a8c" stroke-width="2.3" stroke-linecap="round"/>
<path d="M215.8 30.4L219.4 33.2L221.8 25.8L225.6 25.2L227.6 22.6" fill="none" stroke="#a83a8c" stroke-width="1.9" stroke-linejoin="round"/>
<path d="M227.4 24L228.2 21.3" stroke="#4a55a8" stroke-width="2"/>
<path d="M209.4 29.5L209.4 34.6" stroke="#c0303a" stroke-width="1.6"/>
<rect x="37.4" y="10.2" width="126.5" height="78.1" fill="#fff" stroke="#4a58a8" stroke-width="1.5"/>
<clipPath id="ic"><rect x="38.1" y="10.9" width="125.1" height="76.7"/></clipPath><g clip-path="url(#ic)">
<path d="M73.8 90C73.7 88.3 73.5 83 73 80C72.5 77 71.4 74.2 70.7 71.9C70 69.6 69.1 67.2 68.8 66.2" fill="none" stroke="#9a9a9a" stroke-width="4.7" stroke-linecap="round" stroke-linejoin="round"/>
<path d="M73.8 90C73.7 88.3 73.5 83 73 80C72.5 77 71.4 74.2 70.7 71.9C70 69.6 69.1 67.2 68.8 66.2" fill="none" stroke="#d4d4d4" stroke-width="3.3" stroke-linecap="round" stroke-linejoin="round"/>
<path d="M57 92C58.5 89.9 63.2 82.4 65.9 79.4C68.7 76.4 71.2 74.9 73.5 73.8C75.8 72.7 77.2 72.8 80 72.6C82.8 72.4 87.2 72 90.5 72.8C93.8 73.6 96.8 75.9 100 77.5C103.2 79.1 106.6 82 109.4 82.3C112.2 82.6 115.2 81.1 117 79.4C118.8 77.7 119.8 74.1 120.4 71.9C121 69.7 120.7 67 120.8 66" fill="none" stroke="#9a9a9a" stroke-width="4.7" stroke-linecap="round" stroke-linejoin="round"/>
<path d="M57 92C58.5 89.9 63.2 82.4 65.9 79.4C68.7 76.4 71.2 74.9 73.5 73.8C75.8 72.7 77.2 72.8 80 72.6C82.8 72.4 87.2 72 90.5 72.8C93.8 73.6 96.8 75.9 100 77.5C103.2 79.1 106.6 82 109.4 82.3C112.2 82.6 115.2 81.1 117 79.4C118.8 77.7 119.8 74.1 120.4 71.9C121 69.7 120.7 67 120.8 66" fill="none" stroke="#d4d4d4" stroke-width="3.3" stroke-linecap="round" stroke-linejoin="round"/>
<path d="M68.8 67C68.5 65.3 66.4 60.3 66.9 56.7C67.4 53.1 68.9 48.5 71.6 45.4C74.3 42.2 78.9 39.7 83 37.8C87.1 35.9 91.8 35.1 96.2 34C100.6 32.9 105.9 32 109.4 31.2C112.9 30.4 115.7 29.6 117 29.3" fill="none" stroke="#b5479d" stroke-width="3.9" stroke-linecap="round"/>
<path d="M103 33.3C104.7 33.9 110.5 35.2 113.2 36.9C115.9 38.6 117.5 41.1 118.9 43.5C120.3 45.9 121.2 48.6 121.7 51.1C122.2 53.6 121.9 55.8 121.7 58.6C121.5 61.4 121 66.5 120.8 68.1" fill="none" stroke="#b5479d" stroke-width="3.9" stroke-linecap="butt"/>
<path d="M121.5 48.3L132.1 43.1L134.4 24.6L143.5 23.6L146.3 18.5" fill="none" stroke="#b5479d" stroke-width="3" stroke-linejoin="round"/>
<path d="M146.2 21.5L146.4 17.5" stroke="#3f57a6" stroke-width="3.2" stroke-linecap="round"/>
<path d="M101.5 36L101.5 43" stroke="#b5479d" stroke-width="2.8"/>
<path d="M101.5 42L101.5 47" stroke="#e0262a" stroke-width="2.8" stroke-linecap="round"/>
</g>
<text x="41.8" y="39.7" font-size="12.3" fill="#c85aa8" font-weight="bold" stroke="#c85aa8" stroke-width="0.22">G201</text>
<text x="91" y="24.6" font-size="12.3" fill="#c85aa8" font-weight="bold" stroke="#c85aa8" stroke-width="0.22">T200</text>
<text x="128.8" y="63.3" font-size="12.3" fill="#c85aa8" font-weight="bold" stroke="#c85aa8" stroke-width="0.22">K199</text>
<rect x="184" y="18.6" width="52.2" height="31.8" fill="none" stroke="#8e94aa" stroke-width="0.9" stroke-dasharray="2 1.6"/>
<line x1="163.9" y1="10.2" x2="184" y2="18.6" stroke="#808080" stroke-width="0.8" stroke-dasharray="2 1.6"/>
<line x1="163.9" y1="88.3" x2="184" y2="50.4" stroke="#808080" stroke-width="0.8" stroke-dasharray="2 1.6"/>
<text x="253.3" y="79.2" font-size="12" fill="#111" stroke="#111" stroke-width="0.22">A-domain</text>
<text x="64.4" y="151.6" font-size="12" fill="#111" stroke="#111" stroke-width="0.22">P-domain</text>
<text x="278.4" y="197.2" font-size="12" fill="#111" stroke="#111" stroke-width="0.22">E-loop</text>
<defs><g id="cm">
<path d="M204.4 12.4C207 11.6 211.9 16.1 216 16.4C220.1 16.7 226.1 12.8 228.9 14.3C231.8 15.8 231.2 22.9 233.1 25.4C235 27.9 237.1 26.6 240.3 29.3C243.5 32.1 249.8 38 252.3 41.7C254.8 45.4 253.2 49 255.4 51.8C257.5 54.6 261.7 54.5 265.4 58.5C269.1 62.5 273.5 71.4 277.3 75.7C281.2 80 285.8 81.9 288.2 84.4C290.6 87 290.7 86.8 291.7 91C292.8 95.2 294.5 105.2 294.6 109.6C294.6 114 289.9 114.7 292 117.3C294.1 119.9 303.2 122.5 307 125.1C310.8 127.6 312 130.6 314.9 132.5C317.7 134.3 322.8 133.7 324.1 136.2C325.5 138.7 322.7 143.4 322.9 147.7C323.2 151.9 324 158.6 325.4 161.7C326.9 164.7 333.9 163.3 331.8 166C329.7 168.7 316.7 173.7 313 177.8C309.4 182 312.9 187 310 190.7C307 194.4 299.4 197.1 295.3 200C291.2 202.9 288.8 205.3 285.4 208.2C282.1 211.1 277.9 214.2 275.2 217.5C272.4 220.8 272.1 226 268.8 228C265.6 230.1 260 229 255.8 229.6C251.6 230.2 248.2 232.4 243.6 231.6C238.9 230.7 232.6 224.1 227.7 224.6C222.8 225.2 219 233.5 214.3 235C209.6 236.4 204.7 233.8 199.4 233.4C194 232.9 187.5 231.3 182.1 232.1C176.8 232.9 173.4 237.5 167.3 238.1C161.3 238.6 151.1 233.8 145.8 235.3C140.6 236.8 140 243.9 135.5 246.9C131.1 249.8 122.8 251.7 119.2 253C115.6 254.3 116.3 251.9 113.8 254.5C111.2 257.1 106.1 268.3 103.9 268.7C101.8 269.1 103.4 259.8 101.1 257.1C98.7 254.5 93 253.7 89.8 252.8C86.7 251.8 83.6 251.9 82.2 251.3C80.7 250.8 82.4 251.1 81.1 249.5C79.9 247.8 76.6 245.6 74.7 241.3C72.9 237 72.1 227.3 70.1 223.8C68.1 220.2 66.5 220.5 63 220C59.5 219.4 52.3 221.3 49 220.4C45.7 219.5 45.9 216.4 43.1 214.6C40.3 212.8 34.6 212.3 32.4 209.7C30.3 207 30.4 203.4 30.1 198.6C29.9 193.8 30.2 185 31 180.8C31.8 176.6 32.6 176.1 34.9 173.5C37.3 171 42.2 168.3 45.1 165.6C48 162.9 48.4 158.7 52.6 157.2C56.8 155.7 66 156.3 70.4 156.7C74.9 157.1 75.8 159.7 79.3 159.5C82.8 159.4 86.1 157.7 91.4 156C96.6 154.3 106.3 152.9 110.8 149.5C115.3 146.2 115.4 138.6 118.5 135.8C121.5 133 126.1 133.8 129.2 132.8C132.2 131.8 132.4 131.8 136.5 129.8C140.7 127.8 149.2 122.3 154 120.9C158.8 119.6 162.8 123.3 165.3 121.7C167.8 120 167.9 113.9 169.1 111.2C170.4 108.5 172.7 109.3 172.7 105.7C172.8 102.1 168.6 92.5 169.2 89.6C169.8 86.8 175.8 91.3 176.4 88.6C177 86 172.8 78 172.8 73.6C172.9 69.2 176.2 65.8 176.9 62.2C177.7 58.6 176.8 55 177.3 52.1C177.8 49.3 179.2 48.2 180 45C180.8 41.7 179.6 36.6 182 32.8C184.4 28.9 191.4 23.8 194.4 21.9C197.4 20.1 198.4 23.3 200 21.7C201.7 20.1 201.7 13.3 204.4 12.4Z" fill="none" stroke="#a8a8a8" stroke-width="1.8"/>
<path d="M92.5 204.7C92.2 206.4 89.8 211.7 90.5 214.7C91.2 217.7 96.9 220.1 96.6 222.8C96.3 225.5 90.2 227.9 88.5 230.9C86.8 233.9 85.2 238.3 86.5 241C87.8 243.7 94.2 245 96.6 247C98.9 249 99.9 252.1 100.6 253.1" fill="none" stroke="#6e6e6e" stroke-width="5.4" stroke-linecap="round" stroke-linejoin="round"/>
<path d="M92.5 204.7C92.2 206.4 89.8 211.7 90.5 214.7C91.2 217.7 96.9 220.1 96.6 222.8C96.3 225.5 90.2 227.9 88.5 230.9C86.8 233.9 85.2 238.3 86.5 241C87.8 243.7 94.2 245 96.6 247C98.9 249 99.9 252.1 100.6 253.1" fill="none" stroke="#9c9c9c" stroke-width="3" stroke-linecap="round" stroke-linejoin="round"/>
<path d="M100.6 224.8C100.3 226.5 97.9 231.9 98.6 234.9C99.3 237.9 101.7 241.3 104.7 243C107.7 244.7 113.1 246 116.8 245C120.5 244 125.5 240.3 126.8 236.9C128.1 233.5 124.4 228.5 124.8 224.8C125.2 221.1 128.2 216.4 128.9 214.7" fill="none" stroke="#6e6e6e" stroke-width="5.4" stroke-linecap="round" stroke-linejoin="round"/>
<path d="M100.6 224.8C100.3 226.5 97.9 231.9 98.6 234.9C99.3 237.9 101.7 241.3 104.7 243C107.7 244.7 113.1 246 116.8 245C120.5 244 125.5 240.3 126.8 236.9C128.1 233.5 124.4 228.5 124.8 224.8C125.2 221.1 128.2 216.4 128.9 214.7" fill="none" stroke="#9c9c9c" stroke-width="3" stroke-linecap="round" stroke-linejoin="round"/>
<path d="M171.2 200.7C171.9 202.7 173.3 209.7 175.3 212.7C177.3 215.7 180.4 218.1 183.4 218.8C186.4 219.5 190.1 218.3 193.4 216.8C196.7 215.3 199.9 211.6 203 210C206.1 208.4 208.8 207.7 212 207C215.2 206.3 220.8 206.1 222.5 205.9" fill="none" stroke="#6e6e6e" stroke-width="5.4" stroke-linecap="round" stroke-linejoin="round"/>
<path d="M171.2 200.7C171.9 202.7 173.3 209.7 175.3 212.7C177.3 215.7 180.4 218.1 183.4 218.8C186.4 219.5 190.1 218.3 193.4 216.8C196.7 215.3 199.9 211.6 203 210C206.1 208.4 208.8 207.7 212 207C215.2 206.3 220.8 206.1 222.5 205.9" fill="none" stroke="#9c9c9c" stroke-width="3" stroke-linecap="round" stroke-linejoin="round"/>
<path d="M174 206C174.3 208 173.7 215.7 176 218C178.3 220.3 184 220.7 188 220C192 219.3 196.3 215 200 214C203.7 213 207.3 215 210 214C212.7 213 215.3 208.9 216.4 207.9" fill="none" stroke="#6e6e6e" stroke-width="5.4" stroke-linecap="round" stroke-linejoin="round"/>
<path d="M174 206C174.3 208 173.7 215.7 176 218C178.3 220.3 184 220.7 188 220C192 219.3 196.3 215 200 214C203.7 213 207.3 215 210 214C212.7 213 215.3 208.9 216.4 207.9" fill="none" stroke="#9c9c9c" stroke-width="3" stroke-linecap="round" stroke-linejoin="round"/>
<path d="M52.2 190.5C50.9 189.8 45.8 188.5 44.1 186.5C42.4 184.5 41.1 181.1 42.1 178.4C43.1 175.7 46.8 172.1 50.2 170.4C53.6 168.7 58.6 169.3 62.3 168.3C66 167.3 69.7 164 72.4 164.3C75.1 164.7 76.7 168.9 78.4 170.4C80.1 171.9 80.5 173.1 82.5 173.4C84.5 173.7 87.8 172.2 90.5 172.4C93.2 172.6 97.2 174.1 98.6 174.4" fill="none" stroke="#6e6e6e" stroke-width="5.4" stroke-linecap="round" stroke-linejoin="round"/>
<path d="M52.2 190.5C50.9 189.8 45.8 188.5 44.1 186.5C42.4 184.5 41.1 181.1 42.1 178.4C43.1 175.7 46.8 172.1 50.2 170.4C53.6 168.7 58.6 169.3 62.3 168.3C66 167.3 69.7 164 72.4 164.3C75.1 164.7 76.7 168.9 78.4 170.4C80.1 171.9 80.5 173.1 82.5 173.4C84.5 173.7 87.8 172.2 90.5 172.4C93.2 172.6 97.2 174.1 98.6 174.4" fill="none" stroke="#9c9c9c" stroke-width="3" stroke-linecap="round" stroke-linejoin="round"/>
<path d="M51.2 192.3L51.6 192.3L52.7 191.8L54.2 191.1L56.2 190.1L58.3 189.1L60.6 188.2L62.8 187.5L64.7 187.1L66.2 187.3L67.3 187.9L69.3 190.2L68.9 190.2L67.8 190.7L66.3 191.4L64.3 192.4L62.2 193.4L59.9 194.3L57.7 195L55.8 195.4L54.3 195.2L53.2 194.6Z" fill="#7e7e7e" stroke="#6e6e6e" stroke-width="1.7" stroke-linejoin="round"/>
<path d="M60.8 203.3L61.3 203.3L62.4 202.8L63.9 202.1L65.8 201.1L68 200.1L70.3 199.2L72.5 198.5L74.4 198.1L75.9 198.3L76.9 198.9L79 201.2L78.5 201.2L77.5 201.7L75.9 202.4L74 203.4L71.8 204.4L69.6 205.3L67.4 206L65.5 206.4L63.9 206.2L62.9 205.6Z" fill="#7e7e7e" stroke="#6e6e6e" stroke-width="1.7" stroke-linejoin="round"/>
<path d="M70.5 214.3L71 214.3L72 213.8L73.6 213.1L75.5 212.1L77.7 211.1L79.9 210.2L82.1 209.5L84 209.1L85.6 209.3L86.6 209.9L88.7 212.2L88.2 212.2L87.1 212.7L85.6 213.4L83.7 214.4L81.5 215.4L79.2 216.3L77 217L75.1 217.4L73.6 217.2L72.6 216.6Z" fill="#7e7e7e" stroke="#6e6e6e" stroke-width="1.7" stroke-linejoin="round"/>
<path d="M57.3 176.6L57.2 177L56.6 177.9L55.6 179.3L54.4 181L53 183L51.8 185.2L50.9 187.3L50.4 189.2L50.4 190.8L50.9 192L53.5 194.9L53.6 194.5L54.2 193.6L55.2 192.2L56.5 190.5L57.8 188.5L59 186.3L59.9 184.2L60.5 182.3L60.5 180.7L59.9 179.5Z" fill="#b4b4b4" stroke="#6e6e6e" stroke-width="1.7" stroke-linejoin="round"/>
<path d="M67 187.6L66.9 188L66.3 188.9L65.3 190.3L64 192L62.7 194L61.5 196.2L60.6 198.3L60 200.2L60 201.8L60.6 203L63.2 205.9L63.3 205.5L63.9 204.6L64.9 203.2L66.1 201.5L67.5 199.5L68.7 197.3L69.6 195.2L70.1 193.3L70.1 191.7L69.6 190.5Z" fill="#b4b4b4" stroke="#6e6e6e" stroke-width="1.7" stroke-linejoin="round"/>
<path d="M76.7 198.6L76.5 199L75.9 199.9L74.9 201.3L73.7 203L72.4 205L71.2 207.2L70.2 209.3L69.7 211.2L69.7 212.8L70.2 214L72.8 216.9L73 216.5L73.6 215.6L74.6 214.2L75.8 212.5L77.1 210.5L78.3 208.3L79.3 206.2L79.8 204.3L79.8 202.7L79.3 201.5Z" fill="#b4b4b4" stroke="#6e6e6e" stroke-width="1.7" stroke-linejoin="round"/>
<path d="M80 214C81 213.3 83.9 211.6 86 210C88.1 208.4 91.4 205.6 92.5 204.7" fill="none" stroke="#6e6e6e" stroke-width="5.4" stroke-linecap="round" stroke-linejoin="round"/>
<path d="M80 214C81 213.3 83.9 211.6 86 210C88.1 208.4 91.4 205.6 92.5 204.7" fill="none" stroke="#9c9c9c" stroke-width="3" stroke-linecap="round" stroke-linejoin="round"/>
<path d="M205 181.5C202.7 182.2 197.1 184.6 191.4 186C185.7 187.4 177.7 188.2 171 190C164.3 191.8 159.5 193.2 151.1 196.6C142.7 200 128 207.5 120.8 210.7C113.6 213.9 110.1 215.1 108 216" fill="none" stroke="#6e6e6e" stroke-width="6.8" stroke-linecap="butt"/>
<path d="M205 181.5C202.7 182.2 197.1 184.6 191.4 186C185.7 187.4 177.7 188.2 171 190C164.3 191.8 159.5 193.2 151.1 196.6C142.7 200 128 207.5 120.8 210.7C113.6 213.9 110.1 215.1 108 216" fill="none" stroke="#b4b4b4" stroke-width="4.4" stroke-linecap="butt"/>
<path d="M106.1 211.4L101.5 218.7L109.9 220.6Z" fill="#b4b4b4" stroke="#6e6e6e" stroke-width="1.6" stroke-linejoin="round"/>
<path d="M130.9 216.7C131.3 213.9 130.8 205.2 133.5 200C136.2 194.8 142.4 188.4 147 185.5C151.6 182.6 156.5 182.2 161.2 182.5C165.9 182.8 170 186.3 175.3 187.5C180.6 188.7 188.1 190.2 193 189.5C197.9 188.8 203 184.1 205 183" fill="none" stroke="#6e6e6e" stroke-width="7.8" stroke-linecap="butt"/>
<path d="M130.9 216.7C131.3 213.9 130.8 205.2 133.5 200C136.2 194.8 142.4 188.4 147 185.5C151.6 182.6 156.5 182.2 161.2 182.5C165.9 182.8 170 186.3 175.3 187.5C180.6 188.7 188.1 190.2 193 189.5C197.9 188.8 203 184.1 205 183" fill="none" stroke="#b4b4b4" stroke-width="5.4" stroke-linecap="butt"/>
<path d="M205 185C202.7 186.4 198.9 191.4 191.4 193.6C183.9 195.8 170.2 196.8 160 198C149.8 199.2 139 200 130 201C121 202 110 203.3 106 203.8" fill="none" stroke="#6e6e6e" stroke-width="7.8" stroke-linecap="butt"/>
<path d="M205 185C202.7 186.4 198.9 191.4 191.4 193.6C183.9 195.8 170.2 196.8 160 198C149.8 199.2 139 200 130 201C121 202 110 203.3 106 203.8" fill="none" stroke="#b4b4b4" stroke-width="5.4" stroke-linecap="butt"/>
<path d="M105.2 197L96.5 204.9L106.8 210.6Z" fill="#b4b4b4" stroke="#6e6e6e" stroke-width="1.6" stroke-linejoin="round"/>
<path d="M129.5 178L129.9 177.6L130.3 176.5L130.8 174.9L131.4 172.8L132.1 170.4L132.9 168.1L133.9 166L135 164.3L136.3 163.2L137.6 162.7L141.2 162.5L140.8 162.9L140.4 164L139.9 165.6L139.3 167.7L138.6 170.1L137.8 172.4L136.8 174.5L135.7 176.2L134.4 177.3L133.1 177.8Z" fill="#7e7e7e" stroke="#6e6e6e" stroke-width="1.7" stroke-linejoin="round"/>
<path d="M147.3 177L147.7 176.6L148.1 175.5L148.6 173.9L149.2 171.8L149.9 169.4L150.7 167.1L151.7 165L152.8 163.3L154.1 162.2L155.4 161.7L159 161.5L158.6 161.9L158.2 163L157.7 164.6L157.1 166.7L156.4 169.1L155.6 171.4L154.6 173.5L153.5 175.2L152.2 176.3L150.9 176.8Z" fill="#7e7e7e" stroke="#6e6e6e" stroke-width="1.7" stroke-linejoin="round"/>
<path d="M165.1 176L165.5 175.6L165.9 174.5L166.4 172.9L167 170.8L167.7 168.4L168.5 166.1L169.5 164L170.6 162.3L171.9 161.2L173.2 160.7L176.8 160.5L176.4 160.9L176 162L175.5 163.6L174.9 165.7L174.2 168.1L173.4 170.4L172.4 172.5L171.3 174.2L170 175.3L168.7 175.8Z" fill="#7e7e7e" stroke="#6e6e6e" stroke-width="1.7" stroke-linejoin="round"/>
<path d="M182.9 175L183.3 174.6L183.7 173.5L184.2 171.9L184.8 169.8L185.5 167.4L186.3 165.1L187.3 163L188.4 161.3L189.7 160.2L191 159.7L194.6 159.5L194.2 159.9L193.8 161L193.3 162.6L192.7 164.7L192 167.1L191.2 169.4L190.2 171.5L189.1 173.2L187.8 174.3L186.5 174.8Z" fill="#7e7e7e" stroke="#6e6e6e" stroke-width="1.7" stroke-linejoin="round"/>
<path d="M200.7 174L201.1 173.6L201.5 172.5L202 170.9L202.6 168.8L203.3 166.4L204.1 164.1L205.1 162L206.2 160.3L207.5 159.2L208.8 158.7L212.4 158.5L212 158.9L211.6 160L211.1 161.6L210.5 163.7L209.8 166.1L209 168.4L208 170.5L206.9 172.2L205.6 173.3L204.3 173.8Z" fill="#7e7e7e" stroke="#6e6e6e" stroke-width="1.7" stroke-linejoin="round"/>
<path d="M119.3 163.7L119.7 164.1L120.1 165.1L120.7 166.7L121.4 168.7L122.4 171L123.5 173.2L124.7 175.2L126.1 176.8L127.6 177.7L129.1 178L133.6 177.8L133.2 177.4L132.8 176.4L132.2 174.8L131.5 172.8L130.5 170.5L129.4 168.3L128.2 166.3L126.8 164.7L125.3 163.8L123.8 163.5Z" fill="#b4b4b4" stroke="#6e6e6e" stroke-width="1.7" stroke-linejoin="round"/>
<path d="M137.1 162.7L137.5 163.1L137.9 164.1L138.5 165.7L139.2 167.7L140.2 170L141.3 172.2L142.5 174.2L143.9 175.8L145.4 176.7L146.9 177L151.4 176.8L151 176.4L150.6 175.4L150 173.8L149.3 171.8L148.3 169.5L147.2 167.3L146 165.3L144.6 163.7L143.1 162.8L141.6 162.5Z" fill="#b4b4b4" stroke="#6e6e6e" stroke-width="1.7" stroke-linejoin="round"/>
<path d="M154.9 161.7L155.3 162.1L155.7 163.1L156.3 164.7L157 166.7L158 169L159.1 171.2L160.3 173.2L161.7 174.8L163.2 175.7L164.7 176L169.2 175.8L168.8 175.4L168.4 174.4L167.8 172.8L167.1 170.8L166.1 168.5L165 166.3L163.8 164.3L162.4 162.7L160.9 161.8L159.4 161.5Z" fill="#b4b4b4" stroke="#6e6e6e" stroke-width="1.7" stroke-linejoin="round"/>
<path d="M172.7 160.7L173.1 161.1L173.5 162.1L174.1 163.7L174.8 165.7L175.8 168L176.9 170.2L178.1 172.2L179.5 173.8L181 174.7L182.5 175L187 174.8L186.6 174.4L186.2 173.4L185.6 171.8L184.9 169.8L183.9 167.5L182.8 165.3L181.6 163.3L180.2 161.7L178.7 160.8L177.2 160.5Z" fill="#b4b4b4" stroke="#6e6e6e" stroke-width="1.7" stroke-linejoin="round"/>
<path d="M190.5 159.7L190.9 160.1L191.3 161.1L191.9 162.7L192.6 164.7L193.6 167L194.7 169.2L195.9 171.2L197.3 172.8L198.8 173.7L200.3 174L204.8 173.8L204.4 173.4L204 172.4L203.4 170.8L202.7 168.8L201.7 166.5L200.6 164.3L199.4 162.3L198 160.7L196.5 159.8L195 159.5Z" fill="#b4b4b4" stroke="#6e6e6e" stroke-width="1.7" stroke-linejoin="round"/>
<path d="M101.5 185.9L101.7 185.4L101.5 184.3L101.2 182.6L100.8 180.6L100.4 178.2L100.1 175.8L100.1 173.6L100.3 171.6L100.9 170.1L101.9 169.1L105 167.3L104.8 167.9L105 169L105.3 170.6L105.7 172.7L106.1 175L106.4 177.4L106.4 179.7L106.2 181.7L105.6 183.2L104.6 184.1Z" fill="#7e7e7e" stroke="#6e6e6e" stroke-width="1.7" stroke-linejoin="round"/>
<path d="M116.5 177.4L116.7 176.9L116.5 175.8L116.2 174.1L115.8 172.1L115.4 169.7L115.1 167.3L115.1 165.1L115.3 163.1L115.9 161.6L116.9 160.6L120 158.8L119.8 159.4L120 160.5L120.3 162.1L120.7 164.2L121.1 166.5L121.4 168.9L121.4 171.2L121.2 173.2L120.6 174.7L119.6 175.6Z" fill="#7e7e7e" stroke="#6e6e6e" stroke-width="1.7" stroke-linejoin="round"/>
<path d="M131.5 168.9L131.7 168.4L131.5 167.3L131.2 165.6L130.8 163.6L130.4 161.2L130.1 158.8L130.1 156.6L130.3 154.6L130.9 153.1L131.9 152.1L135 150.3L134.8 150.9L135 152L135.3 153.6L135.7 155.7L136.1 158L136.4 160.4L136.4 162.7L136.2 164.7L135.6 166.2L134.6 167.1Z" fill="#7e7e7e" stroke="#6e6e6e" stroke-width="1.7" stroke-linejoin="round"/>
<path d="M146.5 160.4L146.7 159.9L146.5 158.8L146.2 157.1L145.8 155.1L145.4 152.7L145.1 150.3L145.1 148.1L145.3 146.1L145.9 144.6L146.9 143.6L150 141.8L149.8 142.4L150 143.5L150.3 145.1L150.7 147.2L151.1 149.5L151.4 151.9L151.4 154.2L151.2 156.2L150.6 157.7L149.6 158.6Z" fill="#7e7e7e" stroke="#6e6e6e" stroke-width="1.7" stroke-linejoin="round"/>
<path d="M161.5 151.9L161.7 151.4L161.5 150.3L161.2 148.6L160.8 146.6L160.4 144.2L160.1 141.8L160.1 139.6L160.3 137.6L160.9 136.1L161.9 135.1L165 133.3L164.8 133.9L165 135L165.3 136.6L165.7 138.7L166.1 141L166.4 143.4L166.4 145.7L166.2 147.7L165.6 149.2L164.6 150.1Z" fill="#7e7e7e" stroke="#6e6e6e" stroke-width="1.7" stroke-linejoin="round"/>
<path d="M86.5 177.8L86.9 178L87.7 178.7L88.9 179.9L90.4 181.3L92.2 182.9L94.1 184.4L96.1 185.6L98 186.3L99.7 186.5L101.1 186.1L105 183.9L104.6 183.7L103.8 183L102.6 181.9L101.1 180.4L99.3 178.9L97.4 177.4L95.4 176.2L93.5 175.4L91.8 175.2L90.4 175.6Z" fill="#b4b4b4" stroke="#6e6e6e" stroke-width="1.7" stroke-linejoin="round"/>
<path d="M101.5 169.3L101.9 169.5L102.7 170.2L103.9 171.4L105.4 172.8L107.2 174.4L109.1 175.9L111.1 177.1L113 177.8L114.7 178L116.1 177.6L120 175.4L119.6 175.2L118.8 174.5L117.6 173.4L116.1 171.9L114.3 170.4L112.4 168.9L110.4 167.7L108.5 166.9L106.8 166.7L105.4 167.1Z" fill="#b4b4b4" stroke="#6e6e6e" stroke-width="1.7" stroke-linejoin="round"/>
<path d="M116.5 160.8L116.9 161L117.7 161.7L118.9 162.9L120.4 164.3L122.2 165.9L124.1 167.4L126.1 168.6L128 169.3L129.7 169.5L131.1 169.1L135 166.9L134.6 166.7L133.8 166L132.6 164.9L131.1 163.4L129.3 161.9L127.4 160.4L125.4 159.2L123.5 158.4L121.8 158.2L120.4 158.6Z" fill="#b4b4b4" stroke="#6e6e6e" stroke-width="1.7" stroke-linejoin="round"/>
<path d="M131.5 152.3L131.9 152.5L132.7 153.2L133.9 154.4L135.4 155.8L137.2 157.4L139.1 158.9L141.1 160.1L143 160.8L144.7 161L146.1 160.6L150 158.4L149.6 158.2L148.8 157.5L147.6 156.4L146.1 154.9L144.3 153.4L142.4 151.9L140.4 150.7L138.5 149.9L136.8 149.7L135.4 150.1Z" fill="#b4b4b4" stroke="#6e6e6e" stroke-width="1.7" stroke-linejoin="round"/>
<path d="M146.5 143.8L146.9 144L147.7 144.7L148.9 145.9L150.4 147.3L152.2 148.9L154.1 150.4L156.1 151.6L158 152.3L159.7 152.5L161.1 152.1L165 149.9L164.6 149.7L163.8 149L162.6 147.9L161.1 146.4L159.3 144.9L157.4 143.4L155.4 142.2L153.5 141.4L151.8 141.2L150.4 141.6Z" fill="#b4b4b4" stroke="#6e6e6e" stroke-width="1.7" stroke-linejoin="round"/>
<path d="M169.2 146.2C170.2 145.8 173.6 145.5 175.3 144.1C177 142.7 178 140 179.3 138C180.7 136 182.7 133 183.4 132" fill="none" stroke="#6e6e6e" stroke-width="5.4" stroke-linecap="round" stroke-linejoin="round"/>
<path d="M169.2 146.2C170.2 145.8 173.6 145.5 175.3 144.1C177 142.7 178 140 179.3 138C180.7 136 182.7 133 183.4 132" fill="none" stroke="#9c9c9c" stroke-width="3" stroke-linecap="round" stroke-linejoin="round"/>
<path d="M200 127C201.7 125.8 206.3 121.3 210 120C213.7 118.7 218.3 119.7 222 119C225.7 118.3 229 116.3 232 116C235 115.7 236.8 115.5 240 117C243.2 118.5 248.7 122 251 125C253.3 128 253.8 131.7 254 135C254.2 138.3 252.7 143.1 252.4 144.7" fill="none" stroke="#6e6e6e" stroke-width="5.4" stroke-linecap="round" stroke-linejoin="round"/>
<path d="M200 127C201.7 125.8 206.3 121.3 210 120C213.7 118.7 218.3 119.7 222 119C225.7 118.3 229 116.3 232 116C235 115.7 236.8 115.5 240 117C243.2 118.5 248.7 122 251 125C253.3 128 253.8 131.7 254 135C254.2 138.3 252.7 143.1 252.4 144.7" fill="none" stroke="#9c9c9c" stroke-width="3" stroke-linecap="round" stroke-linejoin="round"/>
<path d="M251.6 144.7C252.2 145.9 253.9 149.9 255.4 152.2C256.9 154.5 259.9 156.3 260.7 158.3C261.4 160.3 261 162.7 259.9 164.3C258.8 165.9 256.2 167.6 253.9 168.1C251.6 168.6 248.6 167.8 246.3 167.4C244 167 242.1 166.3 240.3 165.9C238.5 165.5 236.5 165.2 235.7 165.1" fill="none" stroke="#6e6e6e" stroke-width="5.4" stroke-linecap="round" stroke-linejoin="round"/>
<path d="M251.6 144.7C252.2 145.9 253.9 149.9 255.4 152.2C256.9 154.5 259.9 156.3 260.7 158.3C261.4 160.3 261 162.7 259.9 164.3C258.8 165.9 256.2 167.6 253.9 168.1C251.6 168.6 248.6 167.8 246.3 167.4C244 167 242.1 166.3 240.3 165.9C238.5 165.5 236.5 165.2 235.7 165.1" fill="none" stroke="#9c9c9c" stroke-width="3" stroke-linecap="round" stroke-linejoin="round"/>
<path d="M252.4 144.7C251.9 146.2 250.6 151 249.3 153.8C248 156.6 246.3 159.2 244.8 161.3C243.3 163.4 242.3 165.3 240.3 166.6C238.3 167.9 235 167.5 232.7 168.9C230.4 170.3 227.6 172.1 226.6 174.9C225.6 177.7 226.8 182 226.6 185.5C226.3 189 225.8 193.1 225.1 196.1C224.3 199.1 222.6 202.4 222.1 203.7" fill="none" stroke="#6e6e6e" stroke-width="5.4" stroke-linecap="round" stroke-linejoin="round"/>
<path d="M252.4 144.7C251.9 146.2 250.6 151 249.3 153.8C248 156.6 246.3 159.2 244.8 161.3C243.3 163.4 242.3 165.3 240.3 166.6C238.3 167.9 235 167.5 232.7 168.9C230.4 170.3 227.6 172.1 226.6 174.9C225.6 177.7 226.8 182 226.6 185.5C226.3 189 225.8 193.1 225.1 196.1C224.3 199.1 222.6 202.4 222.1 203.7" fill="none" stroke="#9c9c9c" stroke-width="3" stroke-linecap="round" stroke-linejoin="round"/>
<path d="M220.6 130C220.3 131.9 218.8 138.2 219.1 141.6C219.3 145 221.8 147.7 222.1 150.7C222.3 153.7 220.6 156.8 220.6 159.8C220.6 162.8 222.3 166.1 222.1 168.9C221.8 171.7 221.1 174.7 219.1 176.5C217.1 178.3 211.5 179 210 179.5" fill="none" stroke="#6e6e6e" stroke-width="5.4" stroke-linecap="round" stroke-linejoin="round"/>
<path d="M220.6 130C220.3 131.9 218.8 138.2 219.1 141.6C219.3 145 221.8 147.7 222.1 150.7C222.3 153.7 220.6 156.8 220.6 159.8C220.6 162.8 222.3 166.1 222.1 168.9C221.8 171.7 221.1 174.7 219.1 176.5C217.1 178.3 211.5 179 210 179.5" fill="none" stroke="#9c9c9c" stroke-width="3" stroke-linecap="round" stroke-linejoin="round"/>
<path d="M237.2 128C237.5 129.3 237.5 133.6 238.8 135.6C240.1 137.6 242.5 139.1 244.8 140.1C247.1 141.1 250.4 142.6 252.4 141.6C254.4 140.6 254.6 136.5 256.9 134.1C259.2 131.7 264.5 128.4 266 127.3" fill="none" stroke="#6e6e6e" stroke-width="5.4" stroke-linecap="round" stroke-linejoin="round"/>
<path d="M237.2 128C237.5 129.3 237.5 133.6 238.8 135.6C240.1 137.6 242.5 139.1 244.8 140.1C247.1 141.1 250.4 142.6 252.4 141.6C254.4 140.6 254.6 136.5 256.9 134.1C259.2 131.7 264.5 128.4 266 127.3" fill="none" stroke="#9c9c9c" stroke-width="3" stroke-linecap="round" stroke-linejoin="round"/>
<path d="M210 162.8C211.3 162.1 215.3 159.9 217.6 158.3C219.9 156.7 221.6 153.9 223.6 153.4C225.6 152.9 228.2 155.5 229.7 155.3C231.2 155.1 232.2 152.7 232.7 152.2" fill="none" stroke="#6e6e6e" stroke-width="5.4" stroke-linecap="round" stroke-linejoin="round"/>
<path d="M210 162.8C211.3 162.1 215.3 159.9 217.6 158.3C219.9 156.7 221.6 153.9 223.6 153.4C225.6 152.9 228.2 155.5 229.7 155.3C231.2 155.1 232.2 152.7 232.7 152.2" fill="none" stroke="#9c9c9c" stroke-width="3" stroke-linecap="round" stroke-linejoin="round"/>
<path d="M200 127C200.3 129 201 135.2 202 139C203 142.8 205.8 146.5 206 150C206.2 153.5 203 156.7 203 160C203 163.3 205.5 168.3 206 170" fill="none" stroke="#6e6e6e" stroke-width="5.4" stroke-linecap="round" stroke-linejoin="round"/>
<path d="M200 127C200.3 129 201 135.2 202 139C203 142.8 205.8 146.5 206 150C206.2 153.5 203 156.7 203 160C203 163.3 205.5 168.3 206 170" fill="none" stroke="#9c9c9c" stroke-width="3" stroke-linecap="round" stroke-linejoin="round"/>
<path d="M213.5 123C216 123.4 225.7 123.5 228.5 125.5C231.3 127.5 230.2 133.4 230.5 135" fill="none" stroke="#6e6e6e" stroke-width="4.7" stroke-linecap="round" stroke-linejoin="round"/>
<path d="M213.5 123C216 123.4 225.7 123.5 228.5 125.5C231.3 127.5 230.2 133.4 230.5 135" fill="none" stroke="#9c9c9c" stroke-width="2.3" stroke-linecap="round" stroke-linejoin="round"/>
<path d="M236.6 118C236.1 119.5 233.6 124.5 233.6 127C233.6 129.5 236.7 130.8 236.6 133C236.5 135.2 233.6 139.1 233 140.3" fill="none" stroke="#6e6e6e" stroke-width="4.7" stroke-linecap="round" stroke-linejoin="round"/>
<path d="M236.6 118C236.1 119.5 233.6 124.5 233.6 127C233.6 129.5 236.7 130.8 236.6 133C236.5 135.2 233.6 139.1 233 140.3" fill="none" stroke="#9c9c9c" stroke-width="2.3" stroke-linecap="round" stroke-linejoin="round"/>
<path d="M182 182C183.3 183.3 186 188.3 190 190C194 191.7 201.6 190.7 206 192C210.4 193.3 214.7 197 216.4 198" fill="none" stroke="#6e6e6e" stroke-width="5.4" stroke-linecap="round" stroke-linejoin="round"/>
<path d="M182 182C183.3 183.3 186 188.3 190 190C194 191.7 201.6 190.7 206 192C210.4 193.3 214.7 197 216.4 198" fill="none" stroke="#9c9c9c" stroke-width="3" stroke-linecap="round" stroke-linejoin="round"/>
<path d="M180.6 145.7L181.1 145.6L181.9 145L183.1 144L184.4 142.6L186 141.2L187.7 139.8L189.4 138.7L191 137.9L192.5 137.6L193.7 137.9L196.4 139.3L195.9 139.4L195.1 140L193.9 141L192.6 142.4L191 143.8L189.3 145.2L187.6 146.3L186 147.1L184.5 147.4L183.3 147.1Z" fill="#7e7e7e" stroke="#6e6e6e" stroke-width="1.7" stroke-linejoin="round"/>
<path d="M179.3 130.3L179.4 130.8L179.3 131.8L179 133.2L178.7 135.1L178.4 137.2L178.2 139.4L178.3 141.5L178.6 143.3L179.3 144.7L180.3 145.5L183.7 147.3L183.6 146.9L183.7 145.9L184 144.4L184.3 142.6L184.6 140.5L184.8 138.3L184.7 136.2L184.4 134.4L183.7 133L182.7 132.1Z" fill="#b4b4b4" stroke="#6e6e6e" stroke-width="1.7" stroke-linejoin="round"/>
<path d="M193.3 137.7L193.4 138.1L193.3 139.1L193 140.6L192.7 142.4L192.4 144.5L192.2 146.7L192.3 148.8L192.6 150.6L193.3 152L194.3 152.9L197.7 154.7L197.6 154.2L197.7 153.2L198 151.8L198.3 149.9L198.6 147.8L198.8 145.6L198.7 143.5L198.4 141.7L197.7 140.3L196.7 139.5Z" fill="#b4b4b4" stroke="#6e6e6e" stroke-width="1.7" stroke-linejoin="round"/>
<path d="M176 137C176.7 135.5 178.3 130.5 180 128C181.7 125.5 184.8 124.3 186 122C187.2 119.7 186.8 115.3 187 114" fill="none" stroke="#6e6e6e" stroke-width="5.4" stroke-linecap="round" stroke-linejoin="round"/>
<path d="M176 137C176.7 135.5 178.3 130.5 180 128C181.7 125.5 184.8 124.3 186 122C187.2 119.7 186.8 115.3 187 114" fill="none" stroke="#9c9c9c" stroke-width="3" stroke-linecap="round" stroke-linejoin="round"/>
<path d="M219.1 207.5C220.1 208.9 225.9 211.1 229.7 212C233.5 212.9 237.8 213.3 241.8 212.8C245.8 212.3 250.4 210.8 253.9 209C257.4 207.2 260.6 204.6 263 202.2C265.4 199.8 267.8 196.8 268.3 194.6C268.8 192.4 267.4 190.3 266 189.3C264.6 188.3 259.6 190 259.9 188.6C260.1 187.2 265 183.3 267.5 181C270 178.7 272.1 175.7 275.1 174.9C278.1 174.2 282.4 176.8 285.7 176.5C289 176.2 291.9 174.7 294.7 173.4C297.5 172.1 300.3 169.4 302.3 168.9C304.3 168.4 305.6 171.2 306.9 170.4C308.2 169.6 309.9 165.9 309.9 164.3C309.9 162.7 307.9 161.3 306.9 160.6C305.9 159.8 304.2 161.2 303.8 159.8C303.4 158.4 304.1 154.7 304.6 152.2C305.1 149.7 307 146.7 306.9 144.7C306.8 142.7 305.3 141 303.8 140.1C302.3 139.2 299.7 138.6 297.8 139.4C295.9 140.2 293.5 142.6 292.5 144.7C291.5 146.8 291.8 149.8 291.7 152.2C291.6 154.6 292.7 157.5 291.7 159C290.7 160.5 288 160.3 285.7 161.3C283.4 162.3 280.6 164 278.1 165.1C275.6 166.2 273.3 167 270.5 168.1C267.7 169.2 264.5 170.5 261.5 171.9C258.5 173.3 255.4 175 252.4 176.5C249.4 178 246.1 179 243.3 181C240.5 183 238 186.1 235.7 188.6C233.4 191.1 231.7 193.6 229.7 196.1C227.7 198.6 225.4 201.8 223.6 203.7C221.8 205.6 218.1 206.1 219.1 207.5Z" fill="none" stroke="#6e6e6e" stroke-width="5.4" stroke-linecap="round" stroke-linejoin="round"/>
<path d="M219.1 207.5C220.1 208.9 225.9 211.1 229.7 212C233.5 212.9 237.8 213.3 241.8 212.8C245.8 212.3 250.4 210.8 253.9 209C257.4 207.2 260.6 204.6 263 202.2C265.4 199.8 267.8 196.8 268.3 194.6C268.8 192.4 267.4 190.3 266 189.3C264.6 188.3 259.6 190 259.9 188.6C260.1 187.2 265 183.3 267.5 181C270 178.7 272.1 175.7 275.1 174.9C278.1 174.2 282.4 176.8 285.7 176.5C289 176.2 291.9 174.7 294.7 173.4C297.5 172.1 300.3 169.4 302.3 168.9C304.3 168.4 305.6 171.2 306.9 170.4C308.2 169.6 309.9 165.9 309.9 164.3C309.9 162.7 307.9 161.3 306.9 160.6C305.9 159.8 304.2 161.2 303.8 159.8C303.4 158.4 304.1 154.7 304.6 152.2C305.1 149.7 307 146.7 306.9 144.7C306.8 142.7 305.3 141 303.8 140.1C302.3 139.2 299.7 138.6 297.8 139.4C295.9 140.2 293.5 142.6 292.5 144.7C291.5 146.8 291.8 149.8 291.7 152.2C291.6 154.6 292.7 157.5 291.7 159C290.7 160.5 288 160.3 285.7 161.3C283.4 162.3 280.6 164 278.1 165.1C275.6 166.2 273.3 167 270.5 168.1C267.7 169.2 264.5 170.5 261.5 171.9C258.5 173.3 255.4 175 252.4 176.5C249.4 178 246.1 179 243.3 181C240.5 183 238 186.1 235.7 188.6C233.4 191.1 231.7 193.6 229.7 196.1C227.7 198.6 225.4 201.8 223.6 203.7C221.8 205.6 218.1 206.1 219.1 207.5Z" fill="none" stroke="#9c9c9c" stroke-width="3" stroke-linecap="round" stroke-linejoin="round"/>
<path d="M303 139.5C303.3 138.8 303.8 135.2 305 135C306.2 134.8 310.2 136.7 310.5 138C310.8 139.3 307.6 142.2 307 143" fill="none" stroke="#6e6e6e" stroke-width="3.9" stroke-linecap="round" stroke-linejoin="round"/>
<path d="M303 139.5C303.3 138.8 303.8 135.2 305 135C306.2 134.8 310.2 136.7 310.5 138C310.8 139.3 307.6 142.2 307 143" fill="none" stroke="#9c9c9c" stroke-width="1.5" stroke-linecap="round" stroke-linejoin="round"/>
<path d="M197.2 115.7C199 115.5 204 115 207.8 114.2C211.6 113.4 216.1 111.4 219.9 111.1C223.7 110.8 227 111.8 230.5 112.6C234 113.4 238.1 114.7 241.1 115.7C244.1 116.7 246.4 117.2 248.7 118.7C251 120.2 253.7 123.7 254.7 124.7" fill="none" stroke="#6e6e6e" stroke-width="5.4" stroke-linecap="round" stroke-linejoin="round"/>
<path d="M197.2 115.7C199 115.5 204 115 207.8 114.2C211.6 113.4 216.1 111.4 219.9 111.1C223.7 110.8 227 111.8 230.5 112.6C234 113.4 238.1 114.7 241.1 115.7C244.1 116.7 246.4 117.2 248.7 118.7C251 120.2 253.7 123.7 254.7 124.7" fill="none" stroke="#9c9c9c" stroke-width="3" stroke-linecap="round" stroke-linejoin="round"/>
<path d="M207.8 94.5C208.6 94.8 210.6 95.5 212.4 96C214.2 96.5 216.9 98.5 218.4 97.5C219.9 96.5 220.9 92.3 221.5 90C222.1 87.7 222.1 84.9 222.2 83.9" fill="none" stroke="#6e6e6e" stroke-width="5.4" stroke-linecap="round" stroke-linejoin="round"/>
<path d="M207.8 94.5C208.6 94.8 210.6 95.5 212.4 96C214.2 96.5 216.9 98.5 218.4 97.5C219.9 96.5 220.9 92.3 221.5 90C222.1 87.7 222.1 84.9 222.2 83.9" fill="none" stroke="#9c9c9c" stroke-width="3" stroke-linecap="round" stroke-linejoin="round"/>
<path d="M200.3 103.6C201.1 103.8 203.6 105.5 204.8 105C206.1 104.5 207.2 102.1 207.8 100.5C208.4 98.9 208.5 96.1 208.6 95.2" fill="none" stroke="#6e6e6e" stroke-width="5.4" stroke-linecap="round" stroke-linejoin="round"/>
<path d="M200.3 103.6C201.1 103.8 203.6 105.5 204.8 105C206.1 104.5 207.2 102.1 207.8 100.5C208.4 98.9 208.5 96.1 208.6 95.2" fill="none" stroke="#9c9c9c" stroke-width="3" stroke-linecap="round" stroke-linejoin="round"/>
<path d="M180.3 88.1L180.7 88.4L181.9 88.6L183.7 88.8L186.1 89.2L188.6 89.6L191.2 90.2L193.6 90.9L195.5 91.8L196.7 92.8L197.2 94L197.5 97.5L197.1 97.2L195.9 97L194.1 96.8L191.7 96.4L189.2 96L186.6 95.4L184.2 94.7L182.3 93.8L181.1 92.8L180.6 91.6Z" fill="#7e7e7e" stroke="#6e6e6e" stroke-width="1.7" stroke-linejoin="round"/>
<path d="M181.5 102.5L181.9 102.8L183.1 103L184.9 103.2L187.3 103.6L189.8 104L192.4 104.6L194.8 105.3L196.7 106.2L197.9 107.2L198.4 108.4L198.7 111.9L198.3 111.6L197.1 111.4L195.3 111.2L192.9 110.8L190.4 110.4L187.8 109.8L185.4 109.1L183.5 108.2L182.3 107.2L181.8 106Z" fill="#7e7e7e" stroke="#6e6e6e" stroke-width="1.7" stroke-linejoin="round"/>
<path d="M196 79.1L195.6 79.3L194.5 79.6L192.7 80.1L190.4 80.8L188 81.6L185.5 82.6L183.3 83.8L181.6 85.1L180.5 86.4L180.2 87.7L180.6 92.1L181 91.9L182.1 91.6L183.9 91.1L186.2 90.4L188.6 89.6L191.1 88.6L193.3 87.4L195 86.1L196.1 84.8L196.4 83.5Z" fill="#b4b4b4" stroke="#6e6e6e" stroke-width="1.7" stroke-linejoin="round"/>
<path d="M197.2 93.5L196.8 93.7L195.7 94L193.9 94.5L191.6 95.2L189.2 96L186.7 97L184.5 98.2L182.8 99.5L181.7 100.8L181.4 102.1L181.8 106.5L182.2 106.3L183.3 106L185.1 105.5L187.4 104.8L189.8 104L192.3 103L194.5 101.8L196.2 100.5L197.3 99.2L197.6 97.9Z" fill="#b4b4b4" stroke="#6e6e6e" stroke-width="1.7" stroke-linejoin="round"/>
<path d="M198.4 107.9L198 108.1L196.9 108.4L195.1 108.9L192.8 109.6L190.4 110.4L187.9 111.4L185.7 112.6L184 113.9L182.9 115.2L182.6 116.5L183 120.9L183.4 120.7L184.5 120.4L186.3 119.9L188.6 119.2L191 118.4L193.5 117.4L195.7 116.2L197.4 114.9L198.5 113.6L198.8 112.3Z" fill="#b4b4b4" stroke="#6e6e6e" stroke-width="1.7" stroke-linejoin="round"/>
<path d="M192.4 78.1L192.8 77.9L193.5 77L194.6 75.6L195.9 73.9L197.3 72L199 70.1L200.6 68.6L202.2 67.4L203.6 66.8L204.8 66.9L207.9 68.2L207.4 68.4L206.7 69.3L205.7 70.6L204.4 72.4L202.9 74.3L201.3 76.1L199.7 77.7L198.1 78.8L196.6 79.4L195.4 79.3Z" fill="#7e7e7e" stroke="#6e6e6e" stroke-width="1.7" stroke-linejoin="round"/>
<path d="M205.9 83.6L206.3 83.4L207 82.5L208.1 81.1L209.4 79.4L210.8 77.5L212.5 75.6L214.1 74.1L215.7 72.9L217.1 72.3L218.3 72.4L221.4 73.7L220.9 73.9L220.2 74.8L219.2 76.1L217.9 77.9L216.4 79.8L214.8 81.6L213.2 83.2L211.6 84.3L210.1 84.9L208.9 84.8Z" fill="#7e7e7e" stroke="#6e6e6e" stroke-width="1.7" stroke-linejoin="round"/>
<path d="M190.9 61.3L191 61.7L190.8 62.8L190.5 64.4L190.2 66.6L189.9 69L189.8 71.4L189.9 73.7L190.3 75.7L191 77.1L192 77.9L195.8 79.5L195.8 79.1L195.9 78L196.2 76.3L196.6 74.2L196.8 71.8L197 69.3L196.9 67L196.5 65.1L195.8 63.6L194.7 62.8Z" fill="#b4b4b4" stroke="#6e6e6e" stroke-width="1.7" stroke-linejoin="round"/>
<path d="M204.4 66.8L204.5 67.2L204.3 68.3L204 69.9L203.7 72.1L203.4 74.5L203.3 76.9L203.4 79.2L203.8 81.2L204.5 82.6L205.5 83.4L209.3 85L209.3 84.6L209.4 83.5L209.7 81.8L210.1 79.7L210.3 77.3L210.5 74.8L210.4 72.5L210 70.6L209.3 69.1L208.2 68.3Z" fill="#b4b4b4" stroke="#6e6e6e" stroke-width="1.7" stroke-linejoin="round"/>
<path d="M223 55C223.2 56.3 225.3 60.2 224.5 62.7C223.7 65.2 219.2 67.5 218.4 70.3C217.7 73.1 219.4 77 220 79.3C220.6 81.6 221.8 83.1 222.2 83.9" fill="none" stroke="#6e6e6e" stroke-width="5.6" stroke-linecap="round" stroke-linejoin="round"/>
<path d="M223 55C223.2 56.3 225.3 60.2 224.5 62.7C223.7 65.2 219.2 67.5 218.4 70.3C217.7 73.1 219.4 77 220 79.3C220.6 81.6 221.8 83.1 222.2 83.9" fill="none" stroke="#9c9c9c" stroke-width="3.2" stroke-linecap="round" stroke-linejoin="round"/>
<path d="M223 53.6C223.8 54.1 226.2 54.8 227.5 56.6C228.8 58.4 230.4 61.7 230.5 64.2C230.6 66.7 228.9 69.7 228.3 71.8C227.7 73.9 227 76.1 226.7 77" fill="none" stroke="#6e6e6e" stroke-width="6.2" stroke-linecap="round" stroke-linejoin="round"/>
<path d="M223 53.6C223.8 54.1 226.2 54.8 227.5 56.6C228.8 58.4 230.4 61.7 230.5 64.2C230.6 66.7 228.9 69.7 228.3 71.8C227.7 73.9 227 76.1 226.7 77" fill="none" stroke="#9c9c9c" stroke-width="3.8" stroke-linecap="round" stroke-linejoin="round"/>
<rect x="223.3" y="74" width="7" height="6.5" fill="#b4b4b4" stroke="#6e6e6e" stroke-width="0.9" transform="rotate(-15 226.8 77)"/>
<path d="M227.5 88L228 88L229.1 87.4L230.7 86.5L232.7 85.4L235 84.2L237.4 83.1L239.7 82.3L241.8 81.9L243.4 82L244.6 82.6L247.2 85.3L246.6 85.3L245.6 85.8L244 86.7L242 87.8L239.7 89L237.3 90.1L235 91L232.9 91.4L231.3 91.3L230.1 90.6Z" fill="#7e7e7e" stroke="#6e6e6e" stroke-width="1.7" stroke-linejoin="round"/>
<path d="M238.7 99.5L239.2 99.5L240.2 98.9L241.8 98L243.9 96.9L246.1 95.7L248.5 94.6L250.8 93.8L252.9 93.4L254.6 93.5L255.7 94.1L258.3 96.8L257.8 96.8L256.7 97.3L255.1 98.2L253.1 99.3L250.8 100.5L248.4 101.6L246.1 102.5L244.1 102.9L242.4 102.8L241.2 102.1Z" fill="#7e7e7e" stroke="#6e6e6e" stroke-width="1.7" stroke-linejoin="round"/>
<path d="M249.8 111L250.3 111L251.4 110.4L253 109.5L255 108.4L257.3 107.2L259.6 106.1L262 105.3L264 104.9L265.7 105L266.8 105.6L269.4 108.3L268.9 108.3L267.8 108.8L266.2 109.7L264.2 110.8L261.9 112L259.5 113.1L257.2 114L255.2 114.4L253.5 114.3L252.3 113.6Z" fill="#7e7e7e" stroke="#6e6e6e" stroke-width="1.7" stroke-linejoin="round"/>
<path d="M260.9 122.5L261.4 122.5L262.5 121.9L264.1 121L266.1 119.9L268.4 118.7L270.8 117.6L273.1 116.8L275.1 116.4L276.8 116.5L278 117.1L280.5 119.8L280 119.8L278.9 120.3L277.3 121.2L275.3 122.3L273.1 123.5L270.7 124.6L268.4 125.5L266.3 125.9L264.6 125.8L263.5 125.1Z" fill="#7e7e7e" stroke="#6e6e6e" stroke-width="1.7" stroke-linejoin="round"/>
<path d="M233.1 70.8L233 71.2L232.4 72.2L231.4 73.7L230.1 75.6L228.9 77.9L227.7 80.2L226.8 82.5L226.4 84.6L226.5 86.4L227.2 87.7L230.4 91L230.6 90.5L231.2 89.6L232.2 88.1L233.4 86.1L234.7 83.9L235.9 81.5L236.7 79.2L237.1 77.1L237 75.4L236.4 74.1Z" fill="#b4b4b4" stroke="#6e6e6e" stroke-width="1.7" stroke-linejoin="round"/>
<path d="M244.3 82.3L244.1 82.7L243.5 83.7L242.5 85.2L241.3 87.1L240 89.4L238.8 91.7L238 94L237.5 96.1L237.7 97.9L238.3 99.2L241.5 102.5L241.7 102L242.3 101.1L243.3 99.6L244.5 97.6L245.8 95.4L247 93L247.8 90.7L248.3 88.6L248.2 86.9L247.5 85.6Z" fill="#b4b4b4" stroke="#6e6e6e" stroke-width="1.7" stroke-linejoin="round"/>
<path d="M255.4 93.8L255.3 94.2L254.6 95.2L253.6 96.7L252.4 98.6L251.1 100.9L250 103.2L249.1 105.5L248.7 107.6L248.8 109.4L249.5 110.7L252.7 114L252.8 113.5L253.4 112.6L254.4 111.1L255.7 109.1L257 106.9L258.1 104.5L259 102.2L259.4 100.1L259.3 98.4L258.6 97.1Z" fill="#b4b4b4" stroke="#6e6e6e" stroke-width="1.7" stroke-linejoin="round"/>
<path d="M266.5 105.3L266.4 105.7L265.8 106.7L264.8 108.2L263.5 110.1L262.2 112.4L261.1 114.7L260.2 117L259.8 119.1L259.9 120.9L260.6 122.2L263.8 125.5L263.9 125L264.6 124.1L265.6 122.6L266.8 120.6L268.1 118.4L269.2 116L270.1 113.7L270.5 111.6L270.4 109.9L269.7 108.6Z" fill="#b4b4b4" stroke="#6e6e6e" stroke-width="1.7" stroke-linejoin="round"/>
<path d="M217.6 43C217 43.9 215.4 47.7 214.2 48.3C213 48.9 212.3 47.5 210.4 46.6C208.5 45.7 205.2 43.2 202.9 42.8C200.6 42.4 198.2 42.8 196.6 44.3C195 45.8 193.9 49.4 193.6 51.7C193.3 54 194 56.3 194.7 58C195.4 59.7 196.7 60.2 197.8 61.7C199 63.2 201.7 65.2 201.6 66.8C201.5 68.3 197.8 70.3 197 71" fill="none" stroke="#6e6e6e" stroke-width="5.2" stroke-linecap="round" stroke-linejoin="round"/>
<path d="M217.6 43C217 43.9 215.4 47.7 214.2 48.3C213 48.9 212.3 47.5 210.4 46.6C208.5 45.7 205.2 43.2 202.9 42.8C200.6 42.4 198.2 42.8 196.6 44.3C195 45.8 193.9 49.4 193.6 51.7C193.3 54 194 56.3 194.7 58C195.4 59.7 196.7 60.2 197.8 61.7C199 63.2 201.7 65.2 201.6 66.8C201.5 68.3 197.8 70.3 197 71" fill="none" stroke="#9c9c9c" stroke-width="2.8" stroke-linecap="round" stroke-linejoin="round"/>
</g><g id="cp">
<ellipse cx="208" cy="36" rx="19" ry="15" fill="#e9a0dc" fill-opacity="0.55"/>
<path d="M195.6 43.5C195.6 42.8 195.2 40.5 195.6 39C196 37.5 197 35.8 198 34.5C199 33.2 200.3 32.3 201.6 31.5C202.9 30.7 204.5 30.1 206 29.6C207.5 29.1 208.8 28.6 210.4 28.5C212 28.4 214.1 28.4 215.3 29.2C216.5 30 217.3 32 217.8 33.5C218.3 35 218.3 36.3 218.3 38C218.3 39.7 218.1 42.7 218 43.6" fill="none" stroke="#c63cb0" stroke-width="4.2" stroke-linecap="round"/>
<path d="M215.8 30.4L219.4 33.2L221.8 25.8L225.6 25.2L227.6 22.6" fill="none" stroke="#c63cb0" stroke-width="3.2" stroke-linejoin="round"/>
<path d="M227.4 24L228.2 21.3" stroke="#4a55a8" stroke-width="2"/>
<path d="M209.4 29.5L209.4 34.6" stroke="#c0303a" stroke-width="1.6"/>
</g></defs>
<filter id="soft" x="-5%" y="-5%" width="110%" height="110%"><feGaussianBlur stdDeviation="0.4"/></filter><g filter="url(#soft)">
<path d="M533.3 126C534.2 127.4 534.6 128.8 535.1 130.3C535.6 131.7 535.9 133.2 536.3 134.7C536.8 136.2 537.6 137.8 537.7 139.2C537.7 140.7 537.5 142.2 536.6 143.5C535.8 144.9 533.7 145.9 532.6 147.2C531.5 148.4 530.3 149.5 530 150.9C529.7 152.3 530.7 154 531 155.6C531.2 157.1 531.9 158.9 531.4 160.3C531 161.6 529.4 162.7 528.2 163.7C527 164.8 525.1 165.5 524.2 166.6C523.2 167.7 522.9 169.1 522.5 170.4C522 171.8 522 173.3 521.6 174.7C521.1 176 520.3 177.2 519.8 178.5C519.2 179.9 518.7 181.2 518.2 182.6C517.7 184 517.6 185.7 516.7 186.8C515.8 188 514.5 188.8 512.9 189.3C511.3 189.8 508.7 189.5 507 189.9C505.3 190.2 503.7 190.5 502.7 191.5C501.7 192.4 501.7 194.3 501 195.5C500.3 196.7 499.7 198.1 498.5 198.8C497.3 199.4 495.2 199.2 493.6 199.3C492 199.4 490.1 199.1 488.8 199.5C487.5 200 486.7 200.9 485.7 201.8C484.7 202.7 484 203.9 483.1 204.9C482.1 205.9 481.1 206.6 480.2 207.8C479.4 209 478.7 210.5 478 212C477.2 213.5 476.7 215.6 475.7 216.8C474.7 217.9 473.4 218.5 472 218.7C470.6 219 468.7 218.1 467.4 218.4C466 218.6 464.7 219.2 463.6 220.3C462.5 221.4 461.8 223.7 460.6 225C459.5 226.2 458.3 227.4 456.9 227.7C455.4 228 453.7 227 452.2 226.7C450.7 226.3 449.1 225.5 447.7 225.4C446.2 225.2 444.9 225.7 443.5 225.8C442.1 226 440.7 226.1 439.3 226.2C437.9 226.4 436.5 226.2 435.1 226.6C433.7 227 432.3 228 430.8 228.7C429.4 229.4 427.9 230.7 426.4 230.9C424.9 231 423.5 230.3 422.1 229.5C420.8 228.7 419.6 226.8 418.2 226.2C416.9 225.5 415.5 225.5 414 225.7C412.5 225.9 410.7 227.4 409.2 227.5C407.7 227.7 406.1 227.6 404.9 226.8C403.6 225.9 402.7 223.9 401.6 222.5C400.6 221.1 399.7 219.5 398.7 218.3C397.7 217.1 396.5 216.3 395.5 215.2C394.5 214.1 393.6 212.9 392.6 211.8C391.7 210.7 390.9 209.5 389.7 208.9C388.5 208.2 387 208.4 385.6 208.1C384.2 207.9 382.5 208.1 381.4 207.4C380.2 206.7 379.6 205.1 378.9 203.9C378.2 202.6 378 200.6 377 199.7C376 198.9 374.5 198.8 372.9 198.7C371.2 198.6 368.7 199.5 366.9 199.4C365.2 199.2 363.7 198.7 362.6 197.9C361.5 197.1 361.1 195.5 360.3 194.3C359.5 193.1 358.7 192 357.9 190.9C357 189.8 355.9 188.9 355.2 187.7C354.4 186.5 354 185.1 353.4 183.9C352.7 182.6 352.2 181.4 351.1 180.4C350 179.5 348.2 179 346.9 178.2C345.6 177.3 343.9 176.6 343.2 175.3C342.6 174.1 343 172.3 342.9 170.7C342.9 169.2 343.6 167.3 343 166.1C342.4 164.8 340.9 164 339.4 163C338 162.1 335.4 161.5 334.1 160.4C332.7 159.4 331.8 158.1 331.3 156.7C330.7 155.3 331 153.7 330.9 152.2C330.7 150.7 330.4 149.3 330.3 147.8C330.2 146.4 330 144.9 330.3 143.4C330.5 141.9 331.4 140.3 331.8 138.8C332.2 137.3 332.7 135.8 332.7 134.4C332.6 133 331.6 131.7 331.5 130.3C331.3 128.9 331.1 127.4 331.9 126C332.8 124.6 335 123.2 336.4 121.9C337.8 120.7 339.8 119.5 340.4 118.2C341 116.9 340.5 115.6 340.1 114.3C339.7 112.9 338.4 111.3 338.1 109.9C337.8 108.5 338 107.2 338.2 105.9C338.5 104.5 339.2 103.3 339.5 102C339.9 100.7 339.8 99.3 340.1 98C340.4 96.6 340.7 95.3 341.3 94.1C341.9 92.8 343.1 91.9 343.6 90.6C344.2 89.4 344.5 88.1 344.5 86.6C344.5 85.1 343.6 83.2 343.7 81.7C343.8 80.2 344.1 78.7 345.2 77.7C346.2 76.7 348.6 76.5 350.1 75.8C351.6 75.1 353.5 74.8 354.3 73.7C355.2 72.7 355 71 355.1 69.4C355.3 67.8 354.9 65.8 355.2 64.3C355.5 62.8 356.3 61.7 357 60.4C357.7 59.1 358.6 58.1 359.3 56.8C360 55.5 360.4 53.9 361.1 52.6C361.9 51.4 362.8 50.2 363.9 49.3C364.9 48.3 366.5 47.8 367.4 46.8C368.4 45.7 369.1 44.3 369.8 42.7C370.5 41.2 370.6 38.8 371.5 37.5C372.4 36.2 373.7 35.3 375.3 35.1C376.9 34.9 379.4 36.1 381.3 36.5C383.2 36.9 385.2 37.6 386.7 37.5C388.2 37.3 389.2 36.2 390.4 35.5C391.7 34.8 392.8 33.8 394.1 33.4C395.4 33 397 33.3 398.5 33.2C399.9 33.1 401.4 33.1 402.7 32.8C404.1 32.6 405.3 32 406.7 31.9C408.1 31.8 409.6 32 411 32.1C412.4 32.3 413.9 33 415.2 32.7C416.5 32.4 417.6 31.3 418.9 30.3C420.1 29.2 421.2 27 422.5 26.3C423.8 25.6 425.3 25.4 426.7 25.9C428.1 26.4 429.6 28.4 431 29.3C432.4 30.2 433.6 31.2 435 31.4C436.3 31.6 437.7 30.7 439 30.5C440.4 30.3 441.8 29.9 443.1 30C444.4 30.1 445.7 30.8 447 31.1C448.3 31.4 449.6 31.6 451 31.7C452.3 31.8 453.8 31.6 455.1 32C456.4 32.3 457.5 33.2 458.8 33.7C460 34.2 461.1 35.2 462.5 35.1C464 35 465.8 33.9 467.6 33C469.4 32.2 471.7 30.3 473.4 29.9C475.1 29.5 476.6 29.8 477.9 30.6C479.2 31.3 479.8 33.3 480.9 34.3C482 35.4 483.1 36.3 484.5 36.8C485.9 37.3 487.7 37.1 489.1 37.6C490.5 38 491.9 38.7 493.1 39.5C494.2 40.4 495 41.9 496 42.9C497 44 498.1 45 499.1 46.1C500 47.3 501 48.3 501.6 49.8C502.1 51.3 502.1 53.4 502.5 55.1C502.8 56.7 502.8 58.5 503.7 59.6C504.6 60.6 506.3 60.9 507.9 61.4C509.4 61.9 511.7 61.8 512.9 62.7C514.1 63.5 514.6 65 514.9 66.5C515.3 67.9 514.7 70.1 514.9 71.6C515.2 73.1 515.8 74.3 516.5 75.4C517.3 76.5 518.8 77.3 519.7 78.4C520.5 79.5 521.1 80.7 521.6 82C522.1 83.3 522.2 84.8 522.7 86.1C523.1 87.4 523.8 88.6 524.1 89.9C524.3 91.3 524.6 92.7 524.2 94.2C523.9 95.8 522.6 97.6 522.1 99.1C521.6 100.6 520.9 102.1 521.3 103.3C521.7 104.6 523.5 105.4 524.7 106.5C526 107.6 528.1 108.6 528.8 109.8C529.6 111 529.5 112.5 529.4 113.8C529.4 115.2 528.4 116.6 528.6 118C528.7 119.3 529.5 120.6 530.3 121.9C531 123.3 532.5 124.6 533.3 126Z" fill="#f3f3f3" stroke="#acacac" stroke-width="1.1"/>
<path d="M522.3 126C522.5 127.3 523.5 128.5 524.8 129.8C526 131.2 528.4 132.7 529.7 134.1C530.9 135.6 532.1 137.1 532.4 138.6C532.7 140 532 141.3 531.6 142.7C531.2 144 530.5 145.3 530.1 146.6C529.8 148 529.9 149.5 529.6 150.8C529.2 152.1 528.8 153.5 527.9 154.7C527 155.8 525.4 156.7 524.4 157.8C523.3 158.9 522.1 159.8 521.6 161.1C521.1 162.3 521.5 163.9 521.4 165.3C521.2 166.8 521.6 168.5 521 169.7C520.4 170.9 519.1 171.8 517.9 172.7C516.7 173.5 514.8 174 513.7 174.9C512.6 175.8 511.9 176.8 511.3 178C510.8 179.3 510.8 180.9 510.3 182.1C509.7 183.4 508.9 184.5 507.9 185.4C506.9 186.3 505.4 186.7 504.3 187.5C503.2 188.3 502.2 189.2 501.3 190.2C500.4 191.1 500 192.5 498.9 193.3C497.8 194 496.4 194.5 494.8 194.6C493.2 194.7 490.9 194 489.2 193.9C487.5 193.8 485.8 193.6 484.8 194.2C483.7 194.8 483.3 196.3 482.8 197.6C482.3 199 482.1 201.1 481.5 202.5C481 203.9 480.1 205 479.3 206.2C478.5 207.3 477.4 208.2 476.6 209.3C475.7 210.5 475 212.1 474 213.2C473.1 214.3 472.1 215.6 470.8 215.9C469.5 216.2 467.7 215.6 466.1 215.1C464.5 214.6 462.7 213.1 461.2 212.8C459.7 212.5 458.5 212.5 457.3 213.2C456.2 213.9 455.4 215.6 454.3 216.8C453.2 218 452.2 219.3 451 220.2C449.8 221 448.4 221.3 447.2 222C445.9 222.7 444.6 223.3 443.3 224.2C442 225 440.7 226.4 439.4 227C438 227.6 436.5 227.9 435.1 227.6C433.7 227.2 432.3 225.8 430.9 224.9C429.6 224 428.3 222.7 426.9 222.3C425.6 221.9 424.2 222.3 422.9 222.4C421.5 222.5 420 223.2 418.7 223C417.3 222.8 416.1 221.9 414.9 221.1C413.7 220.2 412.6 218.7 411.5 217.8C410.3 217 409.1 216.6 407.8 216.2C406.6 215.8 405.1 216 403.9 215.6C402.7 215.2 401.5 214.4 400.4 213.6C399.3 212.8 398.5 211.4 397.4 210.7C396.2 210.1 395 209.9 393.6 209.8C392.1 209.8 390.3 210.6 388.9 210.4C387.5 210.2 386.1 209.9 385.2 208.8C384.3 207.7 384 205.7 383.5 204C383 202.4 382.8 200.4 382.2 199C381.6 197.7 380.7 196.9 379.8 196C379 195.2 377.8 194.6 376.9 193.8C376 193 375.3 191.9 374.3 191.2C373.3 190.5 372.3 189.8 370.7 189.6C369.1 189.4 366.8 190 364.8 190C362.8 190.1 360.3 190.6 358.7 190.1C357.2 189.7 356.2 188.6 355.6 187.3C355 186.1 355.3 184.1 355.1 182.6C354.9 181.1 354.7 179.6 354.2 178.3C353.7 177.1 352.7 176.2 352.1 175C351.4 173.9 350.8 172.7 350.4 171.4C349.9 170.2 349.9 168.7 349.2 167.6C348.4 166.5 347.4 165.6 346.1 164.7C344.7 163.8 342.4 163.4 340.9 162.5C339.5 161.6 337.9 160.6 337.3 159.3C336.7 158.1 337.1 156.4 337.2 154.9C337.3 153.4 338.1 151.8 338 150.4C338 149 337.4 147.7 337 146.4C336.6 145.1 335.7 143.8 335.6 142.5C335.6 141.1 336.1 139.6 336.5 138.2C336.9 136.8 337.9 135.3 338.3 134C338.6 132.6 338.5 131.3 338.5 130C338.4 128.6 337.9 127.3 338.2 126C338.4 124.7 339.3 123.4 340.1 122.1C341 120.9 342.8 119.7 343.4 118.5C344.1 117.3 344.4 116.1 344.2 114.8C343.9 113.5 342.6 112 342 110.6C341.4 109.2 340.5 107.7 340.5 106.3C340.5 105 341.3 103.8 341.9 102.6C342.5 101.4 343.4 100.3 344 99.1C344.6 98 344.8 96.6 345.5 95.5C346.2 94.4 346.9 93.3 348.1 92.4C349.3 91.5 351.4 91 352.7 90.2C354 89.5 355.6 88.9 356 87.8C356.5 86.7 356 85.1 355.5 83.4C355 81.7 353.6 79.4 353.2 77.6C352.7 75.8 352.5 74.1 352.6 72.6C352.8 71.1 353.7 70 354.2 68.8C354.8 67.5 355.3 66.2 355.9 64.9C356.5 63.6 356.9 62.1 357.9 61.2C358.9 60.2 360.3 59.6 361.8 59.2C363.3 58.7 365.5 59 366.9 58.5C368.4 58.1 369.6 57.6 370.4 56.5C371.2 55.4 371.2 53.4 371.7 51.9C372.2 50.4 372.5 48.5 373.3 47.4C374.2 46.2 375.5 45.7 376.7 45C377.9 44.4 379.4 44.1 380.5 43.4C381.7 42.6 382.6 41.4 383.7 40.5C384.7 39.6 385.7 38.5 387 38C388.3 37.5 389.9 37.7 391.4 37.7C392.9 37.7 394.6 38.2 396 38C397.4 37.8 398.5 37 399.7 36.4C400.9 35.8 401.9 34.5 403.2 34.2C404.5 33.9 406 34.1 407.5 34.7C409 35.2 410.8 36.8 412.2 37.5C413.7 38.2 415.1 38.9 416.4 38.9C417.7 38.9 418.7 38 419.9 37.5C421.1 37 422.3 36.2 423.5 35.9C424.8 35.6 426 35.7 427.3 35.4C428.6 35.1 429.8 34.7 431.1 33.9C432.4 33.2 433.7 31.7 435 31.1C436.3 30.5 437.7 29.8 439 30.3C440.3 30.7 441.5 32.3 442.7 33.6C443.9 34.9 444.9 37 446 38C447.1 39 448.2 39.4 449.5 39.5C450.8 39.6 452.2 38.9 453.5 38.6C454.8 38.4 456.2 38.2 457.6 38C458.9 37.8 460.2 37.9 461.8 37.5C463.3 37.1 465 36.1 466.7 35.4C468.4 34.6 470.5 33.3 472 33.2C473.6 33 475 33.4 476.1 34.4C477.2 35.3 477.8 37.4 478.6 38.8C479.4 40.2 480 41.8 481.1 42.7C482.1 43.7 483.5 43.9 484.8 44.4C486 45 487.4 45.3 488.6 46.1C489.7 46.8 490.4 48.1 491.4 49.1C492.3 50.1 493.1 51.2 494.3 51.9C495.5 52.6 497.1 52.7 498.4 53.3C499.8 53.9 501.3 54.3 502.3 55.3C503.2 56.3 503.5 57.9 504 59.3C504.4 60.8 504.3 62.7 504.9 63.9C505.5 65.2 506.6 66 507.6 66.8C508.7 67.7 510.5 68.1 511.4 69C512.4 70 513.1 71.2 513.3 72.6C513.6 74 513.1 76 513 77.5C513 79.1 512.8 80.6 513 82C513.2 83.4 513.9 84.4 514.2 85.7C514.4 87 514.6 88.3 514.5 89.7C514.5 91.1 513.8 92.7 514 93.9C514.2 95.2 514.6 96.3 515.7 97.2C516.8 98.1 519 98.7 520.7 99.5C522.3 100.4 524.5 101.2 525.5 102.3C526.5 103.3 526.7 104.7 526.7 106.1C526.7 107.4 525.9 109 525.6 110.3C525.4 111.7 525.3 113 525.2 114.3C525.1 115.7 525.3 117 525 118.3C524.7 119.6 523.8 120.9 523.4 122.2C522.9 123.5 522 124.7 522.3 126Z" fill="#8c8c8c" fill-opacity="0.04" stroke="#b4b4b4" stroke-width="0.8"/>
<path d="M522.6 126C522.6 127.2 521.8 128.5 521.3 129.7C520.8 130.9 519.8 132.1 519.6 133.3C519.5 134.5 519.7 135.7 520.3 137C520.9 138.4 522.3 139.8 523.2 141.3C524 142.7 525.1 144.2 525.4 145.6C525.8 147.1 525.6 148.4 525.2 149.7C524.8 150.9 523.9 152.1 523 153.2C522.2 154.3 521 155.3 520 156.3C518.9 157.3 517.6 158.2 516.5 159.1C515.4 160 514.2 160.8 513.4 161.8C512.6 162.8 512.1 163.9 511.9 165.2C511.7 166.5 512.2 168.1 512.3 169.6C512.5 171.2 513.2 173 512.9 174.4C512.6 175.7 512 176.9 510.7 177.7C509.5 178.4 507.4 178.5 505.7 178.8C503.9 179.1 501.7 178.9 500.4 179.4C499 179.9 498.1 180.6 497.4 181.6C496.7 182.5 496.7 184.1 496 185.2C495.4 186.2 494.8 187.4 493.7 187.9C492.6 188.5 490.8 188.5 489.5 188.7C488.1 188.9 486.4 188.7 485.5 189.4C484.5 190.1 484 191.3 483.6 192.7C483.2 194.2 483.5 196.5 483.1 198.1C482.7 199.7 482.3 201.4 481.3 202.1C480.3 202.8 478.6 202.6 477.1 202.3C475.5 202.1 473.5 200.8 471.9 200.5C470.4 200.1 469 199.8 467.9 200.3C466.9 200.7 466.2 202 465.5 203.2C464.7 204.4 464.2 206.3 463.4 207.7C462.6 209.1 461.8 210.5 460.8 211.6C459.8 212.7 458.8 213.5 457.6 214.2C456.5 215 455.3 215.6 454.1 216C452.9 216.4 451.6 216.6 450.3 216.6C449 216.6 447.6 216.1 446.3 215.9C444.9 215.6 443.6 215.1 442.4 215C441.1 215 439.9 215.2 438.6 215.7C437.4 216.1 436.2 217.1 434.9 217.5C433.7 218 432.3 218.5 431.1 218.5C429.8 218.5 428.5 217.9 427.2 217.5C426 217.2 424.8 216.5 423.5 216.4C422.2 216.3 420.9 216.7 419.6 217.1C418.2 217.4 416.7 218.5 415.4 218.5C414 218.4 412.7 218.1 411.7 217C410.6 215.8 409.9 213.4 409.1 211.5C408.4 209.6 408 206.8 407.2 205.5C406.4 204.1 405.5 203.4 404.2 203.4C402.9 203.4 401.2 204.8 399.6 205.5C398 206.2 396 207.5 394.6 207.6C393.2 207.7 392 207 391.2 206C390.3 205 390 202.9 389.5 201.4C388.9 199.9 388.6 198.2 387.9 197.1C387.2 196 386.2 195.4 385.2 194.7C384.3 194.1 383 193.8 382 193.1C381.1 192.5 380.2 191.7 379.3 190.9C378.4 190.2 377.7 189.2 376.8 188.5C375.8 187.7 374.8 187.2 373.6 186.7C372.4 186.2 370.9 186 369.6 185.5C368.4 185 367 184.6 365.9 183.9C364.7 183.3 363.8 182.5 362.8 181.6C361.9 180.8 361 179.9 360.2 178.9C359.3 178 358.4 177.1 357.8 176C357.1 174.9 356.7 173.7 356.4 172.4C356.1 171.1 356.4 169.5 356.2 168.2C356 166.9 356 165.6 355.1 164.6C354.3 163.7 352.8 163.1 351.1 162.5C349.4 161.8 346.7 161.6 345 160.8C343.3 160.1 341.4 159.3 340.8 158.1C340.2 156.9 340.8 155.2 341.5 153.6C342.3 152 344.3 150.1 345.2 148.5C346.2 147 347.1 145.5 347.2 144.2C347.2 143 346.1 142 345.4 140.8C344.6 139.7 343.1 138.6 342.6 137.4C342.2 136.2 342.1 134.9 342.4 133.6C342.7 132.3 343.9 131 344.4 129.7C344.9 128.4 345.5 127.2 345.5 126C345.5 124.8 344.7 123.5 344.3 122.3C343.9 121 343.1 119.7 343.1 118.5C343.2 117.2 343.7 116 344.6 114.8C345.5 113.7 347.3 112.7 348.5 111.7C349.8 110.7 351.3 109.8 352.2 108.8C353 107.8 353.5 106.8 353.7 105.6C353.9 104.5 353.7 103.3 353.5 102C353.3 100.7 353 99.4 352.7 98C352.4 96.7 352 95.3 351.9 93.9C351.7 92.5 351.4 91 351.6 89.8C351.8 88.5 352.3 87.3 353.2 86.4C354.2 85.5 355.8 84.9 357.1 84.3C358.5 83.7 360.4 83.4 361.4 82.6C362.4 81.9 363.1 81 363.2 79.6C363.4 78.3 362.6 76.4 362.4 74.7C362.1 73 361.4 70.8 361.6 69.4C361.7 67.9 362.4 66.8 363.3 65.9C364.2 64.9 365.9 64.7 366.9 63.9C368 63.2 369.1 62.5 369.7 61.4C370.4 60.3 370.5 58.5 370.9 57.1C371.4 55.7 371.6 53.9 372.6 52.9C373.5 52 375 51.7 376.6 51.6C378.1 51.6 380.4 52.5 382 52.7C383.7 52.8 385.3 53.2 386.4 52.6C387.5 52 387.9 50.5 388.5 49C389.1 47.5 389.2 45 389.9 43.5C390.6 42 391.4 40.6 392.5 40C393.7 39.4 395.3 39.6 396.8 39.9C398.3 40.2 400.1 41.2 401.7 41.7C403.2 42.2 404.7 42.8 406.1 43.1C407.5 43.5 408.7 43.6 410 43.7C411.3 43.7 412.5 43.7 413.7 43.6C414.8 43.4 416 43.1 417.1 42.6C418.2 42.1 419.3 41.3 420.4 40.6C421.5 40 422.7 39.2 423.8 38.9C425 38.6 426.3 38.6 427.5 38.9C428.7 39.2 430 40 431.2 40.5C432.4 40.9 433.6 41.4 434.8 41.4C436 41.5 437.2 41 438.4 40.8C439.6 40.6 440.8 40.1 442 40.2C443.2 40.4 444.3 41.2 445.4 41.9C446.5 42.6 447.4 44 448.6 44.5C449.7 44.9 450.7 45.2 452.1 44.6C453.5 44 455.1 42.2 456.8 40.9C458.4 39.7 460.4 37.6 461.9 37C463.4 36.5 464.9 36.5 465.9 37.4C467 38.3 467.5 40.6 468.2 42.3C468.9 43.9 469.2 46.2 470 47.3C470.9 48.5 471.9 48.9 473.2 49C474.6 49.1 476.4 48.3 478 48C479.6 47.8 481.4 47.4 482.8 47.6C484.2 47.8 485.3 48.5 486.3 49.3C487.4 50 488.2 51.2 489.1 52.1C490.1 52.9 491.2 53.7 492.2 54.5C493.2 55.3 494.4 55.9 495.3 56.8C496.2 57.8 496.9 58.9 497.5 60.1C498.1 61.4 498.3 62.9 498.7 64.3C499.2 65.6 499.5 67 499.9 68.2C500.4 69.4 501 70.5 501.6 71.6C502.2 72.7 502.8 73.8 503.4 74.8C504 75.9 504.5 77 505.3 78C506 78.9 506.9 79.8 507.9 80.6C508.9 81.5 510.4 82 511.4 82.9C512.4 83.8 513.5 84.6 513.8 85.9C514 87.1 513.6 88.8 512.9 90.4C512.2 92 510.5 94.1 509.7 95.7C508.8 97.2 507.8 98.7 508.1 99.9C508.3 101 509.6 101.7 511.1 102.4C512.5 103.2 515.2 103.7 516.8 104.5C518.3 105.3 519.9 106.3 520.4 107.4C520.9 108.6 520.4 110 520 111.3C519.7 112.6 518.5 114 518.4 115.2C518.2 116.5 518.4 117.6 518.9 118.8C519.4 120 520.8 121.1 521.4 122.3C522 123.5 522.7 124.8 522.6 126Z" fill="#8c8c8c" fill-opacity="0.04" stroke="#b8b8b8" stroke-width="0.8"/>
<path d="M527.3 126C527.9 127.3 527.9 128.7 527 129.9C526.2 131.2 523.6 132.3 522.2 133.5C520.7 134.6 518.7 135.6 518.3 136.8C517.9 138 518.8 139.2 519.7 140.7C520.7 142.1 523.1 143.8 524.1 145.4C525.2 146.9 526.1 148.5 525.9 149.9C525.8 151.2 524.4 152.2 523.4 153.3C522.5 154.4 520.8 155.2 520.3 156.4C519.7 157.6 519.9 159 520.1 160.5C520.4 162 521.6 164 521.9 165.6C522.1 167.1 522.2 168.8 521.5 169.9C520.8 171.1 519 171.8 517.4 172.4C515.9 173.1 513.6 173.3 511.9 173.8C510.3 174.3 508.8 174.9 507.6 175.6C506.5 176.3 505.8 177.3 504.9 178.2C504 179.1 503.2 180.1 502.2 180.8C501.2 181.6 500 182.3 498.9 182.9C497.8 183.6 496.6 184.1 495.6 184.8C494.6 185.5 493.6 186.2 492.7 186.9C491.8 187.7 490.9 188.5 490.1 189.4C489.3 190.4 488.6 191.3 488 192.5C487.4 193.7 487 195 486.4 196.4C485.9 197.7 485.6 199.4 484.8 200.6C484.1 201.7 483.3 202.8 482.1 203.4C481 203.9 479.4 203.8 477.9 203.8C476.5 203.9 474.9 203.4 473.6 203.6C472.3 203.9 471.3 204.5 470.4 205.4C469.4 206.3 468.9 208.1 467.9 209.1C467 210.1 466 211.3 464.8 211.5C463.5 211.7 461.9 210.9 460.4 210.3C458.9 209.8 457.2 208.3 456 208.2C454.7 208.2 453.6 208.6 452.7 209.9C451.7 211.2 451.1 214 450.2 215.9C449.2 217.8 448.3 220.4 447.1 221.4C445.9 222.4 444.5 222.3 443.1 221.9C441.7 221.6 440.2 219.8 438.9 219.3C437.5 218.8 436.3 218.4 434.9 218.9C433.6 219.5 432.3 221.6 431 222.8C429.6 224 428.1 225.9 426.7 226.1C425.3 226.3 423.9 225.4 422.7 223.9C421.5 222.4 420.5 219.3 419.5 217.3C418.5 215.4 417.6 213.2 416.5 212.3C415.4 211.5 414.1 211.9 412.8 212.2C411.5 212.4 409.8 213.7 408.5 213.7C407.2 213.7 406 213.2 405 212.2C404 211.2 403.4 209 402.6 207.7C401.8 206.3 401.2 204.7 400.2 204.1C399.1 203.5 397.7 203.9 396.2 204.1C394.7 204.4 392.8 205.6 391.3 205.8C389.8 206 388.2 206.1 387.1 205.6C385.9 205 385.2 203.7 384.4 202.6C383.6 201.5 383.1 200 382.3 198.9C381.6 197.8 380.7 196.9 379.8 196.1C378.9 195.2 377.8 194.6 376.9 193.8C375.9 193.1 375 192.2 374.2 191.3C373.4 190.4 372.7 189.4 371.9 188.4C371.2 187.4 370.5 186.3 369.9 185.3C369.2 184.3 368.6 183.2 367.9 182.2C367.2 181.2 366.6 180.2 365.7 179.3C364.8 178.5 363.9 177.7 362.6 177.2C361.3 176.6 359.5 176.4 357.8 176C356.1 175.6 353.9 175.4 352.4 174.8C351 174.2 349.6 173.3 348.9 172.2C348.1 171.1 348.2 169.6 347.9 168.2C347.7 166.9 347.8 165.4 347.2 164.2C346.6 163 345.4 162.1 344.2 161.2C343 160.2 340.9 159.5 340.1 158.4C339.2 157.2 338.6 155.9 339 154.4C339.4 152.9 341.2 150.9 342.4 149.3C343.7 147.6 345.9 145.8 346.5 144.4C347.2 142.9 347.1 141.8 346.4 140.6C345.7 139.5 343.5 138.6 342.4 137.4C341.3 136.3 340 135.1 340 133.8C339.9 132.5 341.3 131.1 342.3 129.8C343.4 128.5 345.6 127.2 346.2 126C346.8 124.8 346.8 123.6 346.1 122.4C345.3 121.1 342.9 119.7 341.7 118.3C340.5 117 338.7 115.4 338.6 114.1C338.6 112.8 339.8 111.5 341.2 110.5C342.6 109.4 345.5 108.7 347 107.7C348.6 106.8 350 106 350.5 104.8C351 103.7 350.3 102.3 350 101C349.8 99.6 349 98 349.3 96.8C349.5 95.7 350.6 94.7 351.8 93.8C353 93 355.2 92.6 356.4 91.9C357.7 91.2 358.9 90.5 359.3 89.4C359.7 88.3 359.1 86.8 358.8 85.2C358.4 83.6 357.4 81.6 357 80C356.7 78.4 356.6 76.7 356.8 75.4C357 74 357.8 72.9 358.4 71.8C358.9 70.6 359.7 69.6 360.3 68.4C360.9 67.2 361.3 65.9 361.9 64.6C362.4 63.3 362.9 62 363.6 60.8C364.3 59.6 365.1 58.5 366 57.5C366.9 56.6 367.8 55.6 369 54.9C370.1 54.1 371.2 53.4 372.6 53C373.9 52.5 375.5 52.3 376.9 52.2C378.4 52 380.1 52.2 381.5 51.9C382.8 51.6 384.1 51.3 385.1 50.5C386.1 49.7 386.6 48.2 387.4 47C388.2 45.8 388.7 44.1 389.7 43.2C390.7 42.2 391.9 41.7 393.3 41.5C394.6 41.4 396.4 42.1 397.8 42.2C399.2 42.2 400.5 42.4 401.7 41.7C402.8 41.1 403.5 39.4 404.4 38.1C405.4 36.8 406.1 34.6 407.3 33.8C408.4 33.1 409.8 32.9 411.3 33.6C412.8 34.3 414.7 36.6 416.2 38C417.8 39.5 419.3 41.6 420.6 42.3C422 42.9 423 42.5 424.2 41.8C425.3 41.2 426.3 39.2 427.5 38.5C428.7 37.9 429.9 37.4 431.2 37.9C432.4 38.4 433.6 40.5 434.8 41.7C435.9 43 436.9 45 438.1 45.4C439.2 45.7 440.3 45 441.6 43.8C443 42.6 444.5 39.7 446 38.2C447.4 36.6 449.1 34.9 450.5 34.5C451.8 34.1 453 35.1 454.1 35.9C455.3 36.6 456.1 38.6 457.2 39.2C458.4 39.9 459.5 40.2 461 40C462.4 39.8 464.2 38.4 465.7 37.9C467.3 37.5 469.1 36.8 470.3 37.2C471.6 37.6 472.5 38.9 473.3 40.3C474.1 41.6 474.5 43.9 475.2 45.3C475.9 46.7 476.6 48 477.6 48.7C478.6 49.5 480.1 49.5 481.4 49.7C482.7 50 484.4 49.9 485.7 50.2C487 50.6 488.2 51.1 489.3 51.8C490.4 52.5 491.3 53.5 492.3 54.3C493.3 55.1 494.3 56 495.3 56.8C496.4 57.5 497.5 58.2 498.6 59C499.7 59.7 500.8 60.5 501.9 61.3C502.9 62.1 504 63 504.9 63.9C505.9 64.8 506.9 65.7 507.6 66.8C508.3 68 508.9 69.2 509.1 70.7C509.3 72.2 508.9 74 508.6 75.8C508.3 77.5 507.5 79.4 507.3 81C507.2 82.5 507.1 83.9 507.6 85C508.1 86.1 509.3 86.8 510.1 87.7C511 88.6 512.2 89.4 512.6 90.5C513 91.7 512.8 93.1 512.6 94.5C512.3 95.9 511.1 97.5 511.1 98.8C511 100.1 511.2 101.1 512.3 102C513.5 102.9 515.9 103.4 517.8 104.2C519.7 105 522.5 105.7 523.7 106.7C524.9 107.8 525.2 109.1 524.9 110.4C524.7 111.8 522.8 113.4 522.1 114.7C521.3 116.1 520.2 117.4 520.4 118.7C520.6 119.9 522.1 121 523.3 122.2C524.4 123.4 526.7 124.7 527.3 126Z" fill="none" stroke="#8e8e8e" stroke-width="1.1"/>
<path d="M526.8 126C526.6 127.3 526.6 128.6 526.5 129.9C526.4 131.2 525.9 132.5 526 133.8C526.1 135.1 526.2 136.4 527 137.9C527.7 139.3 529.5 140.9 530.6 142.5C531.6 144.1 533.3 145.9 533.5 147.4C533.8 148.9 533.1 150.2 532.2 151.5C531.3 152.7 529.1 153.6 528.1 154.7C527.1 155.9 526.3 157 526.1 158.4C525.9 159.8 526.8 161.6 526.8 163.1C526.7 164.6 526.8 166.3 525.9 167.4C525 168.5 523 169.1 521.3 169.8C519.6 170.5 517.3 170.8 515.8 171.5C514.4 172.3 513.4 173.2 512.6 174.2C511.8 175.3 511.6 176.7 511.1 177.9C510.5 179.1 509.9 180.3 509.4 181.5C508.8 182.7 508.2 183.9 507.7 185.2C507.2 186.5 507 188.1 506.4 189.3C505.7 190.5 505 191.8 503.8 192.4C502.5 193.1 500.5 193.1 498.9 193.3C497.3 193.5 495.2 193.2 494 193.7C492.7 194.2 492 195.3 491.3 196.4C490.5 197.6 490.5 199.6 489.6 200.5C488.7 201.5 487.5 202.2 486 202.3C484.6 202.4 482.3 201.4 480.7 201.2C479.1 201.1 477.5 200.6 476.5 201.3C475.4 202 475.1 203.7 474.5 205.4C473.9 207 473.7 209.4 473 211C472.3 212.5 471.4 213.8 470.3 214.8C469.3 215.8 468.1 216.4 466.9 217.1C465.7 217.8 464.5 218.7 463.3 219.3C462.1 219.9 460.8 220.5 459.4 220.7C458.1 220.9 456.6 220.5 455.2 220.5C453.8 220.5 452.4 220.3 451.1 220.7C449.8 221.1 448.6 222.3 447.3 223C446.1 223.8 444.8 225 443.4 225.1C442.1 225.2 440.6 224.4 439.1 223.7C437.7 223 436.3 221.2 435 220.7C433.6 220.3 432.4 220.4 431 221.2C429.6 222 428.2 224.3 426.7 225.5C425.3 226.8 423.7 228.3 422.2 228.6C420.8 228.8 419.4 227.9 418.1 227C416.8 226.2 415.6 224.4 414.4 223.4C413.2 222.4 412 221.6 410.7 220.9C409.5 220.2 408.2 219.8 407 219.1C405.8 218.3 404.8 217.2 403.7 216.3C402.6 215.4 401.6 214.2 400.5 213.5C399.3 212.7 398.1 212.4 397 211.7C395.8 211.1 394.6 210.6 393.7 209.6C392.7 208.6 392.1 206.9 391.3 205.8C390.4 204.7 389.9 203.3 388.6 202.8C387.4 202.4 385.7 202.9 384 203.2C382.2 203.6 379.8 204.9 378.2 204.9C376.6 204.9 375.1 204.5 374.3 203.4C373.4 202.3 373.6 199.9 373.2 198.3C372.9 196.6 372.9 194.6 372.2 193.5C371.5 192.3 370.2 191.9 369 191.3C367.8 190.7 366.2 190.5 365 189.8C363.9 189.1 363.1 188.1 362.3 187C361.5 186 361.1 184.6 360.3 183.6C359.5 182.6 358.4 181.8 357.4 180.9C356.3 180.1 355.1 179.4 354 178.5C353 177.6 352.2 176.5 351.1 175.6C350 174.7 348.9 173.8 347.4 173C345.9 172.3 343.7 171.9 342.1 171.1C340.5 170.4 338.5 169.6 337.8 168.4C337.1 167.2 337.3 165.4 337.8 163.7C338.3 162 340.1 159.8 340.6 158.2C341.2 156.5 341.6 155 341.1 153.7C340.7 152.4 339 151.5 338.1 150.4C337.2 149.2 336 148 335.8 146.7C335.6 145.3 336.4 143.7 336.9 142.3C337.4 140.8 338.6 139.3 338.8 137.9C339.1 136.5 338.8 135.3 338.4 133.9C338 132.6 337 131.4 336.6 130C336.2 128.7 335.9 127.4 335.7 126C335.6 124.6 335.7 123.3 335.6 121.9C335.6 120.6 335.3 119.2 335.6 117.8C335.9 116.5 336.4 115.1 337.5 113.9C338.5 112.7 340.7 111.7 342.2 110.6C343.7 109.6 345.8 108.8 346.7 107.6C347.5 106.5 347.4 105.3 347.1 104C346.9 102.6 345.5 100.9 345.2 99.5C345 98.1 345 96.7 345.7 95.6C346.3 94.5 348.2 93.8 349.1 92.8C350.1 91.8 351.2 91 351.4 89.7C351.6 88.4 350.7 86.6 350.2 84.9C349.7 83.2 348.6 81.1 348.4 79.5C348.3 77.9 348.6 76.5 349.2 75.3C349.8 74 351 73.2 352 72.2C352.9 71.1 353.8 70.1 354.8 69.2C355.8 68.3 356.8 67.3 358 66.5C359.1 65.7 360.6 65.3 361.7 64.5C362.8 63.7 363.9 62.9 364.5 61.7C365.1 60.4 365 58.5 365.2 56.8C365.5 55.2 365.4 53 366.1 51.7C366.8 50.5 368.2 49.8 369.5 49.2C370.8 48.7 372.8 49 374.1 48.4C375.3 47.7 376.3 46.9 377 45.4C377.7 44 377.7 41.5 378.4 39.9C379 38.3 379.7 36.5 381 35.9C382.2 35.2 384.2 35.7 386 36C387.8 36.4 389.9 37.6 391.6 38.1C393.4 38.5 394.9 38.7 396.3 38.7C397.7 38.7 399 38.2 400.3 38C401.6 37.9 403 37.8 404.3 37.6C405.6 37.3 406.8 37.2 408.1 36.7C409.3 36.1 410.3 35.1 411.5 34.5C412.7 33.9 414 33.1 415.3 33.1C416.6 33 418.1 33.7 419.4 34.1C420.8 34.4 422.2 35.3 423.4 35.1C424.7 34.9 425.9 33.9 427.2 33C428.4 32.1 429.7 30.2 431 29.7C432.3 29.3 433.7 29.4 435 30.2C436.3 31.1 437.5 33.5 438.7 34.9C439.9 36.3 441 38 442.2 38.6C443.4 39.1 444.6 38.5 446 38.1C447.3 37.6 448.8 36.3 450.2 35.8C451.6 35.2 453 35 454.4 34.9C455.7 34.8 457 35.1 458.4 35.1C459.8 35 461.3 34.7 462.7 34.6C464.1 34.5 465.7 34.3 467.1 34.4C468.4 34.6 469.7 35.2 471 35.6C472.3 36 473.6 36.6 475 36.7C476.5 36.9 478.3 36.4 479.8 36.5C481.3 36.6 483.1 36.5 484.2 37.4C485.3 38.3 485.9 40.1 486.4 41.9C486.9 43.7 486.6 46.5 487.2 48C487.8 49.6 488.5 50.7 489.8 51.2C491.1 51.7 493.3 51 495 51.1C496.7 51.1 498.8 50.9 500.1 51.5C501.4 52.1 502 53.6 502.7 54.8C503.4 56.1 503.6 57.8 504.3 59.1C505 60.3 506 61.2 506.9 62.2C507.9 63.2 509.2 63.9 510 65C510.8 66 511.4 67.3 511.9 68.6C512.5 69.9 512.7 71.4 513.1 72.8C513.6 74.1 514.2 75.3 514.5 76.6C514.8 78 515.1 79.4 514.8 81C514.6 82.6 513.6 84.6 513.2 86.2C512.8 87.8 511.9 89.5 512.3 90.7C512.7 91.9 514 92.6 515.5 93.4C516.9 94.1 519.6 94.5 521.1 95.3C522.5 96.2 523.7 97.3 524 98.5C524.4 99.8 523.4 101.4 523.2 102.8C522.9 104.3 522.3 105.7 522.7 106.9C523 108.2 524.3 109.2 525.3 110.4C526.2 111.6 527.8 112.7 528.3 114C528.9 115.2 528.9 116.6 528.8 118C528.6 119.3 527.8 120.7 527.5 122C527.1 123.4 526.9 124.7 526.8 126Z" fill="none" stroke="#a6a6a6" stroke-width="1.1"/>
<clipPath id="pc"><path d="M526.1 126C526.3 127.3 525.7 128.6 525.2 129.9C524.6 131.1 523.4 132.3 522.8 133.5C522.2 134.8 521.7 135.9 521.5 137.2C521.3 138.4 521.5 139.7 521.7 141C521.8 142.3 522.2 143.7 522.3 145C522.4 146.3 522.4 147.6 522.4 149C522.4 150.3 522.4 151.6 522.4 153C522.3 154.3 522.5 155.8 522.3 157.1C522.1 158.4 521.9 159.8 521.3 161C520.8 162.2 519.8 163.2 518.8 164.2C517.8 165.2 516.3 165.9 515.3 166.9C514.3 167.8 513.4 168.7 512.7 169.8C512 170.9 511.7 172.2 511.1 173.3C510.5 174.4 510 175.6 509 176.5C508 177.4 506.6 178 505.3 178.5C503.9 179 502.1 179.2 500.7 179.7C499.4 180.2 498.2 180.7 497.4 181.6C496.7 182.5 496.4 183.9 496 185.1C495.6 186.4 495.5 188.1 495 189.3C494.4 190.5 493.7 191.6 492.8 192.4C491.8 193.2 490.5 193.6 489.4 194.1C488.2 194.6 486.8 194.9 485.6 195.3C484.4 195.7 483.2 196.2 482.1 196.6C480.9 197 479.7 197.4 478.6 197.8C477.4 198.2 476.2 198.4 475.1 198.9C474 199.5 473 200 472.1 200.9C471.3 201.8 470.6 203.1 469.8 204.3C469.1 205.5 468.4 207.1 467.6 208.2C466.7 209.3 465.7 210.2 464.5 210.8C463.4 211.4 462.1 211.3 460.8 211.6C459.6 211.9 458.3 211.9 457.1 212.4C456 212.9 454.9 213.8 453.8 214.7C452.7 215.6 451.7 217 450.5 217.8C449.3 218.5 448.1 219.2 446.8 219.3C445.5 219.3 444 218.7 442.7 218.3C441.4 217.9 440 217 438.7 216.6C437.4 216.3 436.2 216.1 434.9 216.2C433.6 216.3 432.4 216.9 431.1 217.3C429.8 217.7 428.5 218.2 427.2 218.5C425.9 218.7 424.6 218.8 423.2 218.9C421.9 219 420.6 219 419.3 219C418 218.9 416.6 218.9 415.3 218.6C414.1 218.2 412.8 217.7 411.7 216.8C410.6 215.9 409.6 214.4 408.7 213.2C407.7 211.9 406.9 210.3 406 209.2C405 208.2 404 207.4 402.9 206.9C401.8 206.4 400.4 206.6 399.2 206.4C398 206.2 396.6 206.2 395.5 205.7C394.4 205.2 393.4 204.3 392.6 203.3C391.7 202.4 391.1 201 390.3 200C389.4 199.1 388.6 198.3 387.5 197.8C386.4 197.3 385 197.2 383.7 197C382.4 196.7 380.8 196.7 379.7 196.3C378.5 195.8 377.4 195.1 376.6 194.2C375.7 193.3 375.2 192.1 374.5 191C373.8 189.9 373.2 188.8 372.5 187.7C371.8 186.7 371 185.8 370.3 184.9C369.5 184 368.7 183.1 367.9 182.2C367 181.3 366.3 180.4 365.3 179.6C364.3 178.9 363.2 178.2 361.9 177.7C360.5 177.1 358.7 176.9 357.2 176.4C355.7 175.9 353.8 175.5 352.6 174.7C351.4 173.9 350.6 172.8 350.1 171.6C349.6 170.4 349.8 168.8 349.7 167.4C349.6 166 349.8 164.5 349.4 163.2C349.1 161.9 348.4 160.9 347.7 159.8C346.9 158.7 345.7 157.8 345 156.7C344.3 155.5 343.6 154.3 343.4 153C343.2 151.8 343.5 150.3 343.6 149C343.7 147.6 344.2 146.2 344.2 144.9C344.1 143.6 343.9 142.4 343.6 141.1C343.2 139.9 342.5 138.7 342.1 137.5C341.8 136.2 341.4 135 341.2 133.7C341.1 132.4 341.2 131.1 341.2 129.8C341.3 128.6 341.4 127.3 341.6 126C341.8 124.7 341.9 123.4 342.3 122.2C342.8 121 343.5 119.7 344.4 118.6C345.3 117.4 346.7 116.3 347.8 115.2C348.9 114.2 350.2 113.2 350.8 112.1C351.4 111 351.5 109.9 351.4 108.7C351.2 107.4 350.3 106 349.9 104.7C349.4 103.3 348.8 101.8 348.8 100.6C348.8 99.3 349.3 98.1 349.9 97.1C350.5 96 351.7 95.1 352.4 94.1C353.1 93.1 353.8 92.1 354.2 90.9C354.6 89.8 354.6 88.4 354.8 87.2C355 85.9 355.1 84.6 355.5 83.4C355.9 82.2 356.5 81.1 357.2 80.1C357.9 79.1 358.9 78.2 359.6 77.2C360.4 76.3 361 75.2 361.6 74.2C362.3 73.1 362.7 71.9 363.3 70.7C363.8 69.6 364.4 68.5 365.1 67.4C365.7 66.2 366.5 65.3 367 64.1C367.6 62.9 368.1 61.6 368.5 60.2C369 58.8 369.1 57 369.6 55.6C370.1 54.1 370.5 52.5 371.4 51.6C372.4 50.6 373.7 50.1 375.2 49.8C376.6 49.5 378.5 49.9 380.1 49.9C381.7 50 383.4 50.2 384.7 49.9C386 49.6 387 48.9 388 48.1C389 47.2 389.7 45.9 390.7 45C391.6 44.1 392.6 43.2 393.8 42.7C395 42.2 396.3 42.1 397.6 41.9C398.9 41.7 400.3 41.7 401.6 41.5C402.8 41.2 404 40.8 405.2 40.5C406.4 40.1 407.6 39.6 408.8 39.4C410.1 39.2 411.3 39.1 412.6 39.1C413.9 39.1 415.2 39.4 416.5 39.5C417.8 39.6 419 39.6 420.2 39.6C421.5 39.7 422.7 39.5 423.9 39.6C425.1 39.7 426.4 40 427.6 40.4C428.8 40.9 430.1 41.8 431.2 42.3C432.4 42.7 433.6 43.4 434.7 43.3C435.9 43.2 437.1 42.6 438.3 41.8C439.5 41 440.9 39.5 442.2 38.6C443.5 37.8 444.9 36.8 446.2 36.6C447.5 36.3 448.8 36.8 449.9 37.3C451.1 37.8 452.1 39 453.2 39.7C454.4 40.4 455.4 41.1 456.6 41.4C457.8 41.8 459.1 41.7 460.3 41.9C461.6 42 462.9 41.9 464.2 42.1C465.5 42.3 466.7 42.6 467.9 43C469.1 43.3 470.3 43.7 471.6 44C472.8 44.3 474.2 44.5 475.5 44.7C476.8 44.9 478.2 45.1 479.5 45.5C480.8 45.9 481.9 46.5 483.1 47.1C484.2 47.8 485.1 48.8 486.2 49.5C487.3 50.2 488.4 50.9 489.6 51.5C490.8 52 492.3 52.3 493.4 52.9C494.6 53.6 495.9 54.2 496.7 55.3C497.5 56.3 497.9 57.9 498.1 59.5C498.4 61 498.1 63.1 498.3 64.7C498.4 66.3 498.4 67.9 499 69C499.6 70.2 500.6 70.8 501.7 71.5C502.8 72.3 504.4 72.6 505.5 73.3C506.6 74.1 507.7 74.9 508.4 75.9C509.2 76.9 509.5 78.2 509.9 79.4C510.3 80.6 510.5 82 510.8 83.2C511.1 84.5 511.4 85.7 511.7 86.9C512 88.1 512.3 89.3 512.5 90.6C512.6 91.9 512.6 93.2 512.7 94.5C512.7 95.7 512.7 97 513 98.2C513.2 99.3 513.8 100.4 514.3 101.5C514.9 102.5 515.8 103.5 516.3 104.6C516.8 105.7 517.3 106.9 517.5 108C517.7 109.2 517.4 110.5 517.5 111.7C517.6 112.9 517.6 114.1 518.1 115.3C518.6 116.4 519.6 117.5 520.6 118.6C521.6 119.8 523.3 121 524.2 122.2C525.1 123.4 526 124.7 526.1 126Z"/></clipPath><g clip-path="url(#pc)">
<use href="#cm" transform="translate(433,126) rotate(61) translate(0,30) scale(0.36,0.36) translate(-207,-38)"/>
<use href="#cm" transform="translate(433,126) rotate(133) translate(0,30) scale(0.36,0.36) translate(-207,-38)"/>
<use href="#cm" transform="translate(433,126) rotate(205) translate(0,30) scale(0.36,0.36) translate(-207,-38)"/>
<use href="#cm" transform="translate(433,126) rotate(277) translate(0,30) scale(0.36,0.36) translate(-207,-38)"/>
<use href="#cm" transform="translate(433,126) rotate(349) translate(0,30) scale(0.36,0.36) translate(-207,-38)"/>
<use href="#cm" transform="translate(433,126) rotate(25) translate(0,6.5) scale(0.47,0.47) translate(-207,-38)"/>
<use href="#cm" transform="translate(433,126) rotate(97) translate(0,6.5) scale(0.47,0.47) translate(-207,-38)"/>
<use href="#cm" transform="translate(433,126) rotate(169) translate(0,6.5) scale(0.47,0.47) translate(-207,-38)"/>
<use href="#cm" transform="translate(433,126) rotate(241) translate(0,6.5) scale(0.47,0.47) translate(-207,-38)"/>
<use href="#cm" transform="translate(433,126) rotate(313) translate(0,6.5) scale(0.47,0.47) translate(-207,-38)"/>
</g>
<use href="#cp" transform="translate(433,126) rotate(25) translate(0,6.5) scale(0.4,0.4) translate(-207,-38)"/>
<use href="#cp" transform="translate(433,126) rotate(97) translate(0,6.5) scale(0.4,0.4) translate(-207,-38)"/>
<use href="#cp" transform="translate(433,126) rotate(169) translate(0,6.5) scale(0.4,0.4) translate(-207,-38)"/>
<use href="#cp" transform="translate(433,126) rotate(241) translate(0,6.5) scale(0.4,0.4) translate(-207,-38)"/>
<use href="#cp" transform="translate(433,126) rotate(313) translate(0,6.5) scale(0.4,0.4) translate(-207,-38)"/>
<circle cx="433" cy="126" r="3.2" fill="#fff"/>
<path d="M787 126.8C787.6 128.4 788.2 130.2 787.6 131.8C787 133.4 785 134.9 783.2 136.4C781.5 137.8 778.6 139.1 777.1 140.4C775.5 141.8 774.4 143.1 774.1 144.5C773.8 146 774.8 147.7 775.3 149.4C775.9 151 777.1 152.9 777.3 154.6C777.5 156.2 777.2 157.8 776.5 159.2C775.7 160.6 774.1 161.7 773 162.9C771.8 164.2 770.5 165.3 769.6 166.6C768.8 167.8 768.4 169.3 767.8 170.7C767.3 172.1 767 173.7 766.3 175C765.6 176.3 764.6 177.5 763.5 178.6C762.4 179.8 760.9 180.6 759.9 181.7C758.8 182.8 757.8 183.9 757.1 185.2C756.3 186.5 756 188 755.6 189.5C755.1 191.1 754.9 192.8 754.4 194.3C753.9 195.9 753.4 197.4 752.7 198.9C752 200.3 751.3 201.7 750.4 203.1C749.5 204.4 748.6 205.7 747.5 206.7C746.3 207.8 745 208.7 743.6 209.4C742.1 210.1 740.3 210.3 738.8 210.9C737.3 211.5 735.7 211.8 734.6 212.9C733.5 214 732.8 215.6 732.2 217.5C731.6 219.3 731.5 222.1 730.9 224C730.2 226 729.5 228 728.3 229.2C727.1 230.3 725.4 230.9 723.6 230.9C721.8 231 719.4 229.8 717.5 229.4C715.5 229 713.6 228.3 711.9 228.4C710.3 228.5 709 229.4 707.6 230.1C706.2 230.8 705 232 703.5 232.4C702 232.9 700.4 232.9 698.8 232.7C697.1 232.5 695.3 231.5 693.7 231.2C692.1 231 690.6 230.7 689.1 231.1C687.7 231.6 686.4 232.9 685 233.9C683.6 234.9 682.3 236.5 680.8 237.2C679.3 237.9 677.7 238.2 676.2 238C674.6 237.7 673 236.5 671.5 235.6C669.9 234.8 668.5 233.4 667 232.7C665.5 232 664.1 231.5 662.6 231.3C661.2 231.1 659.7 231.3 658.2 231.6C656.7 231.8 655.1 232.3 653.6 232.7C652 233.1 650.4 233.7 648.7 234.2C647.1 234.7 645.3 235.3 643.7 235.5C642.1 235.8 640.4 235.9 638.9 235.5C637.3 235.1 636 234.1 634.6 233.1C633.3 232.2 632.2 230.7 630.9 229.8C629.6 228.9 628.3 228.1 626.7 227.9C625.1 227.6 623.2 228.1 621.5 228.2C619.7 228.3 617.6 228.8 616 228.5C614.4 228.1 613.1 227.1 611.9 226.1C610.6 225.1 609.7 223.5 608.5 222.4C607.4 221.2 606.4 219.9 605 219.1C603.7 218.3 601.9 218.1 600.4 217.5C598.8 216.9 596.9 216.6 595.8 215.5C594.7 214.4 593.9 212.7 593.6 210.8C593.2 208.9 593.7 206.1 593.6 204C593.5 201.9 593.8 199.7 593.1 198.2C592.5 196.8 591.2 196.1 589.8 195.4C588.3 194.7 585.9 194.7 584.2 194.2C582.5 193.6 580.6 193 579.4 192C578.2 191 577.6 189.5 577 188C576.5 186.6 576.4 184.8 576.1 183.2C575.7 181.6 575.4 180.1 575 178.6C574.5 177.1 574 175.7 573.4 174.3C572.9 172.9 572.5 171.5 571.9 170.1C571.4 168.7 570.9 167.3 570.2 166C569.5 164.7 568.5 163.5 567.6 162.2C566.6 160.9 565.4 159.7 564.5 158.4C563.5 157.1 562.7 155.7 562 154.3C561.3 152.9 561 151.4 560.5 149.9C559.9 148.4 559.5 147 558.8 145.5C558.1 144 557 142.6 556.3 141.1C555.6 139.6 554.6 138 554.5 136.4C554.3 134.9 554.8 133.2 555.5 131.6C556.2 130 557.9 128.4 558.6 126.8C559.2 125.2 559.6 123.8 559.4 122.2C559.2 120.6 558 119 557.1 117.4C556.3 115.7 554.6 113.9 554.2 112.3C553.8 110.6 553.7 108.9 554.6 107.4C555.4 105.9 557.6 104.7 559.3 103.4C561 102.2 563.4 101.2 564.8 100C566.2 98.8 567 97.5 567.6 96.1C568.1 94.7 567.7 93 567.8 91.5C568 90 567.9 88.3 568.4 86.9C568.9 85.5 569.8 84.2 570.7 82.9C571.5 81.7 572.7 80.6 573.4 79.2C574.1 77.9 574.5 76.5 574.9 75C575.3 73.5 575.3 71.7 575.8 70.2C576.2 68.7 576.8 67.2 577.6 66C578.5 64.7 579.8 63.7 581 62.7C582.2 61.7 583.6 60.9 584.8 59.9C586.1 59 587.2 58 588.3 57C589.4 55.9 590.4 54.8 591.3 53.7C592.3 52.5 593.2 51.4 593.9 49.9C594.7 48.5 595.2 47 595.7 45.2C596.2 43.4 596.4 41.2 596.9 39.4C597.4 37.5 597.8 35.4 598.8 34C599.7 32.6 601.1 31.6 602.7 31.2C604.4 30.7 606.6 31.1 608.5 31.2C610.4 31.2 612.6 31.8 614.1 31.4C615.7 30.9 616.7 29.7 617.8 28.5C618.9 27.3 619.7 25.3 620.9 24.1C622.1 22.9 623.4 21.8 624.9 21.4C626.4 20.9 628.3 21.3 630 21.4C631.7 21.6 633.6 22.4 635.3 22.3C636.9 22.3 638.3 21.9 639.7 21.3C641.2 20.7 642.4 19.4 643.9 18.8C645.3 18.2 646.8 17.6 648.4 17.8C650 17.9 651.8 19 653.4 19.8C655 20.6 656.7 22 658.2 22.6C659.8 23.1 661.2 23.3 662.7 23C664.1 22.6 665.5 21.4 667 20.5C668.4 19.6 670 18.2 671.5 17.5C673 16.8 674.6 16.4 676.2 16.3C677.7 16.2 679.2 16.5 680.7 16.9C682.3 17.3 683.7 18 685.2 18.6C686.6 19.3 688 20.1 689.4 20.8C690.8 21.6 692.1 22.5 693.5 23.1C694.9 23.6 696.3 24.1 697.9 24.1C699.4 24.1 701.1 23.5 702.9 23C704.7 22.5 706.7 21.5 708.5 21.1C710.3 20.7 712.2 20.5 713.8 20.8C715.4 21.1 716.7 22.1 718.1 23C719.4 23.8 720.5 25.2 721.9 26.1C723.2 27 724.6 27.7 726.1 28.3C727.6 28.9 729.5 28.8 730.9 29.5C732.3 30.3 733.6 31.3 734.5 32.8C735.4 34.3 735.6 36.7 736.2 38.6C736.7 40.4 736.9 42.6 737.7 44C738.6 45.3 739.8 46.1 741.4 46.6C743 47.2 745.4 46.8 747.2 47.2C749 47.6 751 47.8 752.2 48.8C753.4 49.9 753.9 51.6 754.2 53.5C754.4 55.3 753.8 57.8 753.8 59.7C753.8 61.7 753.6 63.7 754 65.2C754.5 66.7 755.4 67.7 756.4 68.8C757.5 69.9 759 70.7 760.2 71.7C761.4 72.7 762.5 73.8 763.6 74.9C764.6 76.1 765.5 77.3 766.4 78.6C767.3 79.8 768.2 81 769.1 82.3C769.9 83.6 770.8 84.9 771.4 86.3C772 87.7 772.4 89.3 772.7 90.8C773 92.3 773.1 93.9 773.4 95.4C773.7 96.9 774 98.3 774.5 99.8C775.1 101.2 775.9 102.5 776.6 104C777.2 105.4 777.8 106.9 778.3 108.4C778.7 109.8 778.7 111.4 779.1 112.9C779.5 114.4 779.8 115.9 780.6 117.4C781.3 119 782.6 120.4 783.7 122C784.8 123.6 786.3 125.2 787 126.8Z" fill="#f3f3f3" stroke="#acacac" stroke-width="1.1"/>
<path d="M779.7 126.8C780.8 128.3 782.3 130 782.4 131.5C782.4 133.1 781.2 134.7 780.1 136.1C779 137.6 776.8 138.9 775.7 140.3C774.6 141.6 773.9 143 773.2 144.4C772.6 145.8 772.6 147.3 772 148.6C771.3 150 770.3 151.3 769.4 152.5C768.4 153.8 767 154.8 766.3 156.1C765.6 157.4 765.4 158.8 765.2 160.2C765 161.7 765.5 163.4 765.2 164.8C764.8 166.2 764.1 167.5 763.1 168.6C762.1 169.7 760.2 170.4 759.2 171.5C758.1 172.5 757.2 173.5 756.8 175C756.4 176.4 757 178.3 757 180C757 181.6 757.3 183.6 756.9 185C756.4 186.5 755.4 187.6 754.5 188.7C753.5 189.9 752.3 190.8 751.3 191.9C750.4 193 749.8 194.4 748.8 195.5C747.8 196.6 746.9 197.8 745.5 198.4C744.1 199.1 742 199.2 740.4 199.5C738.8 199.9 736.8 199.8 735.7 200.6C734.5 201.5 734 202.9 733.6 204.7C733.2 206.4 733.5 209.1 733.2 211.1C732.9 213.2 732.5 215.3 731.8 216.8C731 218.4 729.7 219.3 728.6 220.4C727.5 221.5 726.1 222.3 724.9 223.3C723.7 224.3 722.7 225.8 721.2 226.3C719.7 226.8 717.9 226.8 716.1 226.4C714.2 226 711.9 224.5 710 223.8C708.1 223.2 706.3 222.5 704.9 222.7C703.4 222.8 702.3 224 701 224.7C699.7 225.5 698.6 226.8 697.2 227.2C695.9 227.7 694.3 227.5 692.8 227.4C691.3 227.3 689.7 226.7 688.3 226.8C686.8 226.9 685.5 227.4 684.1 227.9C682.7 228.4 681.4 229.3 680 229.6C678.6 229.8 677.1 229.6 675.7 229.4C674.2 229.3 672.8 228.6 671.3 228.7C669.9 228.8 668.5 229.4 667 230.1C665.6 230.7 664 232.2 662.5 232.5C661.1 232.9 659.5 232.8 658.1 232.2C656.7 231.5 655.5 229.6 654.2 228.5C652.9 227.3 651.7 225.9 650.4 225.2C649.1 224.6 647.7 224.7 646.3 224.5C644.9 224.4 643.4 224.5 641.9 224.4C640.5 224.3 639.2 223.7 637.7 223.7C636.2 223.7 634.7 223.8 632.9 224.4C631.1 225.1 628.9 226.6 626.9 227.4C624.9 228.2 622.6 229.4 621 229.3C619.3 229.2 618 228.1 616.9 226.9C615.8 225.6 615.4 223.1 614.5 221.6C613.6 220 612.6 218.8 611.6 217.5C610.6 216.3 609.3 215.5 608.4 214.3C607.4 213.1 606.7 211.5 606 210.1C605.2 208.7 604.8 206.9 603.9 205.8C602.9 204.6 601.8 203.9 600.4 203.2C599 202.6 597 202.6 595.7 201.9C594.3 201.2 593 200.3 592.3 199.1C591.5 197.8 591.5 195.8 591 194.3C590.5 192.8 590.3 191.1 589.5 190C588.6 188.8 587.1 188.2 585.8 187.4C584.6 186.5 583 185.8 582 184.7C581 183.6 580.6 182.1 580.1 180.8C579.6 179.4 579.6 177.7 579 176.4C578.5 175 577.6 173.9 576.9 172.6C576.2 171.3 575.3 170.2 575 168.7C574.8 167.3 575.3 165.5 575.5 163.9C575.7 162.3 576.7 160.5 576.4 159.1C576.2 157.7 575.4 156.6 574.1 155.5C572.8 154.4 570.3 153.7 568.7 152.6C567 151.6 565.2 150.4 564 149.2C562.9 147.9 562.5 146.4 561.9 145C561.2 143.5 560.8 142 560.1 140.6C559.5 139.1 558.4 137.6 558.2 136.1C557.9 134.6 558 133 558.8 131.4C559.5 129.9 561.6 128.3 562.7 126.8C563.9 125.3 565.1 123.9 565.6 122.5C566 121 565.5 119.6 565.3 118.1C565 116.6 564.1 115 564 113.5C563.9 112 564.3 110.5 564.7 109.1C565.1 107.7 566.2 106.4 566.7 105C567.1 103.6 567.3 102.1 567.4 100.7C567.6 99.2 567.4 97.6 567.9 96.2C568.3 94.8 569.3 93.6 570.4 92.4C571.4 91.2 573.1 90.3 574 89.1C575 87.9 575.5 86.7 575.8 85.2C576.1 83.8 575.6 81.9 575.9 80.5C576.2 79 576.6 77.5 577.6 76.5C578.7 75.4 580.6 74.8 582.1 74C583.6 73.3 585.3 72.8 586.4 71.8C587.5 70.8 588 69.5 588.6 68.2C589.2 67 589.5 65.4 590.2 64.2C590.9 62.9 591.9 61.9 592.6 60.7C593.3 59.4 594.1 58.2 594.4 56.5C594.7 54.9 594.4 52.5 594.5 50.6C594.7 48.6 594.5 46.1 595.2 44.7C596 43.2 597.3 42.3 598.8 41.7C600.3 41.1 602.5 41.5 604.2 41.2C605.9 40.9 607.4 40.5 608.8 39.8C610.1 39.2 611.1 37.9 612.3 37.2C613.6 36.5 615 35.9 616.4 35.4C617.8 34.9 619.4 34.7 620.7 34C622 33.3 623.2 32.5 624.3 31.3C625.4 30.2 626.2 28.3 627.3 27.1C628.4 26 629.7 24.8 631.1 24.4C632.6 24.1 634.5 24.8 636.2 25.1C637.8 25.4 639.6 26.4 641.2 26.4C642.7 26.5 644.1 26 645.5 25.6C646.9 25.2 648.2 24.3 649.6 24.1C651 23.9 652.6 24.2 654.1 24.5C655.6 24.8 657.1 25.6 658.6 25.7C660 25.8 661.4 25.4 662.8 25.2C664.2 25 665.6 24.2 667.1 24.2C668.5 24.3 669.9 25 671.3 25.7C672.7 26.3 674 27.9 675.4 28.3C676.8 28.7 678.1 28.8 679.6 28.3C681 27.7 682.6 26 684.2 25.1C685.8 24.1 687.5 22.9 689.1 22.5C690.7 22.1 692.1 22.5 693.6 22.7C695.1 22.9 696.5 23.4 698 23.6C699.5 23.9 701.1 23.7 702.6 24.1C704 24.6 705.4 25.1 706.6 26.2C707.8 27.3 708.6 29.3 709.6 30.7C710.6 32 711.4 33.6 712.7 34.3C714 34.9 715.7 34.7 717.4 34.6C719.1 34.5 721.2 33.7 723 33.6C724.7 33.6 726.5 33.7 727.9 34.3C729.3 35 730.2 36.3 731.4 37.3C732.6 38.3 733.8 39.2 735 40.2C736.2 41.1 737.7 41.6 738.7 42.8C739.7 44 740.3 45.6 740.8 47.3C741.3 48.9 741.1 51.3 741.5 52.9C742 54.6 742.4 56.1 743.4 57.1C744.3 58.2 746 58.6 747.2 59.5C748.4 60.3 749.8 61.1 750.6 62.3C751.3 63.5 751.4 65.3 751.7 66.9C752 68.4 751.9 70.2 752.5 71.5C753 72.8 754 73.8 755 74.8C756 75.9 757.3 76.7 758.2 77.9C759.1 79 759.5 80.4 760.2 81.6C760.9 82.9 761.3 84.2 762.3 85.3C763.4 86.4 765.2 87.2 766.6 88.2C768.1 89.2 770.3 90 771.3 91.2C772.3 92.5 772.7 94 772.5 95.6C772.4 97.2 771.1 99.1 770.6 100.8C770.1 102.4 769.4 104 769.3 105.5C769.3 107 770 108.3 770.4 109.7C770.8 111.1 771.4 112.4 771.8 113.8C772.3 115.2 772.3 116.7 772.9 118.1C773.6 119.5 774.4 120.9 775.5 122.3C776.7 123.8 778.6 125.3 779.7 126.8Z" fill="#8c8c8c" fill-opacity="0.04" stroke="#b4b4b4" stroke-width="0.8"/>
<path d="M769.4 126.8C768.7 128.2 766.8 129.5 766.3 130.9C765.7 132.2 765.8 133.5 766.1 134.9C766.5 136.4 768.1 137.9 768.5 139.3C768.8 140.8 768.5 142.2 768.3 143.6C768.2 145 767.5 146.3 767.6 147.7C767.6 149.2 768.8 150.9 768.6 152.3C768.5 153.7 767.9 155.1 766.6 156.2C765.3 157.3 762.4 157.8 760.9 158.7C759.4 159.7 758.2 160.6 757.4 161.7C756.6 162.9 756.8 164.4 756.1 165.5C755.3 166.6 753.8 167.3 752.8 168.3C751.9 169.3 750.8 170.1 750.5 171.5C750.1 172.8 751.1 174.9 751 176.3C750.8 177.8 750.5 179.3 749.6 180.2C748.7 181.2 746.6 181.4 745.6 182.3C744.5 183.2 743.9 184.3 743.4 185.6C742.8 186.9 743 188.8 742.4 190C741.8 191.2 740.4 191.8 739.6 192.9C738.8 194 737.8 194.9 737.5 196.5C737.1 198.1 737.8 200.9 737.4 202.6C737.1 204.3 736.6 206 735.5 207C734.5 207.9 732.4 207.7 731 208.3C729.7 208.8 728.5 209.7 727.3 210.4C726.1 211.2 725.2 212.4 723.7 212.6C722.1 212.8 719.9 211.8 718.2 211.7C716.6 211.6 714.9 211.3 713.7 212C712.6 212.7 712.1 214.7 711.1 215.8C710.1 216.9 709 218 707.8 218.6C706.5 219.1 704.8 218.6 703.5 219.1C702.2 219.6 701.2 220.7 699.9 221.4C698.7 222.2 697.7 223.6 696.3 223.7C694.9 223.9 693.1 222.6 691.6 222.2C690.1 221.7 688.5 220.8 687.2 221C685.8 221.2 684.7 222.8 683.5 223.4C682.2 224 680.8 224.5 679.5 224.5C678.1 224.5 676.6 223.4 675.3 223.3C673.9 223.2 672.6 223.9 671.2 224.1C669.9 224.3 668.5 225.2 667.2 224.6C665.8 224.1 664.5 222.1 663.3 220.9C662 219.8 660.9 218.1 659.6 217.7C658.4 217.3 657 218.3 655.6 218.6C654.3 218.8 652.9 219 651.6 219C650.3 219.1 649.1 218.3 647.6 218.7C646.2 219.2 644.4 220.7 642.7 221.7C641 222.7 639 224.4 637.4 224.6C635.9 224.9 634.7 223.6 633.4 223C632.2 222.3 631.2 221 629.8 220.5C628.5 220 626.7 220.6 625.3 220C624 219.5 622.8 218.6 621.8 217.4C620.9 216.2 620.6 213.9 619.5 213C618.4 212 616.7 212.1 615.3 211.8C613.9 211.4 612 211.6 611 210.6C609.9 209.6 609.7 207.5 609.1 206C608.5 204.5 608.2 202.7 607.3 201.6C606.5 200.4 605 200.1 604.1 199C603.3 198 602.8 196.5 602.3 195.1C601.8 193.7 602.1 191.7 601.2 190.7C600.3 189.7 598.6 189.6 597 189.2C595.4 188.8 592.9 189 591.6 188.3C590.2 187.6 589.8 186.2 588.9 185.1C588.1 184 587.5 182.7 586.6 181.7C585.7 180.6 583.9 180.1 583.3 178.8C582.8 177.5 583 175.8 583.3 174C583.6 172.3 585.2 170 585.4 168.4C585.5 166.8 584.8 165.8 584.2 164.7C583.5 163.5 582 162.7 581.4 161.6C580.8 160.4 581.1 158.9 580.6 157.7C580.1 156.4 579.5 155.3 578.3 154.2C577.2 153.2 574.7 152.5 573.7 151.3C572.7 150.2 572.3 148.8 572.2 147.4C572.1 146 573.2 144.4 573 143.1C572.7 141.7 571.6 140.5 570.6 139.2C569.7 138 568 136.7 567.4 135.3C566.8 134 567.3 132.5 567.1 131.1C566.9 129.7 566.8 128.3 566.1 126.8C565.5 125.3 563.4 123.8 563.2 122.4C563 120.9 563.7 119.4 564.9 118C566.1 116.7 568.8 115.5 570.1 114.3C571.5 113 572.1 111.8 572.9 110.5C573.8 109.3 574.2 108 575.3 106.8C576.4 105.7 578.6 104.9 579.5 103.8C580.4 102.6 580.9 101.5 580.7 100.1C580.5 98.6 578.7 96.7 578.3 95.2C577.9 93.6 578 92.1 578.4 90.8C578.7 89.5 580.1 88.6 580.6 87.3C581.1 86.1 580.8 84.4 581.1 83.1C581.4 81.7 581.6 80.2 582.6 79.2C583.6 78.2 585.9 77.9 587.1 77.1C588.4 76.3 589.4 75.4 590 74.2C590.5 72.9 589.8 70.8 590.2 69.4C590.6 68 591.4 66.9 592.4 65.9C593.4 65 595.1 64.7 596.1 63.7C597 62.7 597.3 61.1 598 60C598.8 58.9 599.5 57.6 600.8 57C602.1 56.4 604.5 56.9 605.9 56.5C607.3 56 608.5 55.6 609.2 54.3C609.9 53.1 609.7 50.6 610.2 49C610.6 47.4 611.3 45.9 612.1 44.6C612.8 43.3 614 42.5 614.7 41C615.5 39.5 615.8 37.2 616.6 35.7C617.4 34.1 618.1 32.3 619.6 31.9C621 31.4 623.3 32.7 625.1 33.1C626.9 33.5 628.7 34.2 630.3 34.3C631.9 34.3 633 33.4 634.5 33.4C635.9 33.4 637.6 34.1 639.2 34.4C640.7 34.8 642.4 35.9 643.7 35.6C645.1 35.4 646 33.8 647.2 33.1C648.4 32.3 649.6 31.1 650.9 31.1C652.3 31.1 653.9 32.5 655.3 32.9C656.7 33.3 658.1 33.6 659.4 33.5C660.7 33.4 661.9 32.1 663.2 32C664.5 31.8 665.9 32.4 667.2 32.6C668.5 32.8 669.8 33.6 671.2 33.1C672.5 32.6 673.9 30.6 675.3 29.6C676.7 28.5 678.3 27 679.7 26.7C681.1 26.4 682.4 27.6 683.8 28C685.1 28.4 686.5 28.9 687.8 29.2C689.2 29.4 690.8 28.9 692 29.7C693.2 30.4 694.2 32.2 695.2 33.6C696.3 34.9 697 37 698.2 37.6C699.4 38.3 701 37.5 702.5 37.2C704 37 705.8 36.2 707.3 36.2C708.7 36.2 709.8 37.2 711.3 37.3C712.8 37.5 714.4 37.3 716 37.2C717.7 37.2 719.7 36.4 721.1 36.9C722.5 37.4 723.4 38.8 724.2 40.1C725.1 41.4 725.2 43.7 726.2 44.8C727.2 45.9 728.7 46.1 729.9 46.8C731.2 47.5 732.7 47.9 733.7 48.9C734.6 49.9 734.8 51.8 735.7 52.9C736.6 54.1 737.8 54.8 738.9 55.6C740.1 56.4 742 56.5 742.8 57.7C743.5 58.9 743.3 61 743.3 62.8C743.2 64.7 742.3 67.1 742.5 68.7C742.7 70.2 743.7 71.1 744.3 72.2C744.9 73.4 745.8 74.4 746.3 75.6C746.8 76.8 746.4 78.5 747.2 79.6C748 80.6 749.5 81.1 751.2 81.7C752.8 82.3 755.7 82.4 757.1 83.2C758.5 84 759.1 85.3 759.6 86.5C760.2 87.8 759.9 89.4 760.5 90.7C761.1 91.9 762.5 92.8 763.1 94.1C763.8 95.3 764.3 96.7 764.2 98.1C764.2 99.6 762.8 101.3 762.9 102.7C762.9 104.2 763.6 105.3 764.5 106.5C765.4 107.8 767.6 108.8 768.3 110C769.1 111.3 768.9 112.8 769 114.2C769 115.6 768.4 117.1 768.6 118.5C768.8 119.8 770.1 121.2 770.2 122.6C770.3 124 770 125.4 769.4 126.8Z" fill="#8c8c8c" fill-opacity="0.04" stroke="#b8b8b8" stroke-width="0.8"/>
<path d="M773.5 126.8C773.3 128.3 773.4 129.7 773.5 131.2C773.7 132.6 775.1 134.2 774.6 135.7C774.2 137.1 772.3 138.4 770.6 139.6C769 140.8 765.8 141.7 764.7 143C763.7 144.2 764 145.5 764.1 147C764.2 148.4 765.2 150 765.3 151.5C765.4 152.9 764.5 154.1 764.5 155.6C764.5 157 765 158.6 765.3 160.3C765.7 161.9 767.2 164.1 766.6 165.3C765.9 166.6 763.8 167.4 761.7 168C759.6 168.6 755.8 168.3 754 168.9C752.2 169.5 751.5 170.6 750.9 171.7C750.2 172.8 750.3 174.4 749.9 175.7C749.5 176.9 748.4 177.8 748.3 179.3C748.2 180.9 748.9 183 749.4 185.1C749.9 187.2 751.6 190.3 751.3 191.9C751 193.5 749.5 194.2 747.8 194.7C746.2 195.1 743.2 194.3 741.5 194.7C739.8 195.1 738.9 196 737.8 196.9C736.7 197.7 736 199 734.9 199.7C733.8 200.5 732 200.5 731.1 201.6C730.3 202.8 730 204.6 729.8 206.6C729.5 208.6 730.3 212.2 729.7 213.8C729.1 215.5 727.7 216.2 726.3 216.7C724.8 217.2 722.5 216.2 721.1 216.7C719.7 217.2 719 218.9 717.8 219.7C716.5 220.5 715.4 221.5 713.8 221.6C712.2 221.6 710 220.2 708.4 220.1C706.8 220 705.5 220.2 704.1 220.8C702.8 221.3 701.9 223 700.5 223.2C699.1 223.3 697.3 222.3 695.7 221.7C694.1 221.1 692.4 219.5 691 219.7C689.6 220 688.7 221.9 687.6 223.1C686.4 224.3 685.3 226.2 684 226.8C682.7 227.4 681.1 226.7 679.7 226.8C678.3 226.9 676.9 227.3 675.5 227.5C674.1 227.7 672.7 228.6 671.3 227.9C669.9 227.2 668.5 224.7 667.2 223.1C665.9 221.5 664.7 218.7 663.4 218.3C662.1 217.8 660.8 219.3 659.4 220.2C657.9 221.2 656.3 223.1 654.8 224C653.4 224.8 652 224.7 650.4 225.3C648.9 225.9 647.2 227.1 645.5 227.7C643.9 228.3 642 229.6 640.7 229C639.4 228.3 638.6 225.7 637.7 223.8C636.8 221.9 636.5 218.7 635.5 217.5C634.4 216.4 632.8 216.9 631.3 217C629.8 217 627.9 217.9 626.3 218C624.7 218 623.6 217.2 621.9 217.3C620.3 217.3 618.3 217.9 616.5 218.2C614.6 218.4 612 219.7 610.7 218.9C609.4 218.2 609.2 215.8 608.7 213.8C608.3 211.8 608.8 208.8 608.2 207.2C607.6 205.6 606.1 205.3 605.1 204.3C604.1 203.3 602.9 202.6 602.2 201.3C601.5 200 601.7 197.7 600.9 196.5C600.2 195.3 599 194.6 597.7 193.9C596.5 193.2 594.4 193.2 593.5 192.2C592.5 191.2 592.7 189.2 592.3 187.7C592 186.3 592.2 184.4 591.2 183.5C590.2 182.5 587.7 182.6 586.2 182C584.7 181.3 583 180.6 582.4 179.4C581.7 178.2 582.5 176 582.3 174.6C582.2 173.1 581.7 171.7 581.3 170.4C580.9 169.1 579.7 168.1 579.8 166.6C579.8 165.1 581.2 163.1 581.4 161.6C581.6 160.1 582.1 158.5 581 157.5C579.8 156.5 576.5 156.2 574.4 155.4C572.4 154.6 569.8 153.8 568.5 152.6C567.3 151.5 567.6 149.9 567.1 148.5C566.6 147.1 566 145.7 565.7 144.3C565.4 142.9 564.8 141.4 565.5 139.9C566.1 138.4 568.6 136.7 569.8 135.1C570.9 133.6 572.6 132.2 572.4 130.9C572.2 129.5 569.9 128.2 568.6 126.8C567.2 125.4 565.1 123.9 564.4 122.4C563.7 120.9 564.4 119.5 564.3 118C564.1 116.5 563.7 115 563.7 113.5C563.8 112 563.4 110.4 564.6 109.1C565.8 107.9 569.1 107 571 105.9C573 104.9 575.7 104.2 576.6 103C577.5 101.8 576.4 100.2 576.4 98.8C576.4 97.4 576.1 95.8 576.5 94.5C576.9 93.2 578.5 92.4 578.9 91.1C579.3 89.7 579 88.1 578.9 86.6C578.9 85.1 578.2 83.2 578.9 82C579.5 80.7 581.7 80.3 582.9 79.4C584.2 78.5 585.8 77.9 586.3 76.6C586.9 75.3 585.9 73.1 586.2 71.6C586.5 70.2 587 68.8 588.1 67.9C589.3 67 591.8 67.2 593.1 66.5C594.4 65.7 595.1 64.7 595.9 63.5C596.7 62.4 596.8 60.6 597.7 59.6C598.6 58.6 600.4 58.5 601.3 57.5C602.2 56.5 603 55.4 603.2 53.5C603.4 51.6 602.2 48.1 602.3 46C602.5 43.9 602.9 41.9 604 41C605.2 40 607.5 40.6 609.1 40.3C610.7 40 612.1 39.5 613.6 39.3C615.2 39 616.6 38.4 618.2 38.5C619.9 38.6 622.2 39.8 623.7 39.8C625.2 39.7 626.6 39.6 627.5 38.2C628.4 36.8 628.4 33.3 629.1 31.4C629.9 29.6 630.8 27.7 632.1 27C633.4 26.4 635.4 27.4 636.9 27.5C638.5 27.7 640 27.5 641.6 27.8C643.1 28.1 644.6 28.1 646.3 29.1C647.9 30.1 649.9 32.8 651.5 33.8C653 34.8 654.4 35.7 655.7 35.2C656.9 34.6 657.9 31.7 659.1 30.4C660.3 29.1 661.6 27.8 662.9 27.3C664.3 26.9 665.7 27.9 667.1 27.7C668.5 27.6 669.9 26.8 671.3 26.5C672.7 26.2 674.2 25.5 675.5 26C676.9 26.6 678.1 28.8 679.4 29.8C680.7 30.7 681.8 31.7 683.2 31.7C684.6 31.6 686.3 29.7 687.8 29.3C689.2 29 690.7 29.1 692 29.7C693.2 30.3 694.1 32.4 695.4 32.9C696.7 33.4 698.3 32.9 699.8 32.6C701.3 32.4 703.2 31.3 704.7 31.4C706.2 31.4 707.2 32.7 708.7 32.9C710.1 33.1 711.7 33.1 713.5 32.8C715.2 32.4 717.8 30.6 719.4 30.8C721 30.9 722.1 32.2 722.8 33.9C723.6 35.5 723.4 38.8 723.9 40.6C724.4 42.5 725.2 43.8 726.1 45C726.9 46.2 728.2 46.8 729.1 47.9C730 49 730.2 50.8 731.4 51.6C732.6 52.4 734.1 52.6 736 52.6C737.9 52.6 741.3 51.1 743 51.5C744.6 51.8 745.7 53 746.1 54.6C746.5 56.2 745.2 59.3 745.1 61.3C745 63.2 745.2 64.8 745.4 66.4C745.5 68 746.1 69.3 746.2 70.8C746.4 72.4 745.5 74.5 746.1 75.7C746.7 76.9 747.9 77.6 749.8 78C751.6 78.5 755.4 77.8 757.3 78.3C759.2 78.9 760.6 79.9 761.2 81.1C761.8 82.4 760.8 84.5 761 85.9C761.1 87.4 761.9 88.6 762.2 90C762.5 91.3 763.2 92.6 763 94.1C762.9 95.6 761.3 97.6 761.2 99C761.1 100.5 761.5 101.7 762.6 102.8C763.7 104 766.7 104.7 768 105.8C769.2 107 769.7 108.4 769.9 109.8C770.2 111.1 769 112.7 769.4 114.1C769.8 115.5 771.5 116.8 772.4 118.1C773.4 119.5 774.9 120.9 775.1 122.4C775.3 123.8 773.8 125.3 773.5 126.8Z" fill="none" stroke="#8e8e8e" stroke-width="1.1"/>
<path d="M779.5 126.8C779.8 128.4 780.9 129.9 781.3 131.5C781.7 133.1 782.5 134.8 782 136.3C781.4 137.8 779.6 139.2 777.8 140.5C776.1 141.8 773.2 142.9 771.6 144.1C770.1 145.4 769.1 146.6 768.6 147.9C768.1 149.3 768.6 150.8 768.4 152.3C768.2 153.7 767.9 155.1 767.5 156.5C767.1 157.9 766.4 159.1 766.2 160.6C766 162 766.5 163.8 766.5 165.3C766.5 166.9 766.8 168.6 766.1 170C765.5 171.3 763.8 172.1 762.6 173.1C761.3 174.2 759.5 174.8 758.7 176C758 177.3 758.2 179 758.1 180.7C758.1 182.3 758.8 184.6 758.5 186.1C758.1 187.6 757 188.8 755.9 189.8C754.7 190.8 752.8 191.2 751.5 192.1C750.2 192.9 749.2 193.9 748.1 194.9C746.9 195.8 745.9 196.9 744.6 197.6C743.2 198.3 741.3 198.4 740 199.1C738.7 199.8 737.4 200.4 736.7 201.8C736.1 203.3 736.4 205.7 736.2 207.8C736 209.8 736.1 212.5 735.4 214.1C734.8 215.7 733.4 216.5 732.1 217.3C730.8 218.2 729.1 218.3 727.7 219C726.4 219.8 725.3 220.9 724.2 222C723 223.1 722.1 224.7 720.8 225.4C719.4 226.2 717.7 226.2 716.2 226.6C714.6 227 713 227 711.6 227.6C710.2 228.2 709.1 229.7 707.6 230.2C706.2 230.7 704.7 231.1 702.9 230.6C701.2 230.1 699 228.2 697.2 227.1C695.4 226 693.6 224.4 692 224.1C690.5 223.8 689.3 224.6 688 225.2C686.7 225.9 685.5 227.2 684.1 227.8C682.8 228.4 681.3 228.3 679.9 228.6C678.5 228.9 677.1 229.1 675.7 229.6C674.3 230.1 672.8 231.4 671.4 231.8C670 232.2 668.4 232.4 667 232.1C665.5 231.7 664.2 230.2 662.7 229.7C661.3 229.2 660 228.8 658.4 229.2C656.9 229.6 655.3 231.3 653.7 232C652.1 232.8 650.3 233.8 648.8 233.6C647.3 233.5 646 232.1 644.7 231.1C643.4 230.2 642.3 228.7 641 227.9C639.7 227.1 638.2 226.9 636.9 226.3C635.5 225.7 634.2 225.1 632.9 224.3C631.7 223.6 630.7 222.2 629.2 221.8C627.8 221.5 626.2 221.7 624.3 222.2C622.5 222.6 620 224.2 618.1 224.5C616.3 224.7 614.5 224.6 613.2 223.8C611.9 223 611.2 221.1 610.2 219.7C609.3 218.4 608.6 216.7 607.5 215.6C606.3 214.6 604.7 214.2 603.4 213.4C602.1 212.6 600.8 211.9 599.7 210.8C598.6 209.7 598 208.1 597.1 206.9C596.1 205.7 595 204.7 593.9 203.7C592.8 202.7 591.2 202.1 590.5 200.7C589.8 199.3 589.6 197.4 589.6 195.5C589.7 193.5 590.8 190.8 590.8 188.9C590.8 187.1 590.6 185.7 589.7 184.6C588.7 183.5 586.7 183.3 585.3 182.6C583.9 181.8 582.3 181.1 581.3 180C580.3 179 579.9 177.5 579.1 176.4C578.2 175.2 577.2 174.1 576.2 173C575.1 171.9 573.6 171 572.8 169.7C572 168.5 571.9 166.9 571.6 165.4C571.4 164 572 162.2 571.4 160.9C570.8 159.5 569.5 158.4 568.2 157.3C566.8 156.2 564.3 155.3 563.2 154C562.1 152.7 561.6 151.2 561.6 149.7C561.6 148.1 563 146.3 563.4 144.7C563.8 143.1 564.2 141.6 564.2 140.1C564.1 138.6 563.3 137.2 563.2 135.7C563 134.2 563.2 132.7 563.3 131.2C563.4 129.8 564.1 128.3 563.7 126.8C563.3 125.3 561.8 123.8 560.9 122.3C560.1 120.7 558.6 119 558.5 117.5C558.4 116 559.4 114.5 560.4 113.1C561.4 111.7 563.5 110.5 564.5 109.1C565.4 107.7 565.7 106.3 565.8 104.8C566 103.3 565.2 101.6 565.2 100.1C565.3 98.6 565.8 97.1 566.4 95.8C567 94.4 568.2 93.2 568.9 91.9C569.5 90.5 569.7 89 570.4 87.7C571 86.3 571.5 84.9 572.8 83.9C574.1 82.9 576.5 82.4 578.3 81.7C580 81 582.4 80.7 583.4 79.6C584.5 78.6 584.4 77.1 584.5 75.5C584.5 73.9 583.6 71.7 583.7 70C583.9 68.4 584.5 67 585.1 65.7C585.8 64.4 587.1 63.6 587.8 62.3C588.6 61 589 59.5 589.6 58.1C590.2 56.7 590.7 55.1 591.6 53.9C592.6 52.8 594.1 52.3 595.3 51.3C596.4 50.3 597.6 49.6 598.3 48.1C599 46.6 598.9 44.3 599.4 42.4C599.9 40.6 600.1 38.3 601.2 37.2C602.3 36.1 604.1 35.8 605.8 35.6C607.5 35.3 609.7 35.9 611.4 35.7C613.1 35.6 614.5 35.1 615.9 34.5C617.3 33.9 618.4 32.8 619.8 32.3C621.2 31.8 622.9 31.9 624.3 31.5C625.8 31.1 627.2 30.8 628.4 29.8C629.7 28.9 630.5 26.9 631.7 25.9C632.9 24.8 634.1 23.6 635.6 23.4C637.1 23.2 639 24.3 640.7 24.7C642.4 25.2 644.1 26.1 645.5 25.9C647 25.8 648.2 24.5 649.5 23.7C650.9 22.9 652.2 21.4 653.6 21C655 20.6 656.6 20.9 658.1 21C659.6 21.2 661.1 21.7 662.6 21.8C664.1 21.9 665.5 21.5 667 21.8C668.5 22.1 670 22.7 671.4 23.7C672.8 24.7 674.1 26.9 675.4 27.8C676.8 28.7 678 29.5 679.5 29.2C680.9 29 682.5 27.2 684 26.3C685.6 25.3 687.3 24 688.9 23.6C690.4 23.3 691.8 24 693.2 24.3C694.7 24.6 696 25.2 697.5 25.3C699 25.4 700.8 24.9 702.3 24.9C703.9 24.9 705.5 25 706.9 25.4C708.4 25.8 709.5 26.9 711.1 27.2C712.6 27.5 714.3 27.4 716.1 27.2C717.8 27 720.2 25.9 721.8 26.1C723.5 26.3 724.9 27.1 725.9 28.5C726.9 29.9 727.2 32.6 727.7 34.6C728.3 36.5 728.5 38.8 729.3 40.3C730.1 41.8 731.3 42.6 732.3 43.6C733.4 44.7 734.5 45.5 735.5 46.6C736.5 47.7 737.2 49.1 738.3 50C739.4 51 740.9 51.5 742.3 52.1C743.8 52.7 745.9 52.7 747.1 53.6C748.4 54.5 749.2 55.8 749.7 57.3C750.2 58.8 749.7 61.2 750.1 62.7C750.6 64.2 751.2 65.4 752.4 66.3C753.6 67.3 755.8 67.5 757.2 68.3C758.6 69.1 760 70.1 760.8 71.3C761.5 72.6 761.4 74.4 761.8 75.9C762.1 77.4 762.4 78.9 762.8 80.3C763.2 81.8 764 83 764.1 84.5C764.2 86.1 763.8 87.8 763.5 89.5C763.2 91.1 762.2 92.9 762.6 94.3C762.9 95.7 764.1 96.7 765.6 97.7C767 98.8 769.8 99.5 771.2 100.6C772.7 101.7 773.9 103 774.4 104.4C775 105.8 774.5 107.5 774.8 108.9C775.1 110.4 775.5 111.8 776.2 113.3C776.9 114.7 778.4 116.1 779 117.6C779.7 119.1 779.9 120.6 779.9 122.2C780 123.7 779.3 125.2 779.5 126.8Z" fill="none" stroke="#a6a6a6" stroke-width="1.1"/>
<clipPath id="hc"><path d="M770.8 126.8C770.9 128.2 771.5 129.6 772 131.1C772.4 132.6 773.4 134.1 773.6 135.6C773.7 137 773.7 138.5 773 139.9C772.3 141.3 770.8 142.5 769.4 143.7C768 144.9 766 146 764.7 147.1C763.5 148.2 762.5 149.4 761.9 150.6C761.4 151.9 761.6 153.3 761.5 154.7C761.4 156.1 761.7 157.6 761.4 158.9C761.1 160.2 760.5 161.5 759.8 162.7C759.2 163.9 758.1 164.9 757.4 166.1C756.7 167.2 756 168.4 755.6 169.7C755.1 171 754.9 172.4 754.6 173.7C754.2 175.1 754 176.5 753.5 177.8C752.9 179.1 752.3 180.3 751.5 181.5C750.8 182.6 749.9 183.7 748.9 184.7C748 185.8 747.1 186.8 746.1 187.7C745 188.6 743.9 189.5 742.8 190.3C741.7 191.1 740.3 191.8 739.3 192.6C738.2 193.4 737.1 194.2 736.3 195.3C735.5 196.5 735.1 197.9 734.6 199.4C734.1 200.9 733.9 202.8 733.4 204.4C732.8 205.9 732.2 207.4 731.3 208.6C730.4 209.7 729.1 210.5 727.9 211.2C726.7 212 725.2 212.4 724 213.2C722.8 214 721.7 214.8 720.6 215.9C719.6 217 718.9 218.8 717.8 219.8C716.7 220.7 715.4 221.6 713.9 221.8C712.4 222 710.5 221.3 708.7 220.7C706.9 220.2 704.9 218.9 703.3 218.5C701.6 218 700.1 217.7 698.8 217.9C697.5 218.2 696.4 219.2 695.2 220C694 220.8 692.9 222.1 691.7 222.7C690.4 223.3 689.1 223.7 687.7 223.8C686.3 224 684.9 223.6 683.5 223.5C682.1 223.4 680.7 223.2 679.4 223.4C678 223.5 676.7 224 675.3 224.3C674 224.6 672.6 225.2 671.3 225.3C669.9 225.5 668.5 225.4 667.1 225.3C665.8 225.1 664.4 224.6 663.1 224.3C661.7 223.9 660.4 223.5 659.1 223.1C657.8 222.7 656.5 222.3 655.2 221.8C653.9 221.4 652.6 220.9 651.3 220.6C650 220.3 648.7 220 647.3 220C645.9 220.1 644.5 220.4 643 220.8C641.4 221.2 639.7 222 638.2 222.4C636.6 222.7 634.9 223 633.5 222.9C632 222.7 630.7 222 629.5 221.3C628.2 220.7 627.1 219.7 625.8 219.1C624.5 218.5 623.1 218 621.7 217.7C620.3 217.3 618.6 217.3 617.2 216.9C615.7 216.5 614.1 216.3 613 215.3C612 214.3 611.3 212.5 610.8 210.8C610.2 209.2 610.2 206.8 609.7 205.1C609.2 203.5 608.7 202 607.8 201.1C606.8 200.1 605.3 199.8 603.9 199.3C602.5 198.8 600.7 198.7 599.4 198.1C598.1 197.4 597 196.5 596.1 195.4C595.3 194.3 594.9 192.8 594.3 191.4C593.8 190.1 593.4 188.6 592.7 187.4C592 186.2 591.1 185.2 590.2 184.2C589.3 183.2 588.2 182.3 587.4 181.2C586.6 180 585.9 178.8 585.4 177.5C584.9 176.3 584.7 174.8 584.3 173.4C584 172.1 583.8 170.7 583.4 169.4C583 168.1 582.6 166.8 582.1 165.6C581.6 164.3 581.1 163.1 580.5 161.9C579.9 160.7 579.3 159.5 578.5 158.4C577.7 157.3 576.6 156.2 575.5 155.1C574.4 154 573 152.9 572 151.8C570.9 150.6 569.8 149.4 569.3 148C568.7 146.7 568.7 145.2 568.6 143.8C568.6 142.4 569.1 140.9 569 139.5C569 138 568.8 136.7 568.3 135.3C567.8 133.9 566.8 132.5 566.3 131.1C565.8 129.7 565.2 128.2 565.3 126.8C565.3 125.4 565.8 123.9 566.6 122.5C567.4 121.1 569.1 119.8 570.1 118.5C571.1 117.2 572.1 115.9 572.4 114.6C572.7 113.2 572.2 111.8 571.8 110.3C571.4 108.9 570.4 107.2 570.2 105.8C570 104.3 570.1 102.8 570.6 101.5C571.2 100.2 572.5 99.1 573.5 97.9C574.5 96.8 575.9 95.8 576.8 94.6C577.6 93.5 578.2 92.2 578.8 91C579.3 89.7 579.5 88.3 580 87.1C580.5 85.8 581.1 84.6 581.9 83.5C582.7 82.4 583.9 81.4 584.8 80.4C585.8 79.4 586.9 78.5 587.8 77.5C588.6 76.4 589.4 75.4 590 74.2C590.7 73 591.2 71.8 591.8 70.6C592.4 69.3 592.9 68.1 593.4 66.7C593.9 65.4 594.4 64 594.8 62.6C595.3 61.2 595.5 59.5 596.1 58.2C596.7 56.8 597.2 55.3 598.1 54.2C599 53.1 600.3 52.4 601.5 51.7C602.8 51 604.4 50.7 605.7 50C606.9 49.3 608.1 48.6 609.1 47.6C610 46.5 610.6 44.9 611.4 43.6C612.2 42.2 612.8 40.6 613.9 39.6C615 38.7 616.4 38.2 617.9 37.9C619.3 37.5 621.1 37.7 622.6 37.6C624.1 37.5 625.7 37.6 627 37C628.3 36.5 629.3 35.4 630.3 34.4C631.4 33.3 632.3 31.6 633.4 30.7C634.6 29.7 635.9 29 637.4 28.8C638.8 28.7 640.5 29.3 642.1 29.8C643.7 30.2 645.4 31.2 646.8 31.5C648.3 31.8 649.7 31.9 651.1 31.8C652.4 31.7 653.7 31.1 655 30.8C656.4 30.5 657.7 30.2 659 30.2C660.4 30.2 661.8 30.6 663.2 30.8C664.5 31.1 665.9 31.5 667.2 31.7C668.5 31.8 669.9 31.8 671.2 31.6C672.5 31.5 673.9 31.1 675.2 30.8C676.6 30.5 678 30.2 679.4 29.9C680.8 29.6 682.2 29.4 683.6 29.2C685 29 686.5 28.7 687.9 28.6C689.4 28.6 690.8 28.5 692.2 28.8C693.5 29.1 694.8 29.8 696.1 30.6C697.3 31.3 698.4 32.5 699.6 33.3C700.8 34 701.9 34.8 703.3 35.1C704.7 35.4 706.2 35.1 707.8 35C709.4 34.9 711.2 34.2 712.7 34.3C714.2 34.4 715.7 34.8 716.9 35.5C718.1 36.3 718.9 37.9 720 38.9C721 39.9 722 41 723.2 41.7C724.4 42.4 725.9 42.8 727.3 43.2C728.8 43.6 730.6 43.5 732 44.1C733.3 44.7 734.7 45.4 735.5 46.7C736.3 47.9 736.6 49.8 737 51.5C737.3 53.3 737.2 55.4 737.6 57C738 58.5 738.5 59.9 739.3 61C740.1 62.1 741.3 62.8 742.3 63.7C743.3 64.6 744.5 65.4 745.3 66.5C746.2 67.5 746.7 68.8 747.3 70C747.9 71.3 748.2 72.7 748.9 73.9C749.5 75.1 750.2 76.2 751.1 77.2C752 78.3 753.1 79.1 754.1 80.1C755.1 81.1 756.2 82.1 757.1 83.2C758 84.3 758.8 85.4 759.5 86.6C760.3 87.7 761 89 761.6 90.2C762.2 91.5 762.8 92.8 763.1 94.1C763.4 95.5 763.5 96.9 763.5 98.3C763.6 99.7 763.2 101.3 763.3 102.7C763.3 104 763.3 105.4 763.7 106.7C764.2 108 765.2 109.2 766.2 110.4C767.2 111.6 768.7 112.8 769.6 114.1C770.5 115.4 771.5 116.8 771.8 118.2C772.1 119.6 771.8 121.1 771.6 122.5C771.5 123.9 770.8 125.4 770.8 126.8Z"/></clipPath><g clip-path="url(#hc)" opacity="0.78">
<use href="#cm" transform="translate(669.2,126.8) rotate(13) translate(0,46) scale(0.31,0.31) translate(-207,-38)"/>
<use href="#cm" transform="translate(669.2,126.8) rotate(73) translate(0,46) scale(0.31,0.31) translate(-207,-38)"/>
<use href="#cm" transform="translate(669.2,126.8) rotate(133) translate(0,46) scale(0.31,0.31) translate(-207,-38)"/>
<use href="#cm" transform="translate(669.2,126.8) rotate(193) translate(0,46) scale(0.31,0.31) translate(-207,-38)"/>
<use href="#cm" transform="translate(669.2,126.8) rotate(253) translate(0,46) scale(0.31,0.31) translate(-207,-38)"/>
<use href="#cm" transform="translate(669.2,126.8) rotate(313) translate(0,46) scale(0.31,0.31) translate(-207,-38)"/>
<use href="#cm" transform="translate(669.2,126.8) rotate(80) translate(0,4) scale(0.27,0.27) translate(-207,-38)"/>
<use href="#cm" transform="translate(669.2,126.8) rotate(200) translate(0,4) scale(0.27,0.27) translate(-207,-38)"/>
<use href="#cm" transform="translate(669.2,126.8) rotate(320) translate(0,4) scale(0.27,0.27) translate(-207,-38)"/>
<use href="#cm" transform="translate(669.2,126.8) rotate(43) translate(0,15) scale(0.47,0.47) translate(-207,-38)"/>
<use href="#cm" transform="translate(669.2,126.8) rotate(103) translate(0,15) scale(0.47,0.47) translate(-207,-38)"/>
<use href="#cm" transform="translate(669.2,126.8) rotate(163) translate(0,15) scale(0.47,0.47) translate(-207,-38)"/>
<use href="#cm" transform="translate(669.2,126.8) rotate(223) translate(0,15) scale(0.47,0.47) translate(-207,-38)"/>
<use href="#cm" transform="translate(669.2,126.8) rotate(283) translate(0,15) scale(0.47,0.47) translate(-207,-38)"/>
<use href="#cm" transform="translate(669.2,126.8) rotate(343) translate(0,15) scale(0.47,0.47) translate(-207,-38)"/>
</g>
<use href="#cp" transform="translate(645.2,119.8) rotate(200) scale(0.43) translate(-207,-36)"/>
<use href="#cp" transform="translate(659.7,114.8) rotate(150) scale(0.43) translate(-207,-36)"/>
<use href="#cp" transform="translate(683.6,102.1) rotate(20) scale(0.43) translate(-207,-36)"/>
<use href="#cp" transform="translate(678.8,121.2) rotate(300) scale(0.43) translate(-207,-36)"/>
<use href="#cp" transform="translate(666,130.8) rotate(90) scale(0.43) translate(-207,-36)"/>
<use href="#cp" transform="translate(675.6,146.8) rotate(250) scale(0.43) translate(-207,-36)"/>
</g>
</svg>
</body></html>
